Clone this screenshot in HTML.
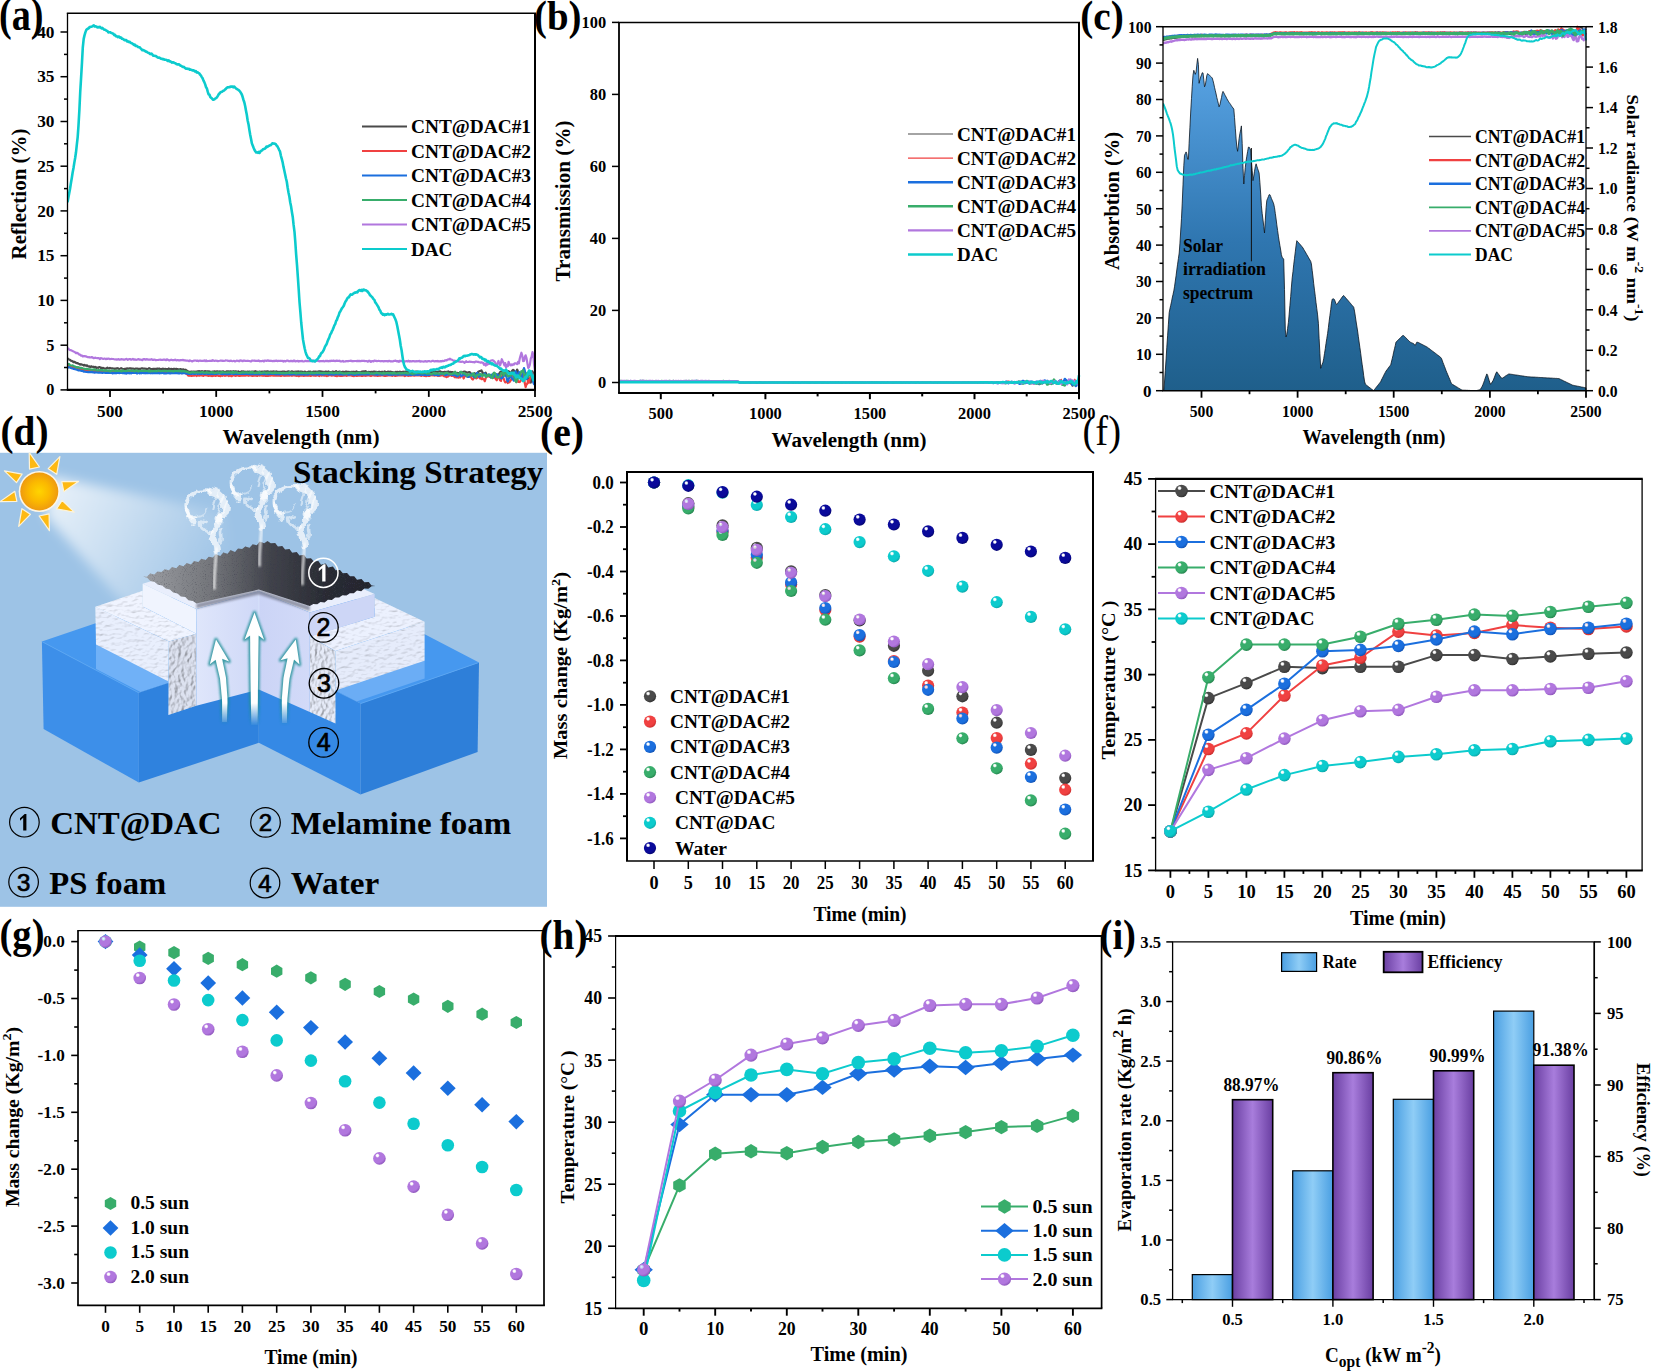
<!DOCTYPE html>
<html><head><meta charset="utf-8"><title>figure</title>
<style>html,body{margin:0;padding:0;background:#fff}svg{display:block}text{font-family:"Liberation Serif", serif}</style></head>
<body><svg width="1654" height="1371" viewBox="0 0 1654 1371">
<rect width="1654" height="1371" fill="#fff"/>
<g><clipPath id="ca"><rect x="67.5" y="13.2" width="467.5" height="376.7"/></clipPath><g clip-path="url(#ca)"><polyline points="67.5,358.1 68.3,359.2 69.2,359.5 70,359.9 70.9,360.7 71.8,360.9 72.6,361.3 73.5,362.2 74.3,361.8 75.2,362.3 76,362.9 76.8,363.1 77.7,363.2 78.5,363.7 79.4,364 80.2,364.6 81.1,364.3 82,364.6 82.8,364.8 83.7,365.5 84.5,364.9 85.3,365.5 86.2,365.8 87,365.3 87.9,366.1 88.8,366.6 89.6,366.4 90.5,367.1 91.3,366.3 92.2,366.8 93,367 93.8,366.7 94.7,367.5 95.5,367 96.4,367.9 97.2,367.6 98.1,367.8 99,367.2 99.8,367.2 100.7,367.9 101.5,367.7 102.3,368 103.2,367.9 104.1,368.3 104.9,368.6 105.8,368.7 106.6,368.2 107.4,367.7 108.3,368.3 109.2,368.5 110,367.9 110.8,368.4 111.7,368.4 112.5,368.4 113.4,368.5 114.2,368.6 115.1,368.9 116,368.4 116.8,368.6 117.7,368.2 118.5,368.7 119.3,369.1 120.2,368.6 121.1,368.1 121.9,368.7 122.8,368.9 123.6,369 124.4,368.9 125.3,368.7 126.2,369 127,368.3 127.8,368.7 128.7,368.6 129.6,368.3 130.4,368.3 131.2,368.8 132.1,368.6 132.9,368.5 133.8,368.8 134.7,369.2 135.5,368.6 136.4,368.5 137.2,368.6 138.1,369 138.9,368.8 139.8,368.9 140.6,368.8 141.4,368.4 142.3,368.4 143.1,368.6 144,368.6 144.9,368.6 145.7,368.8 146.6,368.8 147.4,369 148.2,368.8 149.1,368.2 149.9,368.6 150.8,368.9 151.6,369 152.5,369.1 153.3,368.8 154.2,368.8 155.1,369.3 155.9,368.8 156.8,369.1 157.6,368.5 158.4,368.9 159.3,368.5 160.2,369.1 161,369 161.8,368.9 162.7,368.7 163.6,368.8 164.4,369.3 165.2,368.9 166.1,369 166.9,369.1 167.8,369.2 168.7,368.5 169.5,369.1 170.3,369.2 171.2,368.9 172.1,369 172.9,369.1 173.8,368.9 174.6,368.9 175.4,369 176.3,368.8 177.2,369 178,369.3 178.9,369.3 179.7,369.3 180.6,369.1 181.4,369.5 182.2,369.7 183.1,369.3 183.9,369.7 184.8,369.9 185.7,369.7 186.5,370.5 187.3,370.8 188.2,371.5 189.1,371.9 189.9,371.9 190.8,371.7 191.6,371.6 192.4,371.8 193.3,371.6 194.2,372 195,371.6 195.8,372 196.7,371.6 197.6,371.4 198.4,371.3 199.2,371.1 200.1,372 201,371.4 201.8,371.2 202.6,371.3 203.5,371.8 204.3,371.5 205.2,371.1 206.1,372 206.9,371.4 207.8,371.3 208.6,371.8 209.5,371.4 210.3,371.9 211.1,371.8 212,371.8 212.8,371.5 213.7,371.6 214.6,371.3 215.4,371.8 216.2,371.6 217.1,371.3 218,371.4 218.8,371.9 219.7,371.4 220.5,371.7 221.3,371.5 222.2,371.5 223,371.3 223.9,371.6 224.8,372.1 225.6,372 226.5,371.4 227.3,371.7 228.2,371.3 229,371.5 229.8,371.8 230.7,371.3 231.5,371.8 232.4,372.2 233.2,371.1 234.1,372.1 234.9,371.4 235.8,371.4 236.7,371.6 237.5,372.1 238.4,371.3 239.2,372 240,372 240.9,371.7 241.8,371.4 242.6,371.5 243.4,371.4 244.3,371.8 245.2,371.7 246,371.9 246.8,371.7 247.7,371.5 248.6,371.7 249.4,371.5 250.2,371.8 251.1,371.8 251.9,371.6 252.8,371.7 253.7,371.5 254.5,371.6 255.3,371.2 256.2,371.7 257.1,371.7 257.9,371.9 258.8,371.7 259.6,371.5 260.4,371.9 261.3,371.7 262.1,371.5 263,371.7 263.9,371.8 264.7,371.4 265.6,371.7 266.4,371.6 267.2,371.4 268.1,371.4 268.9,371.8 269.8,371.8 270.6,371.6 271.5,371.7 272.4,372.2 273.2,371.4 274.1,371.7 274.9,371.5 275.8,372 276.6,371.4 277.4,371.9 278.3,371.8 279.1,372.1 280,371.8 280.9,371.8 281.7,371.8 282.6,371.6 283.4,371.7 284.2,371.5 285.1,371.9 286,372 286.8,371.8 287.6,371.6 288.5,371.4 289.4,371.5 290.2,372.2 291.1,371.7 291.9,371.4 292.8,371.7 293.6,371.9 294.5,371.7 295.3,371.9 296.1,371.6 297,371.8 297.9,371.4 298.7,371.6 299.5,372 300.4,371.6 301.2,371.5 302.1,371.9 303,371.9 303.8,372.4 304.7,371.5 305.5,371.9 306.4,372.4 307.2,372.3 308,371.9 308.9,371.6 309.8,371.8 310.6,371.7 311.5,372.1 312.3,372.2 313.2,371.6 314,371.7 314.9,371.8 315.7,371.5 316.5,372.1 317.4,371.9 318.2,371.5 319.1,371.3 320,371.8 320.8,371.4 321.6,372 322.5,371.7 323.4,371.9 324.2,372.2 325.1,371.7 325.9,371.6 326.8,371.9 327.6,371.8 328.5,371.4 329.3,372.2 330.1,372.2 331,372 331.8,372.1 332.7,371.5 333.6,371.7 334.4,372.1 335.2,372 336.1,371.1 337,372 337.8,372 338.6,371.8 339.5,371.7 340.3,371.8 341.2,372.1 342.1,372.1 342.9,371.7 343.8,371.9 344.6,372.3 345.5,371.5 346.3,371.6 347.1,371.9 348,371.9 348.9,371.8 349.7,372 350.6,372.2 351.4,371.8 352.2,372.2 353.1,371.7 353.9,372.2 354.8,371.9 355.6,371.9 356.5,371.4 357.4,372.1 358.2,372.2 359.1,372 359.9,372.2 360.8,372 361.6,371.7 362.4,371.7 363.3,371.4 364.1,372.1 365,371.2 365.9,371.3 366.7,371.9 367.6,372.5 368.4,371.9 369.2,371.9 370.1,372.5 370.9,371.9 371.8,371.9 372.6,372.1 373.5,371.7 374.4,371.6 375.2,372 376.1,371.8 376.9,372.1 377.8,372.1 378.6,371.9 379.4,371.7 380.3,372 381.1,372.5 382,371.7 382.9,372.3 383.7,371.9 384.6,371.4 385.4,371.9 386.2,372.2 387.1,372.3 387.9,371.6 388.8,371.9 389.6,371.8 390.5,371.7 391.4,371.9 392.2,372 393.1,372.2 393.9,372.7 394.8,372.3 395.6,371.9 396.4,372 397.3,371.8 398.1,372 399,371.9 399.9,371.7 400.7,372.2 401.6,372 402.4,372.4 403.2,371.7 404.1,371.9 404.9,371.8 405.8,371.5 406.6,371.6 407.5,372 408.4,371.7 409.2,372.3 410.1,371.8 410.9,371.9 411.8,372.4 412.6,371.6 413.4,372.2 414.3,371.8 415.2,372 416,371.6 416.9,371.5 417.7,372.1 418.5,372.4 419.4,372.2 420.2,372 421.1,372.2 421.9,372.1 422.8,371.9 423.7,372.9 424.5,372.2 425.4,372.3 426.2,371.9 427,372.1 427.9,372.2 428.8,371.9 429.6,372.4 430.4,372 431.3,372.2 432.2,372 433,372 433.9,371.3 434.7,371.8 435.5,371.6 436.4,371.8 437.2,372 438.1,371.7 438.9,371.6 439.8,371.3 440.7,371.6 441.5,372.1 442.3,372.5 443.2,372 444.1,372.5 444.9,371.7 445.8,372.5 446.6,371.9 447.4,372.2 448.3,371.4 449.2,372.9 450,371.9 450.8,372.2 451.7,372.1 452.6,372.2 453.4,372.8 454.2,372.5 455.1,372.3 455.9,373.5 456.8,372.8 457.7,373.1 458.5,373.4 459.3,372.8 460.2,372.7 461.1,372.2 461.9,372.3 462.8,372.3 463.6,371.7 464.4,371.5 465.3,371.7 466.2,372.3 467,372.6 467.8,372.6 468.7,372.2 469.6,372.2 470.4,372.7 471.2,374.5 472.1,375.1 472.9,375.2 473.8,374.1 474.6,373.2 475.5,373.8 476.3,373.9 477.2,374.1 478.1,372 478.9,371.5 479.8,371.1 480.6,370.9 481.5,370.4 482.3,372.1 483.1,373.4 484,374 484.8,373.2 485.7,372.7 486.6,375 487.4,375.7 488.2,375.1 489.1,375.6 490,376.3 490.8,377.2 491.6,376.3 492.5,375 493.3,376.7 494.2,374.7 495.1,375.3 495.9,374.5 496.8,374.5 497.6,374.6 498.5,375.1 499.3,373.6 500.1,372.2 501,371.6 501.8,372.3 502.7,375.4 503.6,375 504.4,375.2 505.2,375.4 506.1,375.8 506.9,374.8 507.8,372.4 508.6,371.1 509.5,372.2 510.4,372.7 511.2,373 512,371 512.9,369.9 513.8,370.2 514.6,372.4 515.5,373 516.3,372.6 517.1,369.5 518,371.5 518.9,373.9 519.7,376.1 520.5,375.5 521.4,375.4 522.2,375.3 523.1,374.8 524,377.3 524.8,378.2 525.6,378.2 526.5,376.6 527.4,379.7 528.2,377.1 529,380.4 529.9,380.8 530.8,382.5 531.6,376.8 532.5,371.4 533.3,372.9 534.1,375.6 535,377.8" fill="none" stroke="#4a4a4a" stroke-width="2.2" stroke-linejoin="round" /><polyline points="67.5,365.1 68.3,365.2 69.2,365.8 70,366.3 70.9,366.1 71.8,366.5 72.6,367.5 73.5,367.6 74.3,367.5 75.2,367.5 76,368.2 76.8,368.3 77.7,368.9 78.5,368 79.4,368.8 80.2,368.9 81.1,369.2 82,369.3 82.8,369.6 83.7,370 84.5,369.8 85.3,370.2 86.2,370 87,370.7 87.9,370.7 88.8,370.5 89.6,370.4 90.5,370.8 91.3,371.1 92.2,371 93,371.2 93.8,370.6 94.7,371 95.5,370.9 96.4,371.3 97.2,371.6 98.1,371.2 99,371.1 99.8,371.4 100.7,371.7 101.5,371.4 102.3,371.9 103.2,371.6 104.1,372 104.9,372.1 105.8,371.8 106.6,371.8 107.4,371.4 108.3,372.1 109.2,372 110,372.3 110.8,372.5 111.7,372.5 112.5,371.9 113.4,372.4 114.2,371.7 115.1,371.7 116,372.1 116.8,371.6 117.7,372 118.5,371.8 119.3,372.1 120.2,371.8 121.1,372.3 121.9,371.9 122.8,372.2 123.6,372.1 124.4,371.9 125.3,372.1 126.2,372.1 127,371.9 127.8,371.9 128.7,372.5 129.6,372 130.4,372 131.2,372.3 132.1,372 132.9,372.5 133.8,371.8 134.7,372.2 135.5,372.2 136.4,371.8 137.2,372.2 138.1,372 138.9,372.4 139.8,372.3 140.6,372.5 141.4,372.2 142.3,371.9 143.1,372.1 144,371.9 144.9,372.5 145.7,372.4 146.6,372.3 147.4,372 148.2,372.1 149.1,372.2 149.9,372 150.8,372.3 151.6,372.2 152.5,371.9 153.3,372.4 154.2,372.2 155.1,371.8 155.9,372.2 156.8,372.1 157.6,372.4 158.4,371.7 159.3,372.9 160.2,372.6 161,372.5 161.8,371.8 162.7,372.2 163.6,372.3 164.4,372.6 165.2,372.2 166.1,372.3 166.9,372.5 167.8,372.7 168.7,372.6 169.5,372.2 170.3,372.2 171.2,372.3 172.1,372.4 172.9,372.8 173.8,372.3 174.6,372.6 175.4,372.3 176.3,372.2 177.2,372.5 178,372.6 178.9,372.1 179.7,372.3 180.6,372.6 181.4,373.2 182.2,372.4 183.1,372.3 183.9,372.1 184.8,372.7 185.7,373.2 186.5,373.9 187.3,374.4 188.2,375.6 189.1,375.6 189.9,375.8 190.8,375.5 191.6,376 192.4,375.5 193.3,375.7 194.2,375.6 195,375.4 195.8,375.3 196.7,376 197.6,375.3 198.4,375.4 199.2,375.7 200.1,375.2 201,375.5 201.8,375.2 202.6,375.7 203.5,375.8 204.3,375.3 205.2,375 206.1,375.4 206.9,375.3 207.8,375.7 208.6,375.9 209.5,375.6 210.3,375.2 211.1,376.1 212,375.7 212.8,376.1 213.7,375.6 214.6,375.3 215.4,375.9 216.2,375.7 217.1,375.2 218,375.6 218.8,375.9 219.7,375.9 220.5,376.1 221.3,375.4 222.2,375.8 223,375.3 223.9,375.4 224.8,375.8 225.6,375.7 226.5,375.4 227.3,375.5 228.2,375.5 229,376 229.8,375.3 230.7,375.8 231.5,376.2 232.4,375.7 233.2,375.5 234.1,375 234.9,375.7 235.8,375.9 236.7,375 237.5,375.5 238.4,375.7 239.2,375.9 240,375.9 240.9,375.2 241.8,375.7 242.6,375.7 243.4,375.7 244.3,375.2 245.2,375.7 246,375.4 246.8,375.5 247.7,375.5 248.6,375.8 249.4,375.4 250.2,375.2 251.1,375.6 251.9,375.8 252.8,375.9 253.7,375.5 254.5,375.7 255.3,375.6 256.2,375.6 257.1,376 257.9,375.4 258.8,375.5 259.6,375.6 260.4,375.5 261.3,375.3 262.1,375.6 263,375.8 263.9,375.3 264.7,375.7 265.6,375.8 266.4,376 267.2,375.6 268.1,375.9 268.9,375.7 269.8,375.5 270.6,375.6 271.5,375.3 272.4,375.5 273.2,375.7 274.1,375.7 274.9,375.7 275.8,375.4 276.6,375.6 277.4,375.7 278.3,375.4 279.1,375.6 280,375.7 280.9,376 281.7,375.5 282.6,375.5 283.4,375.6 284.2,375.7 285.1,375.8 286,375.6 286.8,375.5 287.6,375.6 288.5,375.6 289.4,375.7 290.2,375.5 291.1,375.5 291.9,375.8 292.8,375.4 293.6,375.4 294.5,375.4 295.3,375.6 296.1,375.6 297,375.9 297.9,375.4 298.7,376.2 299.5,375.7 300.4,375.7 301.2,375.4 302.1,375.6 303,375.8 303.8,376 304.7,375.8 305.5,375.6 306.4,375.6 307.2,375.6 308,375.8 308.9,375.6 309.8,375.3 310.6,375.9 311.5,375.6 312.3,375.1 313.2,375.4 314,375.7 314.9,375.4 315.7,375.8 316.5,375.6 317.4,375.2 318.2,375.1 319.1,376 320,375.4 320.8,375.1 321.6,375.7 322.5,375.5 323.4,375.2 324.2,375.7 325.1,375.5 325.9,375.6 326.8,376.1 327.6,375.5 328.5,375.6 329.3,375.3 330.1,375 331,375.4 331.8,375.7 332.7,375.5 333.6,375.5 334.4,375.3 335.2,376 336.1,375.9 337,376.1 337.8,375.4 338.6,375.6 339.5,375.8 340.3,375.8 341.2,375.7 342.1,375.8 342.9,375.7 343.8,375.7 344.6,375.2 345.5,375.5 346.3,375.8 347.1,375.7 348,375.3 348.9,375.5 349.7,375.5 350.6,375.4 351.4,375.2 352.2,375.9 353.1,375.8 353.9,376.1 354.8,375.5 355.6,375.7 356.5,375.8 357.4,375.8 358.2,375.4 359.1,375.6 359.9,375.7 360.8,375.2 361.6,375.9 362.4,375.9 363.3,374.9 364.1,375.7 365,375.7 365.9,375.8 366.7,375.6 367.6,375.4 368.4,375.4 369.2,375.4 370.1,375.7 370.9,376 371.8,375.5 372.6,375.2 373.5,375.3 374.4,375.6 375.2,375.4 376.1,375.7 376.9,375.6 377.8,375.9 378.6,375.7 379.4,375.5 380.3,375.6 381.1,375.4 382,375.1 382.9,375.2 383.7,375.7 384.6,375.8 385.4,375.8 386.2,375.8 387.1,375.6 387.9,375.5 388.8,375.5 389.6,375.5 390.5,375.5 391.4,375.6 392.2,375.8 393.1,375.1 393.9,375.3 394.8,375.8 395.6,375.8 396.4,375.7 397.3,375.6 398.1,375.2 399,375.3 399.9,375.3 400.7,375.3 401.6,375.3 402.4,375.4 403.2,375.5 404.1,375.6 404.9,376.1 405.8,375.6 406.6,375.1 407.5,375.7 408.4,375.8 409.2,375.3 410.1,375.6 410.9,375.7 411.8,375.2 412.6,375.5 413.4,375.4 414.3,375.7 415.2,375.4 416,375.5 416.9,375.3 417.7,375.3 418.5,375.2 419.4,375.5 420.2,375.3 421.1,375.9 421.9,375.5 422.8,375.5 423.7,375.7 424.5,375.8 425.4,375.7 426.2,376.2 427,375.6 427.9,375.6 428.8,375.9 429.6,375.8 430.4,375.4 431.3,375.3 432.2,375.1 433,375.4 433.9,375.5 434.7,375.6 435.5,375.3 436.4,375 437.2,375.7 438.1,375.9 438.9,375.3 439.8,375.9 440.7,375.1 441.5,375.5 442.3,375.3 443.2,375.2 444.1,376.2 444.9,376.4 445.8,376.6 446.6,377.1 447.4,376.6 448.3,376.4 449.2,374.8 450,375.3 450.8,375 451.7,376 452.6,375.6 453.4,375.4 454.2,376.7 455.1,377.3 455.9,377 456.8,377.5 457.7,377.3 458.5,377.7 459.3,376.5 460.2,377.4 461.1,375.5 461.9,376.2 462.8,375.8 463.6,378.5 464.4,376.9 465.3,375.7 466.2,376.1 467,376.5 467.8,376.8 468.7,376.6 469.6,376.7 470.4,375.8 471.2,377.4 472.1,379.1 472.9,379.5 473.8,378.1 474.6,375.6 475.5,377.2 476.3,378.4 477.2,377.8 478.1,376.9 478.9,376.2 479.8,378.3 480.6,378 481.5,379.2 482.3,377.8 483.1,379.2 484,379.3 484.8,381.2 485.7,378.1 486.6,377 487.4,375.2 488.2,376.2 489.1,376.6 490,376.8 490.8,375 491.6,375.1 492.5,376.8 493.3,377.8 494.2,377.5 495.1,377.1 495.9,379.3 496.8,380.3 497.6,376.5 498.5,376.9 499.3,378 500.1,380.4 501,380.9 501.8,376.4 502.7,377.2 503.6,378.4 504.4,380.7 505.2,382.4 506.1,382 506.9,381.3 507.8,383.1 508.6,381.3 509.5,382.3 510.4,380.7 511.2,379.7 512,375 512.9,374.9 513.8,373.7 514.6,379.5 515.5,378.2 516.3,382.1 517.1,378.8 518,381.8 518.9,381.7 519.7,382.1 520.5,381 521.4,379 522.2,374.2 523.1,375 524,375.7 524.8,383.3 525.6,387.1 526.5,384.4 527.4,383.6 528.2,380 529,382.7 529.9,378.1 530.8,376.4 531.6,372.5 532.5,374.4 533.3,379 534.1,382.8 535,383.5" fill="none" stroke="#f04141" stroke-width="2.2" stroke-linejoin="round" /><polyline points="67.5,366.7 68.3,367.6 69.2,367.2 70,367.6 70.9,368 71.8,368.3 72.6,368.3 73.5,368.9 74.3,368.9 75.2,369.3 76,369.5 76.8,369.7 77.7,370 78.5,370.4 79.4,370.3 80.2,370.5 81.1,370.8 82,370.9 82.8,371 83.7,371.6 84.5,371.5 85.3,371.7 86.2,371.9 87,371.8 87.9,372.1 88.8,372.1 89.6,372 90.5,372.1 91.3,372.1 92.2,371.8 93,372.4 93.8,372.3 94.7,372.6 95.5,372.3 96.4,372.3 97.2,372.3 98.1,372.7 99,372.6 99.8,372.4 100.7,372.7 101.5,372.5 102.3,372.9 103.2,372.5 104.1,372.6 104.9,372.7 105.8,373 106.6,372.9 107.4,372.8 108.3,372.8 109.2,372.9 110,372.9 110.8,372.9 111.7,372.7 112.5,373.3 113.4,373.2 114.2,373.2 115.1,373.1 116,373.3 116.8,372.9 117.7,372.9 118.5,373 119.3,373.1 120.2,373 121.1,373 121.9,372.9 122.8,373.1 123.6,372.9 124.4,373.3 125.3,372.8 126.2,373.6 127,373.1 127.8,373.2 128.7,372.9 129.6,373.3 130.4,372.7 131.2,373.3 132.1,372.7 132.9,373 133.8,373 134.7,373 135.5,372.7 136.4,372.9 137.2,373.5 138.1,372.8 138.9,373 139.8,373.4 140.6,372.9 141.4,373.3 142.3,373 143.1,373 144,373.2 144.9,373 145.7,373.3 146.6,373.1 147.4,373.2 148.2,373.1 149.1,372.8 149.9,373.1 150.8,373.3 151.6,373.1 152.5,373.3 153.3,373.1 154.2,373.1 155.1,373.1 155.9,373.1 156.8,373.2 157.6,373.1 158.4,373 159.3,373.3 160.2,373.2 161,373.2 161.8,372.9 162.7,373 163.6,373.3 164.4,373.2 165.2,373.4 166.1,373.4 166.9,373.2 167.8,373.1 168.7,373 169.5,373.3 170.3,373.4 171.2,373.1 172.1,373.2 172.9,373.1 173.8,373.2 174.6,373.1 175.4,373.1 176.3,373.1 177.2,373.3 178,373.1 178.9,373.4 179.7,373.3 180.6,373 181.4,373.2 182.2,373.5 183.1,373.1 183.9,373.2 184.8,373.2 185.7,373.4 186.5,373.5 187.3,373.7 188.2,373.9 189.1,373.5 189.9,373.9 190.8,373.9 191.6,373.9 192.4,373.5 193.3,373.6 194.2,373.9 195,373.8 195.8,373.7 196.7,373.6 197.6,374.1 198.4,373.6 199.2,373.8 200.1,373.9 201,373.9 201.8,373.7 202.6,373.5 203.5,373.8 204.3,373.7 205.2,373.9 206.1,373.7 206.9,373.7 207.8,374.1 208.6,373.9 209.5,373.7 210.3,374.1 211.1,373.9 212,373.7 212.8,374.1 213.7,373.9 214.6,373.8 215.4,373.7 216.2,374.1 217.1,373.6 218,373.8 218.8,373.6 219.7,373.6 220.5,373.8 221.3,373.8 222.2,374.2 223,374.1 223.9,374 224.8,373.9 225.6,373.7 226.5,374.2 227.3,373.9 228.2,374.1 229,374.2 229.8,373.6 230.7,373.9 231.5,373.6 232.4,373.7 233.2,374.1 234.1,374.2 234.9,373.5 235.8,374 236.7,374.1 237.5,373.8 238.4,373.9 239.2,374 240,374 240.9,373.9 241.8,373.9 242.6,373.8 243.4,374 244.3,374 245.2,373.8 246,373.9 246.8,373.8 247.7,374 248.6,374 249.4,374.2 250.2,373.7 251.1,374.2 251.9,374 252.8,374.2 253.7,373.9 254.5,373.9 255.3,374.3 256.2,374 257.1,374.3 257.9,373.8 258.8,374.1 259.6,374.3 260.4,374.2 261.3,373.8 262.1,373.8 263,373.8 263.9,374.2 264.7,374.1 265.6,373.8 266.4,374.2 267.2,374.1 268.1,374.2 268.9,374.3 269.8,373.9 270.6,374 271.5,374 272.4,374 273.2,373.9 274.1,373.8 274.9,374.1 275.8,374.2 276.6,374.3 277.4,373.9 278.3,374.2 279.1,374.4 280,374.2 280.9,374.1 281.7,374 282.6,374 283.4,374.3 284.2,374.3 285.1,374.2 286,374.4 286.8,374.2 287.6,374.1 288.5,374.2 289.4,374.5 290.2,374.4 291.1,374 291.9,374.4 292.8,374.1 293.6,374.1 294.5,374.3 295.3,374.4 296.1,374.2 297,374.4 297.9,374.3 298.7,374.2 299.5,374.4 300.4,374.3 301.2,374.3 302.1,374.5 303,374.3 303.8,374.4 304.7,374.6 305.5,374.3 306.4,374.3 307.2,374.4 308,374.6 308.9,374.1 309.8,374.2 310.6,374.2 311.5,374.2 312.3,374.5 313.2,374.3 314,374.5 314.9,373.9 315.7,374.4 316.5,374.2 317.4,374.6 318.2,374.5 319.1,374.4 320,374.2 320.8,374.2 321.6,374.3 322.5,374.6 323.4,374.1 324.2,374.5 325.1,374 325.9,374 326.8,374.2 327.6,374.2 328.5,374.6 329.3,373.9 330.1,374.3 331,374.2 331.8,374.5 332.7,374.4 333.6,374.6 334.4,374.4 335.2,374.3 336.1,374.3 337,374.1 337.8,374.3 338.6,374.3 339.5,374.4 340.3,374 341.2,374.5 342.1,374.2 342.9,374.7 343.8,374.5 344.6,374.3 345.5,374.4 346.3,373.8 347.1,373.9 348,374.7 348.9,374.6 349.7,374.4 350.6,374.1 351.4,374.2 352.2,374.3 353.1,374.7 353.9,374.6 354.8,374.9 355.6,374.7 356.5,374.3 357.4,374.3 358.2,374.6 359.1,374.4 359.9,374.1 360.8,374.4 361.6,374.5 362.4,374.3 363.3,374.3 364.1,374.4 365,374.5 365.9,374.5 366.7,374.4 367.6,374.5 368.4,374.2 369.2,374.3 370.1,374.2 370.9,374.1 371.8,374.2 372.6,374.2 373.5,374.4 374.4,374.5 375.2,374 376.1,374.6 376.9,374.6 377.8,374.6 378.6,374.4 379.4,374.4 380.3,374.3 381.1,374.5 382,374.8 382.9,374.4 383.7,374.3 384.6,374.5 385.4,374.5 386.2,374.4 387.1,374.2 387.9,374.5 388.8,374.8 389.6,374.6 390.5,374.5 391.4,374.8 392.2,374.4 393.1,374.7 393.9,374.4 394.8,374.5 395.6,374.6 396.4,374.2 397.3,374.6 398.1,374.7 399,374.5 399.9,374.4 400.7,374.5 401.6,374.7 402.4,374.4 403.2,374.5 404.1,374.2 404.9,374.6 405.8,374.5 406.6,374.7 407.5,374.8 408.4,374.6 409.2,374.4 410.1,374.8 410.9,374.7 411.8,374.8 412.6,374.3 413.4,374.7 414.3,374.5 415.2,374.8 416,374.7 416.9,374.7 417.7,375 418.5,374.5 419.4,374.4 420.2,374.9 421.1,374.6 421.9,374.8 422.8,374.8 423.7,374.6 424.5,374.9 425.4,374.7 426.2,374.7 427,375.2 427.9,375 428.8,374.8 429.6,374.9 430.4,374.5 431.3,374.5 432.2,374.3 433,374.5 433.9,374.4 434.7,375 435.5,374.8 436.4,374.8 437.2,375 438.1,375.3 438.9,375.2 439.8,374.4 440.7,373.9 441.5,374.1 442.3,373.8 443.2,374 444.1,374.4 444.9,374.9 445.8,375.2 446.6,374.4 447.4,374.6 448.3,374.4 449.2,374.4 450,374.6 450.8,374.5 451.7,374.4 452.6,375.1 453.4,374.4 454.2,374.9 455.1,375.3 455.9,375.7 456.8,376.3 457.7,376.2 458.5,375.3 459.3,374.4 460.2,374.5 461.1,376.2 461.9,375.8 462.8,375.1 463.6,373.9 464.4,373.8 465.3,375.3 466.2,375.8 467,376.3 467.8,376.8 468.7,376.8 469.6,376.4 470.4,375.1 471.2,374.1 472.1,374.6 472.9,376 473.8,376.8 474.6,377.4 475.5,375.6 476.3,374.8 477.2,372.8 478.1,374.5 478.9,376.6 479.8,376.4 480.6,374.9 481.5,374.6 482.3,375.7 483.1,375.4 484,375.2 484.8,373.4 485.7,375.5 486.6,375.4 487.4,375.4 488.2,375.2 489.1,374.4 490,374.9 490.8,377.5 491.6,374.7 492.5,376.6 493.3,374 494.2,376.8 495.1,375.2 495.9,374 496.8,374.8 497.6,374.5 498.5,376 499.3,376.1 500.1,377.3 501,378.4 501.8,378.4 502.7,377.1 503.6,376.2 504.4,373.1 505.2,373.6 506.1,374.6 506.9,379.4 507.8,381.5 508.6,379.5 509.5,376.7 510.4,376.8 511.2,375.8 512,378.8 512.9,379.1 513.8,380.7 514.6,374.3 515.5,371.3 516.3,372.9 517.1,376 518,375.7 518.9,372 519.7,374.2 520.5,376.5 521.4,378.3 522.2,376.8 523.1,372.1 524,368.1 524.8,370.6 525.6,374.5 526.5,378.8 527.4,378.2 528.2,375.8 529,375 529.9,374.1 530.8,372.1 531.6,373.5 532.5,376 533.3,382.6 534.1,384.2 535,382.2" fill="none" stroke="#1b6fde" stroke-width="2.2" stroke-linejoin="round" /><polyline points="67.5,363.7 68.3,364.1 69.2,364.2 70,365.2 70.9,365.5 71.8,365.5 72.6,365.4 73.5,365.9 74.3,366.2 75.2,366.5 76,367.3 76.8,367 77.7,367.6 78.5,367.2 79.4,367.6 80.2,367.8 81.1,367.9 82,368.1 82.8,368.3 83.7,368.5 84.5,368.9 85.3,369.2 86.2,368.9 87,368.7 87.9,369 88.8,369.4 89.6,369.2 90.5,369.6 91.3,369.5 92.2,369.8 93,369.7 93.8,369.3 94.7,369.7 95.5,369.5 96.4,370.2 97.2,370.3 98.1,370.2 99,370.1 99.8,370.3 100.7,370 101.5,370.5 102.3,370 103.2,370.2 104.1,370.8 104.9,370.4 105.8,370.6 106.6,370.3 107.4,370.8 108.3,370.6 109.2,370.5 110,371.4 110.8,371.2 111.7,370.6 112.5,370.7 113.4,370.4 114.2,370.6 115.1,371.1 116,370.6 116.8,370.9 117.7,370.8 118.5,370.9 119.3,370.6 120.2,371.1 121.1,371.1 121.9,371.4 122.8,370.2 123.6,371 124.4,371 125.3,371.1 126.2,371 127,370.9 127.8,370.6 128.7,370.7 129.6,370.7 130.4,371 131.2,370.8 132.1,370.5 132.9,370.8 133.8,370.7 134.7,371.4 135.5,370.7 136.4,370.7 137.2,370.5 138.1,371.6 138.9,370.8 139.8,370.9 140.6,370.8 141.4,371 142.3,370.8 143.1,370.7 144,370.8 144.9,370.9 145.7,370.9 146.6,371 147.4,370.9 148.2,371.1 149.1,371.4 149.9,370.5 150.8,371.4 151.6,370.9 152.5,371.2 153.3,371 154.2,371.2 155.1,370.9 155.9,371.1 156.8,371.3 157.6,370.8 158.4,370.6 159.3,370.8 160.2,370.9 161,371.2 161.8,371 162.7,370.8 163.6,371.1 164.4,370.7 165.2,371 166.1,370.9 166.9,371.1 167.8,371.1 168.7,370.9 169.5,370.9 170.3,370.9 171.2,371.2 172.1,371.2 172.9,371 173.8,371.5 174.6,370.7 175.4,370.9 176.3,371 177.2,371.2 178,370.8 178.9,371.1 179.7,370.5 180.6,371 181.4,371.5 182.2,370.9 183.1,371.2 183.9,371.3 184.8,371.2 185.7,371.4 186.5,371.6 187.3,371.9 188.2,372.2 189.1,372.7 189.9,372.8 190.8,372.7 191.6,372.4 192.4,372.2 193.3,372 194.2,372.8 195,372.4 195.8,372.5 196.7,372.6 197.6,372.4 198.4,372.5 199.2,372.5 200.1,372.6 201,372.4 201.8,372.2 202.6,372 203.5,372.6 204.3,372.8 205.2,372.5 206.1,372.7 206.9,372.2 207.8,372.7 208.6,372.5 209.5,372.8 210.3,372.6 211.1,372.4 212,372.1 212.8,372.7 213.7,372.4 214.6,373.1 215.4,372.8 216.2,372.7 217.1,372.6 218,372.4 218.8,372.3 219.7,372.9 220.5,372.4 221.3,372.8 222.2,372 223,372.4 223.9,372.5 224.8,372.6 225.6,372.5 226.5,372.5 227.3,372.7 228.2,372.3 229,372.5 229.8,372.4 230.7,372.6 231.5,372.4 232.4,372.8 233.2,371.6 234.1,372.8 234.9,372.7 235.8,372.3 236.7,372.3 237.5,372.8 238.4,373 239.2,373 240,372.9 240.9,372.8 241.8,372.7 242.6,372.3 243.4,372.3 244.3,372.8 245.2,372.5 246,372.4 246.8,372.3 247.7,372.7 248.6,372.8 249.4,372.4 250.2,372.2 251.1,372.8 251.9,372.1 252.8,372.2 253.7,372.7 254.5,373.1 255.3,372.8 256.2,372.8 257.1,372.5 257.9,373.1 258.8,372 259.6,372.1 260.4,372.9 261.3,373.2 262.1,372.8 263,372.6 263.9,372.4 264.7,372.5 265.6,372.8 266.4,373.3 267.2,372.6 268.1,372.5 268.9,372.8 269.8,372.7 270.6,372.7 271.5,372.8 272.4,373.1 273.2,372.7 274.1,373.2 274.9,372.4 275.8,373 276.6,372.7 277.4,373 278.3,372.7 279.1,372.9 280,372.7 280.9,373 281.7,373.3 282.6,372.9 283.4,372.9 284.2,373.2 285.1,373 286,373.3 286.8,372.8 287.6,373 288.5,372.9 289.4,372.2 290.2,372.8 291.1,372.8 291.9,372.7 292.8,372.9 293.6,373 294.5,372.7 295.3,372.6 296.1,373.7 297,372.9 297.9,373 298.7,373.1 299.5,372.6 300.4,373.1 301.2,372.7 302.1,373.1 303,373 303.8,372.7 304.7,373.1 305.5,373 306.4,373.2 307.2,373.2 308,372.8 308.9,372.8 309.8,373.3 310.6,373.3 311.5,372.3 312.3,373.1 313.2,373.2 314,372.8 314.9,373.2 315.7,373.1 316.5,372.7 317.4,372.7 318.2,373 319.1,372.6 320,373 320.8,373 321.6,373 322.5,373.1 323.4,372.9 324.2,372.9 325.1,373.2 325.9,373 326.8,373.1 327.6,373.2 328.5,373 329.3,372.7 330.1,372.9 331,372.7 331.8,372.6 332.7,373 333.6,373.2 334.4,373.2 335.2,372.9 336.1,372.8 337,372.6 337.8,373.4 338.6,372.8 339.5,372.7 340.3,372.4 341.2,373 342.1,373 342.9,373.4 343.8,373.3 344.6,373.3 345.5,373.3 346.3,373.3 347.1,373.5 348,373.1 348.9,373 349.7,372.9 350.6,373.1 351.4,372.8 352.2,372.8 353.1,373.5 353.9,373.1 354.8,373.4 355.6,373.3 356.5,373 357.4,373.1 358.2,372.7 359.1,372.5 359.9,373 360.8,373.1 361.6,373.1 362.4,373.1 363.3,372.9 364.1,373.3 365,372.9 365.9,373.2 366.7,372.8 367.6,372.7 368.4,372.6 369.2,373.1 370.1,373.5 370.9,373.6 371.8,373.2 372.6,373.5 373.5,373.6 374.4,373.2 375.2,373.4 376.1,372.9 376.9,372.6 377.8,373.2 378.6,373 379.4,373.6 380.3,373.1 381.1,373.3 382,373.4 382.9,373.6 383.7,372.7 384.6,373.6 385.4,373.5 386.2,373.1 387.1,373.1 387.9,373.1 388.8,373.1 389.6,373.4 390.5,373 391.4,373.1 392.2,373.6 393.1,372.7 393.9,373.3 394.8,372.9 395.6,373.6 396.4,373.5 397.3,373.3 398.1,373.4 399,372.9 399.9,373.6 400.7,373.2 401.6,373.5 402.4,373.1 403.2,373.2 404.1,373.4 404.9,372.6 405.8,373.2 406.6,372.9 407.5,373.6 408.4,373.3 409.2,373.2 410.1,373.2 410.9,373.3 411.8,373.5 412.6,374.1 413.4,373.4 414.3,373.5 415.2,373.4 416,373.1 416.9,372.7 417.7,373.1 418.5,372.9 419.4,373 420.2,373.1 421.1,373.1 421.9,373.4 422.8,373.4 423.7,373.2 424.5,372.8 425.4,373 426.2,372.8 427,373.8 427.9,373.5 428.8,373.2 429.6,373.3 430.4,374 431.3,374.2 432.2,373.9 433,373.4 433.9,372.7 434.7,373.6 435.5,373.8 436.4,373.3 437.2,373.5 438.1,373.4 438.9,373.6 439.8,373.8 440.7,373.4 441.5,373.1 442.3,373.6 443.2,373.4 444.1,374.1 444.9,373 445.8,373.1 446.6,372.7 447.4,372.9 448.3,373.5 449.2,373.9 450,373.8 450.8,373.8 451.7,374 452.6,373.9 453.4,373.1 454.2,373.3 455.1,371.7 455.9,373.7 456.8,373.4 457.7,374.7 458.5,374.6 459.3,373.6 460.2,372.1 461.1,371.7 461.9,372.5 462.8,373.3 463.6,373.4 464.4,373 465.3,374.1 466.2,374.5 467,376 467.8,374.7 468.7,374.7 469.6,374.3 470.4,375.4 471.2,375.3 472.1,375.5 472.9,373.3 473.8,373.5 474.6,375.7 475.5,377.3 476.3,376.6 477.2,374.9 478.1,375 478.9,374.8 479.8,373.9 480.6,374.6 481.5,374.4 482.3,376.4 483.1,374.5 484,374.5 484.8,374.7 485.7,376.9 486.6,376.6 487.4,375.5 488.2,374.6 489.1,375.8 490,374.9 490.8,376.3 491.6,377.6 492.5,378.2 493.3,373.5 494.2,372.6 495.1,373.3 495.9,375.6 496.8,377.2 497.6,377.5 498.5,377.2 499.3,376.7 500.1,376.2 501,373 501.8,373.1 502.7,371.9 503.6,375.5 504.4,373.5 505.2,372 506.1,371.8 506.9,374.8 507.8,376.4 508.6,376 509.5,375.3 510.4,375.7 511.2,375.2 512,373.2 512.9,373.3 513.8,374.1 514.6,378 515.5,381.1 516.3,382.2 517.1,379.3 518,378.8 518.9,376.8 519.7,376.5 520.5,373.5 521.4,371.2 522.2,371.9 523.1,370.1 524,373.8 524.8,376.5 525.6,375.2 526.5,374 527.4,372.6 528.2,377 529,374.3 529.9,373.8 530.8,372 531.6,376.7 532.5,377.6 533.3,379.1 534.1,378 535,378.7" fill="none" stroke="#38ad6b" stroke-width="2.2" stroke-linejoin="round" /><polyline points="67.5,348.2 68.3,348.5 69.2,349.6 70,350.1 70.9,350.2 71.8,350.6 72.6,351.1 73.5,351.5 74.3,351.8 75.2,352.4 76,353.1 76.8,352.8 77.7,353.3 78.5,353.8 79.4,354.7 80.2,354.7 81.1,355.7 82,355.5 82.8,356.4 83.7,356.1 84.5,356 85.3,356.5 86.2,356.3 87,356.9 87.9,357.1 88.8,357.3 89.6,357.2 90.5,357.5 91.3,357.2 92.2,357.2 93,357.7 93.8,358.2 94.7,357.8 95.5,357.7 96.4,358 97.2,358.2 98.1,358.1 99,358 99.8,359.2 100.7,358.1 101.5,358.4 102.3,358.5 103.2,358.9 104.1,358.7 104.9,358.6 105.8,359.2 106.6,358.7 107.4,358.9 108.3,358.6 109.2,358.8 110,359.1 110.8,359 111.7,358.9 112.5,359 113.4,359 114.2,359.3 115.1,359.5 116,359.3 116.8,359.6 117.7,359.4 118.5,359.1 119.3,359.7 120.2,359.6 121.1,359.1 121.9,359.4 122.8,359.3 123.6,359.6 124.4,359.6 125.3,359.4 126.2,358.9 127,359.2 127.8,359.8 128.7,359.3 129.6,359.1 130.4,359.2 131.2,359.7 132.1,359.4 132.9,358.9 133.8,359.7 134.7,359.4 135.5,359.7 136.4,359.8 137.2,359.6 138.1,359.2 138.9,359.2 139.8,359.7 140.6,359.6 141.4,359.8 142.3,360.1 143.1,359.4 144,359.1 144.9,359.2 145.7,359.7 146.6,359.2 147.4,359.3 148.2,359.7 149.1,359.6 149.9,359.7 150.8,359.6 151.6,359.2 152.5,359.9 153.3,360 154.2,359.5 155.1,359.7 155.9,360.2 156.8,360 157.6,360 158.4,359.9 159.3,359.7 160.2,359.5 161,359.9 161.8,359.8 162.7,360 163.6,359.6 164.4,359.5 165.2,359.9 166.1,360.1 166.9,359.3 167.8,359.7 168.7,360.2 169.5,360.4 170.3,360 171.2,359.7 172.1,360.1 172.9,360.1 173.8,360.2 174.6,359.9 175.4,359.7 176.3,360.4 177.2,360.2 178,360.2 178.9,360.3 179.7,360.5 180.6,360 181.4,360.2 182.2,360.1 183.1,359.9 183.9,360.4 184.8,360.2 185.7,360.6 186.5,360.6 187.3,360.6 188.2,360.8 189.1,361.2 189.9,360.4 190.8,360.8 191.6,361.1 192.4,361.4 193.3,360.8 194.2,360.6 195,360.5 195.8,360.5 196.7,360.9 197.6,360.6 198.4,361.2 199.2,360.8 200.1,360.6 201,361 201.8,360.8 202.6,360.8 203.5,360.8 204.3,360.4 205.2,361.1 206.1,360.4 206.9,361.1 207.8,361 208.6,361 209.5,360.8 210.3,360.9 211.1,360.7 212,360.8 212.8,360.2 213.7,360.7 214.6,360.9 215.4,360.7 216.2,360.7 217.1,360.9 218,361.1 218.8,361 219.7,360.8 220.5,360.6 221.3,360.7 222.2,360.8 223,360.7 223.9,361 224.8,360.8 225.6,360.4 226.5,360.5 227.3,360.5 228.2,360.9 229,360.8 229.8,361.1 230.7,360.6 231.5,361 232.4,361.2 233.2,361 234.1,360.8 234.9,361.4 235.8,361.2 236.7,360.6 237.5,360.8 238.4,360.9 239.2,361.3 240,360.4 240.9,360.6 241.8,360.7 242.6,361.2 243.4,360.7 244.3,360.6 245.2,361 246,360.9 246.8,361 247.7,360.7 248.6,360.9 249.4,361 250.2,361.3 251.1,361.3 251.9,360.6 252.8,360.5 253.7,360.7 254.5,360.5 255.3,361 256.2,360.9 257.1,360.8 257.9,361 258.8,360.5 259.6,361.3 260.4,361.1 261.3,361 262.1,361.1 263,360.7 263.9,361.5 264.7,360.6 265.6,360.7 266.4,360.9 267.2,360.6 268.1,360.3 268.9,360.9 269.8,360.7 270.6,360.8 271.5,360.8 272.4,361.1 273.2,361.1 274.1,360.8 274.9,361.1 275.8,360.7 276.6,360.7 277.4,361.1 278.3,360.9 279.1,360.9 280,361 280.9,360.7 281.7,361 282.6,360.9 283.4,361.5 284.2,360.8 285.1,361.4 286,361.1 286.8,360.6 287.6,360.5 288.5,361.1 289.4,361.3 290.2,360.9 291.1,361.1 291.9,360.9 292.8,361.4 293.6,360.7 294.5,360.6 295.3,361.4 296.1,361.2 297,361.2 297.9,360.8 298.7,361.5 299.5,361 300.4,361.1 301.2,361.2 302.1,360.8 303,361.5 303.8,361.4 304.7,361.2 305.5,360.8 306.4,361.1 307.2,361.2 308,360.9 308.9,361.2 309.8,361.2 310.6,361.1 311.5,360.9 312.3,360.3 313.2,361.3 314,361 314.9,361.1 315.7,361.1 316.5,360.6 317.4,360.8 318.2,360.9 319.1,361.2 320,361.3 320.8,361 321.6,361.1 322.5,361.2 323.4,360.9 324.2,361.4 325.1,361.2 325.9,360.8 326.8,361.1 327.6,360.9 328.5,361.3 329.3,360.9 330.1,361.2 331,360.7 331.8,360.8 332.7,360.9 333.6,360.6 334.4,361 335.2,361.2 336.1,360.6 337,361 337.8,360.7 338.6,361 339.5,360.7 340.3,361.3 341.2,361.4 342.1,361.4 342.9,360.9 343.8,361.6 344.6,361.5 345.5,361.4 346.3,361 347.1,361 348,361.3 348.9,360.9 349.7,361 350.6,360.7 351.4,360.8 352.2,361.3 353.1,361 353.9,361.1 354.8,361 355.6,361 356.5,361.1 357.4,360.9 358.2,361.1 359.1,360.9 359.9,361.1 360.8,361.1 361.6,360.8 362.4,360.8 363.3,360.8 364.1,360.9 365,361.1 365.9,361 366.7,361 367.6,361.6 368.4,361.4 369.2,360.7 370.1,361.1 370.9,361.9 371.8,361.1 372.6,361.1 373.5,361.4 374.4,360.5 375.2,360.8 376.1,360.9 376.9,361.2 377.8,361 378.6,360.9 379.4,361 380.3,361.3 381.1,361.1 382,361.1 382.9,361 383.7,361.4 384.6,361 385.4,361.1 386.2,361.1 387.1,361.1 387.9,361.5 388.8,360.9 389.6,360.9 390.5,361.5 391.4,361.2 392.2,361.4 393.1,361.3 393.9,360.9 394.8,361 395.6,360.6 396.4,361.1 397.3,361.4 398.1,361.1 399,361.8 399.9,360.7 400.7,361.1 401.6,361 402.4,361.1 403.2,361.4 404.1,361.2 404.9,361.4 405.8,361.3 406.6,361.1 407.5,361.5 408.4,360.7 409.2,361.5 410.1,361 410.9,361.4 411.8,361.5 412.6,361.1 413.4,361.2 414.3,361.3 415.2,361.2 416,361.4 416.9,361.1 417.7,361.3 418.5,361.2 419.4,360.9 420.2,361.6 421.1,361.4 421.9,361.4 422.8,361.5 423.7,361.6 424.5,361.3 425.4,361.2 426.2,361.3 427,361.7 427.9,361.1 428.8,361.1 429.6,361.2 430.4,361.5 431.3,361.5 432.2,360.8 433,360.8 433.9,361.2 434.7,361.5 435.5,361 436.4,361.3 437.2,360.9 438.1,361.5 438.9,361.2 439.8,361.4 440.7,361.1 441.5,361.4 442.3,360.9 443.2,361.1 444.1,361 444.9,360.4 445.8,360.2 446.6,360.5 447.4,359.7 448.3,359.4 449.2,359.3 450,358.7 450.8,359.5 451.7,359.5 452.6,360.3 453.4,360.5 454.2,360.6 455.1,360.8 455.9,361.1 456.8,361.1 457.7,361.2 458.5,361.3 459.3,361.7 460.2,361.6 461.1,361.9 461.9,361.7 462.8,361.7 463.6,362 464.4,362.8 465.3,362.1 466.2,361.2 467,362 467.8,362 468.7,362 469.6,361.5 470.4,361.8 471.2,361.9 472.1,362 472.9,362.1 473.8,362.2 474.6,362.3 475.5,361.6 476.3,361.6 477.2,361.8 478.1,361.9 478.9,362.1 479.8,362.3 480.6,362.7 481.5,362.3 482.3,362.6 483.1,362.8 484,364.8 484.8,363.8 485.7,365.6 486.6,362.7 487.4,364.7 488.2,363.4 489.1,363.9 490,361.5 490.8,360.5 491.6,360.4 492.5,360.2 493.3,360.5 494.2,361.4 495.1,362.2 495.9,365 496.8,364.8 497.6,363.1 498.5,361 499.3,364 500.1,365.4 501,362.6 501.8,359.2 502.7,361.2 503.6,362.9 504.4,365.5 505.2,363.1 506.1,367.4 506.9,364.9 507.8,366.2 508.6,361.8 509.5,364.3 510.4,365.4 511.2,364.4 512,365.3 512.9,364.4 513.8,364.7 514.6,363.3 515.5,363.3 516.3,363.5 517.1,364.1 518,362 518.9,363.3 519.7,358.8 520.5,355.7 521.4,352.7 522.2,355.4 523.1,361.1 524,361 524.8,356.9 525.6,355.3 526.5,358.2 527.4,363.3 528.2,367.9 529,367.1 529.9,364.6 530.8,358.4 531.6,356.8 532.5,352 533.3,354.6 534.1,364.8 535,370.8" fill="none" stroke="#b177de" stroke-width="2.2" stroke-linejoin="round" /><polyline points="67.5,202.3 68.3,198 69.2,193.3 70,189 70.9,183.3 71.8,178 72.6,172.7 73.5,168 74.3,162.9 75.2,157.8 76,152.3 76.8,144.8 77.7,136.8 78.5,125.3 79.4,109.6 80.2,92.5 81.1,77.6 82,62.3 82.8,47.3 83.7,38.9 84.5,35.4 85.3,32.6 86.2,30.1 87,29.2 87.9,28.8 88.8,28.1 89.6,27.1 90.5,26.9 91.3,26.8 92.2,26.3 93,25.8 93.8,25.3 94.7,26.5 95.5,26.4 96.4,26.6 97.2,27.4 98.1,27.1 99,27.4 99.8,26.8 100.7,27.6 101.5,28.4 102.3,27.9 103.2,28.7 104.1,29.6 104.9,29.7 105.8,30.2 106.6,30.8 107.4,31 108.3,32.4 109.2,32.2 110,32.2 110.8,32.7 111.7,33 112.5,33.5 113.4,33.8 114.2,35.1 115.1,34.9 116,36.3 116.8,36.2 117.7,37.1 118.5,36.5 119.3,36.8 120.2,37.8 121.1,37.5 121.9,38.8 122.8,38.9 123.6,39.3 124.4,40.2 125.3,40.1 126.2,40 127,41.4 127.8,41.2 128.7,42 129.6,41.7 130.4,42.6 131.2,43 132.1,43.4 132.9,44 133.8,45 134.7,44.5 135.5,45.9 136.4,45.8 137.2,46.1 138.1,47.1 138.9,47.3 139.8,47.4 140.6,48.3 141.4,49.1 142.3,50.3 143.1,50.1 144,50.4 144.9,50.9 145.7,51.6 146.6,51.6 147.4,52.4 148.2,52.7 149.1,52.9 149.9,53.9 150.8,54.1 151.6,53.7 152.5,54.6 153.3,55.8 154.2,55.8 155.1,55.9 155.9,56.1 156.8,56.8 157.6,57.4 158.4,57.8 159.3,57.6 160.2,58.1 161,58.7 161.8,58.8 162.7,59.2 163.6,59.1 164.4,59.8 165.2,59.7 166.1,59.8 166.9,60.2 167.8,61 168.7,60.4 169.5,61.4 170.3,61.3 171.2,62 172.1,62.7 172.9,62.3 173.8,62.6 174.6,63 175.4,63.3 176.3,64 177.2,64.4 178,64.5 178.9,64.2 179.7,64.9 180.6,65.8 181.4,65.8 182.2,66.6 183.1,67 183.9,66.9 184.8,67.8 185.7,68.6 186.5,68.6 187.3,68.6 188.2,69 189.1,68.9 189.9,69.8 190.8,69.6 191.6,69.9 192.4,70.4 193.3,70.3 194.2,70.7 195,71.5 195.8,71.1 196.7,72.4 197.6,72.3 198.4,72.9 199.2,73.3 200.1,74.7 201,75.7 201.8,77.1 202.6,78.3 203.5,80.6 204.3,82.1 205.2,84.4 206.1,87.3 206.9,88.5 207.8,91.9 208.6,94.4 209.5,94.8 210.3,97 211.1,97.7 212,98.5 212.8,99.6 213.7,99.6 214.6,99.2 215.4,98.4 216.2,98.1 217.1,97 218,95.6 218.8,94.1 219.7,93.4 220.5,92.2 221.3,91.9 222.2,91.7 223,90.8 223.9,90.8 224.8,89.7 225.6,89.1 226.5,88.1 227.3,87.4 228.2,87.4 229,87.1 229.8,87.2 230.7,86.6 231.5,86.5 232.4,86.6 233.2,87.3 234.1,86.6 234.9,87.3 235.8,88.2 236.7,88.9 237.5,89.4 238.4,89.9 239.2,90.6 240,91.5 240.9,92.9 241.8,94.5 242.6,96.8 243.4,99.7 244.3,102.2 245.2,106.2 246,110.7 246.8,114.8 247.7,120.8 248.6,124.8 249.4,130.1 250.2,134.8 251.1,139.2 251.9,143.4 252.8,145.7 253.7,148 254.5,149.9 255.3,151.3 256.2,152.5 257.1,152.2 257.9,152.8 258.8,151.8 259.6,153 260.4,151.5 261.3,150.7 262.1,150.4 263,149.3 263.9,149 264.7,148.8 265.6,148 266.4,146.6 267.2,146.9 268.1,146.3 268.9,145.9 269.8,145.2 270.6,145.2 271.5,144.4 272.4,143.2 273.2,143.5 274.1,143.6 274.9,143.8 275.8,144.2 276.6,145.6 277.4,146.3 278.3,148 279.1,149.8 280,151.4 280.9,155.8 281.7,158.7 282.6,162.1 283.4,166.4 284.2,170 285.1,174.2 286,178.5 286.8,181.8 287.6,187.3 288.5,192.4 289.4,196.8 290.2,202.2 291.1,206.6 291.9,212 292.8,217.3 293.6,224.9 294.5,231.8 295.3,242 296.1,253.9 297,264.9 297.9,277.6 298.7,289.5 299.5,302 300.4,312.4 301.2,322.5 302.1,331.2 303,339.5 303.8,343.9 304.7,348.5 305.5,351.8 306.4,354.7 307.2,356.2 308,357.9 308.9,358 309.8,358.7 310.6,360.4 311.5,360.9 312.3,361.2 313.2,361 314,360.7 314.9,361.4 315.7,360.7 316.5,360 317.4,359.1 318.2,358.3 319.1,356.5 320,356 320.8,353.9 321.6,352.9 322.5,352.2 323.4,350.7 324.2,348.9 325.1,346.4 325.9,345.3 326.8,343.6 327.6,341.2 328.5,339.1 329.3,337.5 330.1,334.8 331,333.4 331.8,331.4 332.7,329.8 333.6,327.5 334.4,325.4 335.2,324.1 336.1,321 337,319.7 337.8,317.1 338.6,315.7 339.5,312.6 340.3,311.5 341.2,309.6 342.1,308 342.9,307.1 343.8,305.8 344.6,303.5 345.5,301.5 346.3,300.4 347.1,298.8 348,297.5 348.9,297.3 349.7,295.7 350.6,294.4 351.4,294.7 352.2,294.7 353.1,293.6 353.9,293.3 354.8,292.6 355.6,292.7 356.5,292 357.4,292.4 358.2,291 359.1,290.3 359.9,290.1 360.8,290.8 361.6,289.9 362.4,290.9 363.3,289.6 364.1,289.7 365,290.3 365.9,290.2 366.7,291 367.6,291.5 368.4,292.7 369.2,293.6 370.1,295.3 370.9,295.9 371.8,296.8 372.6,297.7 373.5,299.1 374.4,299.9 375.2,302.2 376.1,303.4 376.9,304.6 377.8,306.1 378.6,307.5 379.4,309.6 380.3,310.7 381.1,312.9 382,313.6 382.9,314.7 383.7,314.2 384.6,315.2 385.4,314.4 386.2,314.7 387.1,314.3 387.9,313.8 388.8,314.5 389.6,314.5 390.5,314.3 391.4,313.8 392.2,314.5 393.1,314.3 393.9,316.2 394.8,318 395.6,319.8 396.4,322.2 397.3,326.2 398.1,330.5 399,335.2 399.9,340.1 400.7,345.7 401.6,350.2 402.4,356 403.2,361.2 404.1,364.9 404.9,367 405.8,368.3 406.6,369.5 407.5,369.9 408.4,370.3 409.2,370.5 410.1,371.6 410.9,371.3 411.8,371.2 412.6,370.9 413.4,371.6 414.3,371.9 415.2,372.1 416,372 416.9,372.1 417.7,371.7 418.5,371.6 419.4,371.7 420.2,371.6 421.1,372.2 421.9,371.8 422.8,372.1 423.7,371.8 424.5,371.3 425.4,371.6 426.2,372.1 427,371.4 427.9,371.4 428.8,371.5 429.6,371.1 430.4,370.2 431.3,369.8 432.2,370.4 433,369.6 433.9,369.4 434.7,370 435.5,369.5 436.4,369.3 437.2,369 438.1,369.4 438.9,368.8 439.8,368 440.7,367.7 441.5,367.3 442.3,367.8 443.2,366.8 444.1,367 444.9,367.4 445.8,366.4 446.6,366.5 447.4,365.9 448.3,365.8 449.2,365 450,365 450.8,364.9 451.7,364 452.6,363.8 453.4,363.5 454.2,362.3 455.1,362.3 455.9,361.7 456.8,361.1 457.7,360.7 458.5,359.8 459.3,358.3 460.2,358.7 461.1,357.8 461.9,357.7 462.8,357.1 463.6,356 464.4,355.9 465.3,356.2 466.2,355.7 467,355.7 467.8,355.4 468.7,355.2 469.6,355 470.4,354.4 471.2,354.1 472.1,354.1 472.9,354.2 473.8,354.6 474.6,354.2 475.5,354.7 476.3,354.3 477.2,354.8 478.1,355.2 478.9,356.2 479.8,357.3 480.6,356.9 481.5,357.4 482.3,359 483.1,358.9 484,359 484.8,360.3 485.7,359.7 486.6,360.9 487.4,361.7 488.2,361.2 489.1,362.1 490,363 490.8,363 491.6,364.2 492.5,363.4 493.3,364.5 494.2,365 495.1,365.6 495.9,365.8 496.8,365.8 497.6,366.5 498.5,367.2 499.3,368 500.1,368.9 501,368.5 501.8,369.8 502.7,370 503.6,370.9 504.4,370.5 505.2,370.7 506.1,369.5 506.9,371 507.8,372.6 508.6,373.6 509.5,373.8 510.4,373.1 511.2,373.6 512,372.7 512.9,374.1 513.8,372.9 514.6,375 515.5,375.5 516.3,377.4 517.1,375.6 518,375.5 518.9,376.9 519.7,378.1 520.5,378.1 521.4,378.8 522.2,379.4 523.1,381.1 524,380.6 524.8,377.6 525.6,378.4 526.5,376.2 527.4,375.1 528.2,373.2 529,370.5 529.9,373.8 530.8,371.2 531.6,375 532.5,377.4 533.3,380.2 534.1,376.6 535,374" fill="none" stroke="#0ccbcd" stroke-width="2.6" stroke-linejoin="round" /></g><line x1="66.8" y1="13.2" x2="536" y2="13.2" stroke="#000" stroke-width="1.6" /><line x1="66.8" y1="389.9" x2="536" y2="389.9" stroke="#000" stroke-width="2.1" /><line x1="67.5" y1="13.2" x2="67.5" y2="389.9" stroke="#000" stroke-width="1.3" /><line x1="535" y1="13.2" x2="535" y2="389.9" stroke="#000" stroke-width="2" /><line x1="110" y1="389.9" x2="110" y2="396.9" stroke="#000" stroke-width="1.8" /><text x="110" y="416.8" font-size="16.3" text-anchor="middle" font-weight="bold" textLength="25.9" lengthAdjust="spacingAndGlyphs" >500</text><line x1="216.2" y1="389.9" x2="216.2" y2="396.9" stroke="#000" stroke-width="1.8" /><text x="216.2" y="416.8" font-size="16.3" text-anchor="middle" font-weight="bold" textLength="34.6" lengthAdjust="spacingAndGlyphs" >1000</text><line x1="322.5" y1="389.9" x2="322.5" y2="396.9" stroke="#000" stroke-width="1.8" /><text x="322.5" y="416.8" font-size="16.3" text-anchor="middle" font-weight="bold" textLength="34.6" lengthAdjust="spacingAndGlyphs" >1500</text><line x1="428.8" y1="389.9" x2="428.8" y2="396.9" stroke="#000" stroke-width="1.8" /><text x="428.8" y="416.8" font-size="16.3" text-anchor="middle" font-weight="bold" textLength="34.6" lengthAdjust="spacingAndGlyphs" >2000</text><line x1="535" y1="389.9" x2="535" y2="396.9" stroke="#000" stroke-width="1.8" /><text x="535" y="416.8" font-size="16.3" text-anchor="middle" font-weight="bold" textLength="34.6" lengthAdjust="spacingAndGlyphs" >2500</text><line x1="163.1" y1="389.9" x2="163.1" y2="393.4" stroke="#000" stroke-width="1.8" /><line x1="269.4" y1="389.9" x2="269.4" y2="393.4" stroke="#000" stroke-width="1.8" /><line x1="375.6" y1="389.9" x2="375.6" y2="393.4" stroke="#000" stroke-width="1.8" /><line x1="481.9" y1="389.9" x2="481.9" y2="393.4" stroke="#000" stroke-width="1.8" /><line x1="60.5" y1="389.9" x2="67.5" y2="389.9" stroke="#000" stroke-width="1.5" /><text x="54.5" y="395.4" font-size="16.3" text-anchor="end" font-weight="bold" >0</text><line x1="60.5" y1="345.2" x2="67.5" y2="345.2" stroke="#000" stroke-width="1.5" /><text x="54.5" y="350.7" font-size="16.3" text-anchor="end" font-weight="bold" >5</text><line x1="60.5" y1="300.4" x2="67.5" y2="300.4" stroke="#000" stroke-width="1.5" /><text x="54.5" y="306" font-size="16.3" text-anchor="end" font-weight="bold" textLength="17.3" lengthAdjust="spacingAndGlyphs" >10</text><line x1="60.5" y1="255.7" x2="67.5" y2="255.7" stroke="#000" stroke-width="1.5" /><text x="54.5" y="261.2" font-size="16.3" text-anchor="end" font-weight="bold" textLength="17.3" lengthAdjust="spacingAndGlyphs" >15</text><line x1="60.5" y1="210.9" x2="67.5" y2="210.9" stroke="#000" stroke-width="1.5" /><text x="54.5" y="216.5" font-size="16.3" text-anchor="end" font-weight="bold" textLength="17.3" lengthAdjust="spacingAndGlyphs" >20</text><line x1="60.5" y1="166.2" x2="67.5" y2="166.2" stroke="#000" stroke-width="1.5" /><text x="54.5" y="171.7" font-size="16.3" text-anchor="end" font-weight="bold" textLength="17.3" lengthAdjust="spacingAndGlyphs" >25</text><line x1="60.5" y1="121.5" x2="67.5" y2="121.5" stroke="#000" stroke-width="1.5" /><text x="54.5" y="127" font-size="16.3" text-anchor="end" font-weight="bold" textLength="17.3" lengthAdjust="spacingAndGlyphs" >30</text><line x1="60.5" y1="76.7" x2="67.5" y2="76.7" stroke="#000" stroke-width="1.5" /><text x="54.5" y="82.3" font-size="16.3" text-anchor="end" font-weight="bold" textLength="17.3" lengthAdjust="spacingAndGlyphs" >35</text><line x1="60.5" y1="32" x2="67.5" y2="32" stroke="#000" stroke-width="1.5" /><text x="54.5" y="37.5" font-size="16.3" text-anchor="end" font-weight="bold" textLength="17.3" lengthAdjust="spacingAndGlyphs" >40</text><line x1="64" y1="367.5" x2="67.5" y2="367.5" stroke="#000" stroke-width="1.5" /><line x1="64" y1="322.8" x2="67.5" y2="322.8" stroke="#000" stroke-width="1.5" /><line x1="64" y1="278.1" x2="67.5" y2="278.1" stroke="#000" stroke-width="1.5" /><line x1="64" y1="233.3" x2="67.5" y2="233.3" stroke="#000" stroke-width="1.5" /><line x1="64" y1="188.6" x2="67.5" y2="188.6" stroke="#000" stroke-width="1.5" /><line x1="64" y1="143.8" x2="67.5" y2="143.8" stroke="#000" stroke-width="1.5" /><line x1="64" y1="99.1" x2="67.5" y2="99.1" stroke="#000" stroke-width="1.5" /><line x1="64" y1="54.4" x2="67.5" y2="54.4" stroke="#000" stroke-width="1.5" /><text x="26.2" y="194" font-size="20.5" text-anchor="middle" font-weight="bold" transform="rotate(-90 26.2 194)" textLength="131" lengthAdjust="spacingAndGlyphs" >Reflection (%)</text><text x="301" y="444" font-size="20.5" text-anchor="middle" font-weight="bold" textLength="157" lengthAdjust="spacingAndGlyphs" >Wavelength (nm)</text><line x1="362" y1="126.5" x2="407" y2="126.5" stroke="#4a4a4a" stroke-width="2.2" /><text x="411" y="133" font-size="19.5" text-anchor="start" font-weight="bold" textLength="120" lengthAdjust="spacingAndGlyphs" >CNT@DAC#1</text><line x1="362" y1="151" x2="407" y2="151" stroke="#f04141" stroke-width="2.2" /><text x="411" y="157.5" font-size="19.5" text-anchor="start" font-weight="bold" textLength="120" lengthAdjust="spacingAndGlyphs" >CNT@DAC#2</text><line x1="362" y1="175.5" x2="407" y2="175.5" stroke="#1b6fde" stroke-width="2.2" /><text x="411" y="182" font-size="19.5" text-anchor="start" font-weight="bold" textLength="120" lengthAdjust="spacingAndGlyphs" >CNT@DAC#3</text><line x1="362" y1="200" x2="407" y2="200" stroke="#38ad6b" stroke-width="2.2" /><text x="411" y="206.5" font-size="19.5" text-anchor="start" font-weight="bold" textLength="120" lengthAdjust="spacingAndGlyphs" >CNT@DAC#4</text><line x1="362" y1="224.5" x2="407" y2="224.5" stroke="#b177de" stroke-width="2.2" /><text x="411" y="231" font-size="19.5" text-anchor="start" font-weight="bold" textLength="120" lengthAdjust="spacingAndGlyphs" >CNT@DAC#5</text><line x1="362" y1="249" x2="407" y2="249" stroke="#0ccbcd" stroke-width="2.2" /><text x="411" y="255.5" font-size="19.5" text-anchor="start" font-weight="bold" textLength="41.4" lengthAdjust="spacingAndGlyphs" >DAC</text><text x="-1" y="29.6" font-size="46" text-anchor="start" font-weight="bold" textLength="44.5" lengthAdjust="spacingAndGlyphs" >(a)</text></g>
<g><clipPath id="cb"><rect x="619" y="19.4" width="462" height="373.5"/></clipPath><g clip-path="url(#cb)"><polyline points="619,381.3 619.8,381.4 620.7,381.5 621.5,381.4 622.3,381.4 623.2,381.3 624,381.7 624.9,381.4 625.7,381.5 626.5,381.5 627.4,381.6 628.2,381.3 629,381.4 629.9,381.4 630.7,381.4 631.5,381.3 632.4,381.3 633.2,381.4 634.1,381.3 634.9,381.3 635.7,381.5 636.6,381.5 637.4,381 638.2,381.5 639.1,381.4 639.9,381.3 640.7,381.5 641.6,381.5 642.4,381.4 643.3,381.3 644.1,381.5 644.9,381.4 645.8,381.3 646.6,381.4 647.4,381.5 648.3,381.5 649.1,381.4 649.9,381.7 650.8,381.4 651.6,381.4 652.5,381.4 653.3,381.5 654.1,381.1 655,381.3 655.8,381.3 656.6,381.4 657.5,381.3 658.3,381.4 659.1,381.4 660,381.3 660.8,381.3 661.7,381.5 662.5,381.3 663.3,381.3 664.2,381.3 665,381.3 665.8,381.3 666.7,381.4 667.5,381.4 668.3,381.4 669.2,381.5 670,381.5 670.9,381.5 671.7,381.4 672.5,381.4 673.4,381.4 674.2,381.4 675,381.5 675.9,381.4 676.7,381.1 677.5,381.4 678.4,381.4 679.2,381.3 680.1,381.3 680.9,381.3 681.7,381.4 682.6,381.4 683.4,381.3 684.2,381.3 685.1,381.4 685.9,381.3 686.7,381.4 687.6,381.6 688.4,381.4 689.3,381.5 690.1,381.3 690.9,381.3 691.8,381.4 692.6,381.2 693.4,381.6 694.3,381.6 695.1,381.3 695.9,381.3 696.8,381.3 697.6,381.7 698.5,381.2 699.3,381.4 700.1,381.5 701,381.4 701.8,381.5 702.6,381.3 703.5,381.3 704.3,381.5 705.1,381.5 706,381.3 706.8,381.5 707.7,381.5 708.5,381.4 709.3,381.2 710.2,381.5 711,381.6 711.8,381.4 712.7,381.5 713.5,381.4 714.3,381.5 715.2,381.4 716,381.6 716.9,381.3 717.7,381.6 718.5,381.3 719.4,381.4 720.2,381.2 721,381.5 721.9,381.4 722.7,381.3 723.5,381.6 724.4,381.4 725.2,381.5 726.1,381.4 726.9,381.5 727.7,381.5 728.6,381.5 729.4,381.4 730.2,381.6 731.1,381.5 731.9,381.6 732.7,381.3 733.6,381.4 734.4,381.7 735.3,381.6 736.1,381.6 736.9,381.9 737.8,382 738.6,382.1 739.4,382.2 740.3,382.5 741.1,382.4 741.9,382.6 742.8,382.5 743.6,382.4 744.5,382.4 745.3,382.5 746.1,382.5 747,382.5 747.8,382.5 748.6,382.1 749.5,382.3 750.3,382.5 751.1,382.6 752,382.3 752.8,382.5 753.7,382.4 754.5,382.5 755.3,382.6 756.2,382.3 757,382.4 757.8,382.6 758.7,382.5 759.5,382.5 760.3,382.5 761.2,382.5 762,382.5 762.9,382.6 763.7,382.6 764.5,382.3 765.4,382.6 766.2,382.3 767,382.4 767.9,382.6 768.7,382.4 769.5,382.3 770.4,382.7 771.2,382.2 772.1,382.3 772.9,382.4 773.7,382.3 774.6,382.4 775.4,382.5 776.2,382.5 777.1,382.6 777.9,382.4 778.7,382.5 779.6,382.4 780.4,382.5 781.3,382.5 782.1,382.5 782.9,382.4 783.8,382.5 784.6,382.3 785.4,382.5 786.3,382.6 787.1,382.3 787.9,382.4 788.8,382.4 789.6,382.3 790.5,382.5 791.3,382.3 792.1,382.4 793,382.3 793.8,382.7 794.6,382.5 795.5,382.6 796.3,382.6 797.1,382.6 798,382.5 798.8,382.4 799.7,382.4 800.5,382.5 801.3,382.5 802.2,382.6 803,382.3 803.8,382.6 804.7,382.4 805.5,382.5 806.3,382.4 807.2,382.4 808,382.4 808.9,382.6 809.7,382.5 810.5,382.6 811.4,382.4 812.2,382.5 813,382.4 813.9,382.5 814.7,382.4 815.5,382.5 816.4,382.5 817.2,382.3 818.1,382.5 818.9,382.5 819.7,382.4 820.6,382.5 821.4,382.5 822.2,382.5 823.1,382.5 823.9,382.3 824.7,382.5 825.6,382.4 826.4,382.4 827.3,382.5 828.1,382.5 828.9,382.4 829.8,382.5 830.6,382.5 831.4,382.3 832.3,382.4 833.1,382.4 833.9,382.5 834.8,382.6 835.6,382.6 836.5,382.3 837.3,382.3 838.1,382.5 839,382.5 839.8,382.3 840.6,382.5 841.5,382.3 842.3,382.5 843.1,382.6 844,382.4 844.8,382.4 845.7,382.4 846.5,382.5 847.3,382.4 848.2,382.3 849,382.4 849.8,382.4 850.7,382.5 851.5,382.5 852.3,382.6 853.2,382.4 854,382.3 854.9,382.5 855.7,382.6 856.5,382.6 857.4,382.5 858.2,382.4 859,382.5 859.9,382.6 860.7,382.5 861.5,382.4 862.4,382.4 863.2,382.5 864.1,382.5 864.9,382.4 865.7,382.5 866.6,382.5 867.4,382.4 868.2,382.6 869.1,382.7 869.9,382.6 870.7,382.4 871.6,382.4 872.4,382.2 873.3,382.6 874.1,382.4 874.9,382.6 875.8,382.4 876.6,382.4 877.4,382.6 878.3,382.5 879.1,382.5 879.9,382.6 880.8,382.6 881.6,382.5 882.5,382.4 883.3,382.3 884.1,382.6 885,382.4 885.8,382.5 886.6,382.4 887.5,382.4 888.3,382.5 889.1,382.6 890,382.5 890.8,382.5 891.7,382.3 892.5,382.5 893.3,382.3 894.2,382.5 895,382.7 895.8,382.5 896.7,382.5 897.5,382.8 898.3,382.6 899.2,382.5 900,382.5 900.9,382.6 901.7,382.3 902.5,382.5 903.4,382.4 904.2,382.4 905,382.3 905.9,382.2 906.7,382.2 907.5,382.5 908.4,382.5 909.2,382.3 910.1,382.7 910.9,382.6 911.7,382.3 912.6,382.5 913.4,382.7 914.2,382.5 915.1,382.4 915.9,382.6 916.7,382.4 917.6,382.5 918.4,382.6 919.3,382.5 920.1,382.4 920.9,382.3 921.8,382.3 922.6,382.5 923.4,382.6 924.3,382.6 925.1,382.6 925.9,382.6 926.8,382.6 927.6,382.5 928.5,382.4 929.3,382.4 930.1,382.3 931,382.7 931.8,382.4 932.6,382.4 933.5,382.6 934.3,382.4 935.1,382.5 936,382.3 936.8,382.4 937.7,382.8 938.5,382.3 939.3,382.4 940.2,382.4 941,382.5 941.8,382.4 942.7,382.4 943.5,382.3 944.3,382.5 945.2,382.6 946,382.4 946.9,382.6 947.7,382.3 948.5,382.5 949.4,382.5 950.2,382.5 951,382.3 951.9,382.6 952.7,382.4 953.5,382.4 954.4,382.6 955.2,382.4 956.1,382.3 956.9,382.5 957.7,382.5 958.6,382.5 959.4,382.5 960.2,382.4 961.1,382.4 961.9,382.4 962.7,382.5 963.6,382.4 964.4,382.4 965.3,382.5 966.1,382.6 966.9,382.4 967.8,382.4 968.6,382.3 969.4,382.5 970.3,382.3 971.1,382.5 971.9,382.3 972.8,382.6 973.6,382.4 974.5,382.5 975.3,382.5 976.1,382.7 977,382.5 977.8,382.7 978.6,382.4 979.5,382.3 980.3,382.1 981.1,382.6 982,382.6 982.8,382.6 983.7,382.6 984.5,382.6 985.3,382.4 986.2,382.3 987,382.3 987.8,382.6 988.7,382.3 989.5,382.2 990.3,382.3 991.2,382.5 992,382.8 992.9,382.7 993.7,382.6 994.5,382.5 995.4,382.2 996.2,382.2 997,382.1 997.9,382.6 998.7,382.3 999.5,382.1 1000.4,382.5 1001.2,382.7 1002.1,382.6 1002.9,382.4 1003.7,382.8 1004.6,383.1 1005.4,383.1 1006.2,382.8 1007.1,383 1007.9,382.7 1008.7,382.6 1009.6,382.6 1010.4,382.3 1011.3,382.8 1012.1,382.5 1012.9,382.4 1013.8,381.6 1014.6,381.7 1015.4,382.1 1016.3,382.4 1017.1,382.7 1017.9,382.8 1018.8,383.4 1019.6,382.1 1020.5,381.7 1021.3,381.7 1022.1,382.5 1023,383.1 1023.8,383 1024.6,382.9 1025.5,383 1026.3,383.4 1027.1,382.6 1028,382.2 1028.8,381.3 1029.7,382.2 1030.5,381.7 1031.3,381.9 1032.2,382.1 1033,383.5 1033.8,382.8 1034.7,382.2 1035.5,381.5 1036.3,381.5 1037.2,381.7 1038,382.5 1038.9,383.7 1039.7,384.5 1040.5,383 1041.4,382.4 1042.2,381.2 1043,382 1043.9,381.7 1044.7,382.1 1045.5,382.7 1046.4,382.8 1047.2,382.7 1048.1,383.2 1048.9,382.7 1049.7,382.2 1050.6,382.2 1051.4,382.9 1052.2,382.4 1053.1,381.5 1053.9,381.6 1054.7,381.6 1055.6,381.9 1056.4,382.7 1057.3,383.1 1058.1,382.5 1058.9,382.9 1059.8,382.3 1060.6,383.5 1061.4,382.4 1062.3,383.4 1063.1,382.6 1063.9,382.9 1064.8,383 1065.6,382.1 1066.5,382.2 1067.3,380.8 1068.1,381 1069,381.5 1069.8,382.1 1070.6,384 1071.5,384.2 1072.3,386.2 1073.1,386 1074,384.8 1074.8,384.5 1075.7,383.3 1076.5,383.4 1077.3,380.1 1078.2,381.2 1079,381.6" fill="none" stroke="#4a4a4a" stroke-width="1.2" stroke-linejoin="round" /><polyline points="619,381.4 619.8,381.4 620.7,381.4 621.5,381.3 622.3,381.4 623.2,381.2 624,381.2 624.9,381.4 625.7,381.3 626.5,381.4 627.4,381.3 628.2,381.2 629,381.4 629.9,381.5 630.7,381.5 631.5,381.2 632.4,381.3 633.2,381.3 634.1,381.2 634.9,381.5 635.7,381.3 636.6,381.3 637.4,381.3 638.2,381.2 639.1,381.4 639.9,381.4 640.7,381.3 641.6,381.4 642.4,381.2 643.3,381.2 644.1,381.2 644.9,381.4 645.8,381.3 646.6,381.2 647.4,381.1 648.3,381.5 649.1,381.3 649.9,381.1 650.8,381.2 651.6,381.2 652.5,381.3 653.3,381.2 654.1,381.3 655,381.4 655.8,381.2 656.6,381.5 657.5,381.4 658.3,381.4 659.1,381.3 660,381.3 660.8,381.4 661.7,381.3 662.5,381.3 663.3,381.2 664.2,381.3 665,381.2 665.8,381.4 666.7,381.4 667.5,381.2 668.3,381.4 669.2,381.3 670,381.3 670.9,381.4 671.7,381.2 672.5,381.3 673.4,381.2 674.2,381.3 675,381.4 675.9,381.2 676.7,381.2 677.5,381.4 678.4,381.3 679.2,381.3 680.1,381.3 680.9,381.3 681.7,381.1 682.6,381.2 683.4,381.2 684.2,381.1 685.1,381.3 685.9,381.3 686.7,381.4 687.6,381.3 688.4,381.3 689.3,381.2 690.1,381.2 690.9,381.3 691.8,381.3 692.6,381.4 693.4,381.4 694.3,381.2 695.1,381.3 695.9,381.4 696.8,381.3 697.6,381.2 698.5,381.2 699.3,381.2 700.1,381.4 701,381.3 701.8,381.5 702.6,381.2 703.5,381.3 704.3,381.4 705.1,381.6 706,381.3 706.8,381.4 707.7,381.4 708.5,381.3 709.3,381.5 710.2,381.3 711,381.4 711.8,381.3 712.7,381.2 713.5,381.3 714.3,381.6 715.2,381.4 716,381.5 716.9,381.4 717.7,381.4 718.5,381.2 719.4,381.3 720.2,381.5 721,381.4 721.9,381.4 722.7,381.4 723.5,381.4 724.4,381.3 725.2,381.4 726.1,381.3 726.9,381.6 727.7,381.4 728.6,381.4 729.4,381.4 730.2,381.5 731.1,381.4 731.9,381.3 732.7,381.6 733.6,381.3 734.4,381.2 735.3,381.7 736.1,381.6 736.9,381.7 737.8,381.7 738.6,382 739.4,382.4 740.3,382.3 741.1,382.7 741.9,382.3 742.8,382.5 743.6,382.3 744.5,382.3 745.3,382.4 746.1,382.5 747,382.7 747.8,382.5 748.6,382.3 749.5,382.4 750.3,382.4 751.1,382.5 752,382.5 752.8,382.5 753.7,382.5 754.5,382.4 755.3,382.5 756.2,382.5 757,382.6 757.8,382.4 758.7,382.5 759.5,382.5 760.3,382.5 761.2,382.6 762,382.6 762.9,382.5 763.7,382.3 764.5,382.6 765.4,382.5 766.2,382.5 767,382.5 767.9,382.4 768.7,382.4 769.5,382.6 770.4,382.4 771.2,382.4 772.1,382.3 772.9,382.4 773.7,382.3 774.6,382.3 775.4,382.4 776.2,382.5 777.1,382.6 777.9,382.5 778.7,382.7 779.6,382.4 780.4,382.5 781.3,382.3 782.1,382.6 782.9,382.4 783.8,382.5 784.6,382.4 785.4,382.4 786.3,382.2 787.1,382.6 787.9,382.6 788.8,382.5 789.6,382.3 790.5,382.2 791.3,382.7 792.1,382.5 793,382.4 793.8,382.4 794.6,382.6 795.5,382.5 796.3,382.3 797.1,382.6 798,382.5 798.8,382.5 799.7,382.3 800.5,382.3 801.3,382.5 802.2,382.3 803,382.5 803.8,382.3 804.7,382.5 805.5,382.5 806.3,382.4 807.2,382.5 808,382.3 808.9,382.4 809.7,382.7 810.5,382.4 811.4,382.6 812.2,382.4 813,382.5 813.9,382.5 814.7,382.6 815.5,382.6 816.4,382.5 817.2,382.3 818.1,382.6 818.9,382.4 819.7,382.5 820.6,382.6 821.4,382.6 822.2,382.3 823.1,382.2 823.9,382.3 824.7,382.4 825.6,382.4 826.4,382.3 827.3,382.6 828.1,382.4 828.9,382.4 829.8,382.4 830.6,382.4 831.4,382.4 832.3,382.6 833.1,382.5 833.9,382.5 834.8,382.4 835.6,382.4 836.5,382.5 837.3,382.4 838.1,382.4 839,382.3 839.8,382.5 840.6,382.3 841.5,382.3 842.3,382.4 843.1,382.4 844,382.4 844.8,382.4 845.7,382.5 846.5,382.5 847.3,382.6 848.2,382.4 849,382.4 849.8,382.2 850.7,382.4 851.5,382.5 852.3,382.5 853.2,382.5 854,382.5 854.9,382.6 855.7,382.4 856.5,382.5 857.4,382.4 858.2,382.5 859,382.4 859.9,382.5 860.7,382.6 861.5,382.4 862.4,382.4 863.2,382.2 864.1,382.4 864.9,382.2 865.7,382.5 866.6,382.3 867.4,382.5 868.2,382.4 869.1,382.6 869.9,382.3 870.7,382.5 871.6,382.5 872.4,382.5 873.3,382.5 874.1,382.6 874.9,382.5 875.8,382.6 876.6,382.4 877.4,382.4 878.3,382.4 879.1,382.5 879.9,382.5 880.8,382.4 881.6,382.3 882.5,382.5 883.3,382.5 884.1,382.3 885,382.3 885.8,382.3 886.6,382.4 887.5,382.2 888.3,382.6 889.1,382.4 890,382.3 890.8,382.4 891.7,382.5 892.5,382.3 893.3,382.7 894.2,382.7 895,382.4 895.8,382.6 896.7,382.2 897.5,382.5 898.3,382.5 899.2,382.4 900,382.3 900.9,382.3 901.7,382.5 902.5,382.3 903.4,382.3 904.2,382.5 905,382.6 905.9,382.5 906.7,382.4 907.5,382.3 908.4,382.5 909.2,382.4 910.1,382.6 910.9,382.6 911.7,382.4 912.6,382.4 913.4,382.4 914.2,382.2 915.1,382.5 915.9,382.6 916.7,382.2 917.6,382.5 918.4,382.5 919.3,382.6 920.1,382.4 920.9,382.6 921.8,382.5 922.6,382.6 923.4,382.6 924.3,382.3 925.1,382.7 925.9,382.4 926.8,382.5 927.6,382.5 928.5,382.5 929.3,382.5 930.1,382.5 931,382.4 931.8,382.5 932.6,382.3 933.5,382.5 934.3,382.5 935.1,382.4 936,382.3 936.8,382.5 937.7,382.5 938.5,382.4 939.3,382.4 940.2,382.2 941,382.4 941.8,382.6 942.7,382.3 943.5,382.6 944.3,382.7 945.2,382.5 946,382.3 946.9,382.6 947.7,382.6 948.5,382.5 949.4,382.5 950.2,382.6 951,382.4 951.9,382.6 952.7,382.3 953.5,382.2 954.4,382.5 955.2,382.5 956.1,382.3 956.9,382.6 957.7,382.6 958.6,382.3 959.4,382.7 960.2,382.4 961.1,382.5 961.9,382.4 962.7,382.5 963.6,382.4 964.4,382.5 965.3,382.2 966.1,382.3 966.9,382.5 967.8,382.3 968.6,382.2 969.4,382.4 970.3,382.4 971.1,382.4 971.9,382.3 972.8,382.2 973.6,382.5 974.5,382.6 975.3,382.5 976.1,382.7 977,382.7 977.8,382.8 978.6,382.5 979.5,382.4 980.3,382.6 981.1,382.5 982,382.5 982.8,382.3 983.7,382.7 984.5,382.3 985.3,382.5 986.2,382.2 987,382.3 987.8,382.2 988.7,382.6 989.5,382.6 990.3,382.2 991.2,382.4 992,382 992.9,382.4 993.7,382.5 994.5,382.3 995.4,382.4 996.2,382.3 997,382.6 997.9,382.3 998.7,382.5 999.5,382.5 1000.4,382.9 1001.2,382.5 1002.1,382.5 1002.9,382.5 1003.7,382.8 1004.6,382.9 1005.4,382.5 1006.2,382 1007.1,381.3 1007.9,381.2 1008.7,381.2 1009.6,381.4 1010.4,382.1 1011.3,383 1012.1,382.6 1012.9,382.3 1013.8,382.4 1014.6,382.3 1015.4,382.7 1016.3,382 1017.1,382.2 1017.9,382.3 1018.8,382.7 1019.6,382.6 1020.5,382.2 1021.3,382.4 1022.1,382.3 1023,382.6 1023.8,382.8 1024.6,383.1 1025.5,382.7 1026.3,382.9 1027.1,382.1 1028,382.7 1028.8,382.3 1029.7,382.5 1030.5,382.1 1031.3,382.9 1032.2,383.7 1033,383.6 1033.8,383.4 1034.7,382.8 1035.5,382.6 1036.3,382.4 1037.2,382.6 1038,383.4 1038.9,383.2 1039.7,381.8 1040.5,381.7 1041.4,382.3 1042.2,384 1043,382.8 1043.9,382.2 1044.7,382 1045.5,382.6 1046.4,382.4 1047.2,382.9 1048.1,383.5 1048.9,383.6 1049.7,382.2 1050.6,382.4 1051.4,382.7 1052.2,383.7 1053.1,383.2 1053.9,382.8 1054.7,382.9 1055.6,382.2 1056.4,382.8 1057.3,383.3 1058.1,384.1 1058.9,383.2 1059.8,380.2 1060.6,380.2 1061.4,379.3 1062.3,382.4 1063.1,381.9 1063.9,381.8 1064.8,380.8 1065.6,380.8 1066.5,382 1067.3,382.3 1068.1,383.2 1069,382.4 1069.8,383.5 1070.6,382.1 1071.5,383 1072.3,382 1073.1,382 1074,381.8 1074.8,379.2 1075.7,380.9 1076.5,381.4 1077.3,383.9 1078.2,381.8 1079,381.6" fill="none" stroke="#f04141" stroke-width="1.2" stroke-linejoin="round" /><polyline points="619,381.2 619.8,381.3 620.7,381.5 621.5,381.2 622.3,381.1 623.2,381.4 624,381.3 624.9,381.2 625.7,381.2 626.5,381.3 627.4,381.2 628.2,381.2 629,381.4 629.9,381.3 630.7,381 631.5,381.4 632.4,381.1 633.2,381.2 634.1,381.1 634.9,381.1 635.7,381.4 636.6,381.3 637.4,381.3 638.2,381.1 639.1,381.4 639.9,381.1 640.7,381 641.6,381.3 642.4,381.3 643.3,381.2 644.1,381.1 644.9,381.2 645.8,381.3 646.6,381.3 647.4,381.1 648.3,381.4 649.1,381.3 649.9,381.1 650.8,381.1 651.6,381.2 652.5,381.3 653.3,381.4 654.1,381.3 655,381.1 655.8,381.3 656.6,381.3 657.5,381.4 658.3,381.1 659.1,381.3 660,381.4 660.8,381.3 661.7,381.2 662.5,381.2 663.3,381.2 664.2,381.3 665,381.2 665.8,381.1 666.7,381.1 667.5,381.1 668.3,381.1 669.2,381.3 670,381.4 670.9,381.2 671.7,381.4 672.5,381.2 673.4,381.3 674.2,381.2 675,381.2 675.9,381.4 676.7,381.4 677.5,381.3 678.4,381.2 679.2,381.2 680.1,381.4 680.9,381.3 681.7,381.2 682.6,381.3 683.4,381.3 684.2,381.1 685.1,381.2 685.9,381.2 686.7,381.1 687.6,381.3 688.4,381.2 689.3,381.4 690.1,381.3 690.9,381.1 691.8,381.2 692.6,381.1 693.4,381.2 694.3,381.4 695.1,380.9 695.9,381.2 696.8,381 697.6,381.3 698.5,381.3 699.3,381.1 700.1,381.2 701,381.3 701.8,381.2 702.6,381.2 703.5,381.4 704.3,381.4 705.1,381.1 706,381.4 706.8,381.2 707.7,381.2 708.5,381.2 709.3,381.4 710.2,381.4 711,381.2 711.8,381.2 712.7,381.2 713.5,381.4 714.3,381.3 715.2,381.3 716,381.3 716.9,381.2 717.7,381.4 718.5,381.1 719.4,381.5 720.2,381.1 721,381.4 721.9,381.4 722.7,381.3 723.5,381.3 724.4,381.3 725.2,381.4 726.1,381.3 726.9,381.1 727.7,381.3 728.6,381.2 729.4,381.5 730.2,381.5 731.1,381.3 731.9,381.6 732.7,381.5 733.6,381.4 734.4,381.3 735.3,381.5 736.1,381.5 736.9,381.7 737.8,381.7 738.6,382 739.4,382.3 740.3,382.5 741.1,382.3 741.9,382.5 742.8,382.4 743.6,382.3 744.5,382.4 745.3,382.4 746.1,382.4 747,382.4 747.8,382.5 748.6,382.4 749.5,382.3 750.3,382.5 751.1,382.5 752,382.4 752.8,382.3 753.7,382.5 754.5,382.4 755.3,382.4 756.2,382.7 757,382.6 757.8,382.5 758.7,382.3 759.5,382.8 760.3,382.4 761.2,382.7 762,382.5 762.9,382.4 763.7,382.3 764.5,382.5 765.4,382.5 766.2,382.4 767,382.3 767.9,382.4 768.7,382.5 769.5,382.4 770.4,382.4 771.2,382.4 772.1,382.4 772.9,382.4 773.7,382.6 774.6,382.7 775.4,382.4 776.2,382.5 777.1,382.4 777.9,382.4 778.7,382.5 779.6,382.6 780.4,382.4 781.3,382.4 782.1,382.5 782.9,382.5 783.8,382.5 784.6,382.6 785.4,382.4 786.3,382.6 787.1,382.4 787.9,382.4 788.8,382.5 789.6,382.3 790.5,382.4 791.3,382.3 792.1,382.5 793,382.6 793.8,382.4 794.6,382.4 795.5,382.5 796.3,382.5 797.1,382.4 798,382.3 798.8,382.5 799.7,382.5 800.5,382.8 801.3,382.4 802.2,382.4 803,382.4 803.8,382.6 804.7,382.4 805.5,382.4 806.3,382.5 807.2,382.4 808,382.4 808.9,382.4 809.7,382.6 810.5,382.4 811.4,382.4 812.2,382.4 813,382.5 813.9,382.6 814.7,382.5 815.5,382.4 816.4,382.6 817.2,382.4 818.1,382.4 818.9,382.5 819.7,382.6 820.6,382.5 821.4,382.5 822.2,382.4 823.1,382.6 823.9,382.5 824.7,382.6 825.6,382.3 826.4,382.5 827.3,382.6 828.1,382.3 828.9,382.5 829.8,382.6 830.6,382.4 831.4,382.6 832.3,382.8 833.1,382.5 833.9,382.3 834.8,382.5 835.6,382.8 836.5,382.3 837.3,382.5 838.1,382.2 839,382.5 839.8,382.4 840.6,382.3 841.5,382.5 842.3,382.6 843.1,382.4 844,382.3 844.8,382.6 845.7,382.6 846.5,382.5 847.3,382.5 848.2,382.4 849,382.4 849.8,382.5 850.7,382.4 851.5,382.5 852.3,382.5 853.2,382.5 854,382.4 854.9,382.5 855.7,382.6 856.5,382.4 857.4,382.6 858.2,382.4 859,382.4 859.9,382.5 860.7,382.4 861.5,382.6 862.4,382.5 863.2,382.4 864.1,382.3 864.9,382.3 865.7,382.5 866.6,382.5 867.4,382.4 868.2,382.5 869.1,382.4 869.9,382.4 870.7,382.6 871.6,382.2 872.4,382.5 873.3,382.4 874.1,382.3 874.9,382.3 875.8,382.5 876.6,382.5 877.4,382.4 878.3,382.4 879.1,382.4 879.9,382.5 880.8,382.7 881.6,382.6 882.5,382.4 883.3,382.5 884.1,382.5 885,382.5 885.8,382.6 886.6,382.6 887.5,382.6 888.3,382.5 889.1,382.4 890,382.5 890.8,382.5 891.7,382.4 892.5,382.5 893.3,382.4 894.2,382.4 895,382.5 895.8,382.5 896.7,382.4 897.5,382.5 898.3,382.4 899.2,382.5 900,382.4 900.9,382.2 901.7,382.6 902.5,382.4 903.4,382.5 904.2,382.4 905,382.4 905.9,382.4 906.7,382.5 907.5,382.6 908.4,382.5 909.2,382.3 910.1,382.6 910.9,382.5 911.7,382.5 912.6,382.5 913.4,382.5 914.2,382.6 915.1,382.5 915.9,382.6 916.7,382.4 917.6,382.2 918.4,382.5 919.3,382.5 920.1,382.3 920.9,382.5 921.8,382.5 922.6,382.3 923.4,382.5 924.3,382.6 925.1,382.4 925.9,382.6 926.8,382.6 927.6,382.5 928.5,382.2 929.3,382.4 930.1,382.6 931,382.5 931.8,382.4 932.6,382.4 933.5,382.6 934.3,382.4 935.1,382.5 936,382.5 936.8,382.4 937.7,382.2 938.5,382.4 939.3,382.6 940.2,382.6 941,382.3 941.8,382.4 942.7,382.6 943.5,382.2 944.3,382.6 945.2,382.6 946,382.4 946.9,382.4 947.7,382.4 948.5,382.5 949.4,382.3 950.2,382.5 951,382.5 951.9,382.3 952.7,382.5 953.5,382.4 954.4,382.5 955.2,382.5 956.1,382.4 956.9,382.5 957.7,382.5 958.6,382.7 959.4,382.5 960.2,382.5 961.1,382.3 961.9,382.4 962.7,382.5 963.6,382.2 964.4,382.5 965.3,382.7 966.1,382.5 966.9,382.5 967.8,382.4 968.6,382.5 969.4,382.5 970.3,382.4 971.1,382.5 971.9,382.6 972.8,382.4 973.6,382.4 974.5,382.4 975.3,382.2 976.1,382.4 977,382.4 977.8,382.5 978.6,382.3 979.5,382.5 980.3,382.6 981.1,382.3 982,382.3 982.8,382.3 983.7,382.5 984.5,382.5 985.3,382.6 986.2,382.4 987,382.3 987.8,382.1 988.7,382.1 989.5,382.2 990.3,382.2 991.2,382.8 992,382.6 992.9,383 993.7,383 994.5,382.7 995.4,382.7 996.2,382.5 997,383.1 997.9,383.1 998.7,382.9 999.5,382.6 1000.4,382.4 1001.2,382.4 1002.1,382.3 1002.9,382.6 1003.7,382.5 1004.6,382.5 1005.4,382 1006.2,381.6 1007.1,382.1 1007.9,382.6 1008.7,383.2 1009.6,382.4 1010.4,382.1 1011.3,381.8 1012.1,382 1012.9,382.2 1013.8,382.7 1014.6,382.5 1015.4,382.7 1016.3,382.2 1017.1,382.1 1017.9,382.1 1018.8,382.9 1019.6,383.9 1020.5,383.6 1021.3,383.3 1022.1,381.4 1023,380.9 1023.8,381.2 1024.6,381.8 1025.5,383.1 1026.3,382.5 1027.1,382.9 1028,382.5 1028.8,382.5 1029.7,382.1 1030.5,381.6 1031.3,381.7 1032.2,381.7 1033,382.2 1033.8,382.7 1034.7,382.7 1035.5,382.3 1036.3,381.8 1037.2,381.8 1038,382.8 1038.9,384 1039.7,383.9 1040.5,382.6 1041.4,381.6 1042.2,383.2 1043,383.1 1043.9,381.9 1044.7,380.4 1045.5,381 1046.4,381.9 1047.2,382.2 1048.1,382.7 1048.9,383 1049.7,382.9 1050.6,381.8 1051.4,382.8 1052.2,382.6 1053.1,383.4 1053.9,382.7 1054.7,382.6 1055.6,382.2 1056.4,382.8 1057.3,383.1 1058.1,382.3 1058.9,381.3 1059.8,380.6 1060.6,381.9 1061.4,382.3 1062.3,384.2 1063.1,382.1 1063.9,381.1 1064.8,378.9 1065.6,379.8 1066.5,380.3 1067.3,381.8 1068.1,382.7 1069,382.3 1069.8,381.5 1070.6,381.2 1071.5,383.1 1072.3,384.6 1073.1,384.5 1074,383.7 1074.8,384.9 1075.7,385.9 1076.5,385.4 1077.3,381.9 1078.2,382.1 1079,382.1" fill="none" stroke="#1b6fde" stroke-width="2.4" stroke-linejoin="round" /><polyline points="619,381.1 619.8,380.9 620.7,380.9 621.5,381.1 622.3,381.3 623.2,381.2 624,381.1 624.9,381.3 625.7,381.2 626.5,381 627.4,381 628.2,381.3 629,381.1 629.9,381.2 630.7,381.1 631.5,381.3 632.4,381.1 633.2,381.2 634.1,381.2 634.9,381.2 635.7,381.2 636.6,381.2 637.4,381.2 638.2,381.3 639.1,381.1 639.9,381 640.7,381.1 641.6,381.2 642.4,381 643.3,381 644.1,381.2 644.9,381.2 645.8,381.5 646.6,381 647.4,381.2 648.3,381.2 649.1,381.1 649.9,381.1 650.8,381.1 651.6,381.2 652.5,381.2 653.3,381.1 654.1,381.1 655,381.3 655.8,381 656.6,381.3 657.5,381.1 658.3,381.2 659.1,381.1 660,381.1 660.8,381.1 661.7,381 662.5,381.2 663.3,381.1 664.2,381.2 665,381.3 665.8,381.2 666.7,381.1 667.5,381.1 668.3,381.3 669.2,381 670,381.2 670.9,381.2 671.7,381.1 672.5,381.2 673.4,381 674.2,381.1 675,381.1 675.9,381.2 676.7,381.1 677.5,381.1 678.4,381.4 679.2,381.2 680.1,381.3 680.9,381.3 681.7,381.1 682.6,381.1 683.4,381.1 684.2,381.2 685.1,381.2 685.9,381 686.7,381.2 687.6,381.1 688.4,381.2 689.3,380.9 690.1,381.1 690.9,381.2 691.8,381 692.6,381.2 693.4,381.2 694.3,381.3 695.1,381.2 695.9,381.3 696.8,380.9 697.6,381.2 698.5,381.2 699.3,381.2 700.1,381.3 701,381.2 701.8,381.2 702.6,381.2 703.5,381.1 704.3,381.3 705.1,381.3 706,381.3 706.8,381.1 707.7,381.2 708.5,381.4 709.3,381 710.2,381.4 711,381.3 711.8,381.2 712.7,381.4 713.5,381.4 714.3,381.1 715.2,381.2 716,381.2 716.9,381.2 717.7,381.2 718.5,381.3 719.4,381.3 720.2,381.2 721,381.3 721.9,381.4 722.7,381.2 723.5,381 724.4,381.3 725.2,381.4 726.1,381.3 726.9,381.3 727.7,381.2 728.6,381.3 729.4,381.3 730.2,381.2 731.1,381.2 731.9,381.2 732.7,381.4 733.6,381.4 734.4,381.5 735.3,381.4 736.1,381.2 736.9,381.6 737.8,381.9 738.6,381.9 739.4,382.2 740.3,382.6 741.1,382.6 741.9,382.4 742.8,382.4 743.6,382.5 744.5,382.5 745.3,382.5 746.1,382.6 747,382.5 747.8,382.5 748.6,382.5 749.5,382.5 750.3,382.3 751.1,382.5 752,382.5 752.8,382.4 753.7,382.4 754.5,382.5 755.3,382.5 756.2,382.4 757,382.6 757.8,382.4 758.7,382.3 759.5,382.6 760.3,382.2 761.2,382.3 762,382.4 762.9,382.6 763.7,382.3 764.5,382.5 765.4,382.5 766.2,382.5 767,382.4 767.9,382.4 768.7,382.5 769.5,382.3 770.4,382.5 771.2,382.4 772.1,382.5 772.9,382.4 773.7,382.5 774.6,382.4 775.4,382.4 776.2,382.5 777.1,382.6 777.9,382.4 778.7,382.5 779.6,382.5 780.4,382.4 781.3,382.4 782.1,382.4 782.9,382.5 783.8,382.3 784.6,382.5 785.4,382.5 786.3,382.4 787.1,382.5 787.9,382.4 788.8,382.5 789.6,382.6 790.5,382.5 791.3,382.4 792.1,382.5 793,382.6 793.8,382.8 794.6,382.5 795.5,382.6 796.3,382.5 797.1,382.6 798,382.6 798.8,382.4 799.7,382.5 800.5,382.4 801.3,382.4 802.2,382.4 803,382.3 803.8,382.5 804.7,382.5 805.5,382.4 806.3,382.3 807.2,382.4 808,382.7 808.9,382.4 809.7,382.5 810.5,382.5 811.4,382.5 812.2,382.5 813,382.3 813.9,382.7 814.7,382.2 815.5,382.4 816.4,382.4 817.2,382.5 818.1,382.4 818.9,382.6 819.7,382.3 820.6,382.4 821.4,382.5 822.2,382.5 823.1,382.5 823.9,382.5 824.7,382.6 825.6,382.4 826.4,382.4 827.3,382.5 828.1,382.4 828.9,382.5 829.8,382.4 830.6,382.4 831.4,382.4 832.3,382.6 833.1,382.4 833.9,382.5 834.8,382.3 835.6,382.3 836.5,382.5 837.3,382.5 838.1,382.5 839,382.5 839.8,382.5 840.6,382.4 841.5,382.5 842.3,382.5 843.1,382.5 844,382.3 844.8,382.4 845.7,382.5 846.5,382.4 847.3,382.5 848.2,382.6 849,382.5 849.8,382.7 850.7,382.4 851.5,382.4 852.3,382.4 853.2,382.4 854,382.3 854.9,382.5 855.7,382.3 856.5,382.5 857.4,382.6 858.2,382.5 859,382.6 859.9,382.6 860.7,382.5 861.5,382.4 862.4,382.5 863.2,382.4 864.1,382.6 864.9,382.6 865.7,382.6 866.6,382.5 867.4,382.4 868.2,382.4 869.1,382.6 869.9,382.3 870.7,382.5 871.6,382.5 872.4,382.6 873.3,382.2 874.1,382.5 874.9,382.4 875.8,382.5 876.6,382.5 877.4,382.5 878.3,382.5 879.1,382.4 879.9,382.3 880.8,382.2 881.6,382.4 882.5,382.6 883.3,382.6 884.1,382.5 885,382.6 885.8,382.3 886.6,382.6 887.5,382.5 888.3,382.6 889.1,382.5 890,382.6 890.8,382.6 891.7,382.6 892.5,382.5 893.3,382.4 894.2,382.5 895,382.4 895.8,382.4 896.7,382.6 897.5,382.2 898.3,382.4 899.2,382.6 900,382.5 900.9,382.4 901.7,382.5 902.5,382.6 903.4,382.5 904.2,382.5 905,382.7 905.9,382.6 906.7,382.4 907.5,382.4 908.4,382.4 909.2,382.2 910.1,382.4 910.9,382.4 911.7,382.4 912.6,382.5 913.4,382.4 914.2,382.5 915.1,382.6 915.9,382.4 916.7,382.5 917.6,382.4 918.4,382.5 919.3,382.5 920.1,382.5 920.9,382.6 921.8,382.5 922.6,382.5 923.4,382.5 924.3,382.4 925.1,382.4 925.9,382.4 926.8,382.3 927.6,382.3 928.5,382.4 929.3,382.4 930.1,382.3 931,382.3 931.8,382.4 932.6,382.4 933.5,382.5 934.3,382.5 935.1,382.5 936,382.6 936.8,382.4 937.7,382.7 938.5,382.3 939.3,382.3 940.2,382.5 941,382.5 941.8,382.5 942.7,382.4 943.5,382.3 944.3,382.2 945.2,382.4 946,382.5 946.9,382.4 947.7,382.5 948.5,382.3 949.4,382.5 950.2,382.4 951,382.5 951.9,382.4 952.7,382.4 953.5,382.5 954.4,382.5 955.2,382.3 956.1,382.3 956.9,382.7 957.7,382.5 958.6,382.5 959.4,382.4 960.2,382.4 961.1,382.5 961.9,382.5 962.7,382.8 963.6,382.6 964.4,382.3 965.3,382.3 966.1,382.3 966.9,382.5 967.8,382.6 968.6,382.6 969.4,382.5 970.3,382.6 971.1,382.5 971.9,382.5 972.8,382.4 973.6,382.4 974.5,382.4 975.3,382.3 976.1,382.5 977,382.5 977.8,382.5 978.6,382.5 979.5,382.6 980.3,382.7 981.1,382.6 982,382.5 982.8,382.5 983.7,382.6 984.5,382.4 985.3,382.3 986.2,382.5 987,382.6 987.8,382.5 988.7,382.7 989.5,382.7 990.3,382.7 991.2,382.6 992,382.4 992.9,382.4 993.7,382.1 994.5,382.5 995.4,382.6 996.2,382.8 997,382.6 997.9,382.4 998.7,382.1 999.5,382.2 1000.4,382.3 1001.2,382.4 1002.1,382.7 1002.9,382.3 1003.7,382.8 1004.6,382.9 1005.4,383.3 1006.2,383.1 1007.1,382.6 1007.9,382.6 1008.7,382.4 1009.6,382.2 1010.4,382.6 1011.3,382 1012.1,382.6 1012.9,382.7 1013.8,382.8 1014.6,382.6 1015.4,382.3 1016.3,382.9 1017.1,382.8 1017.9,382.1 1018.8,381.4 1019.6,381.6 1020.5,382.1 1021.3,383 1022.1,383.1 1023,383.7 1023.8,383.5 1024.6,382.7 1025.5,381.8 1026.3,381.2 1027.1,381 1028,381.6 1028.8,382.2 1029.7,383.7 1030.5,383.4 1031.3,383.3 1032.2,382 1033,382.4 1033.8,382.7 1034.7,383.5 1035.5,383.2 1036.3,383.7 1037.2,383.3 1038,383.5 1038.9,382.6 1039.7,383.5 1040.5,383.4 1041.4,383.4 1042.2,383 1043,382.4 1043.9,382.2 1044.7,381.9 1045.5,382.4 1046.4,383.1 1047.2,384.6 1048.1,384.3 1048.9,383.7 1049.7,382.9 1050.6,383.6 1051.4,384 1052.2,383.1 1053.1,380.9 1053.9,379.5 1054.7,380.7 1055.6,382.8 1056.4,383.6 1057.3,383.7 1058.1,383.5 1058.9,383.4 1059.8,381.4 1060.6,382.4 1061.4,382.5 1062.3,384.7 1063.1,385 1063.9,384.9 1064.8,385.4 1065.6,383.8 1066.5,383.8 1067.3,382.2 1068.1,382.1 1069,382.2 1069.8,382.5 1070.6,382.7 1071.5,382.5 1072.3,382.3 1073.1,382.1 1074,384.2 1074.8,384.8 1075.7,383.3 1076.5,382.6 1077.3,382.1 1078.2,381.7 1079,381.4" fill="none" stroke="#38ad6b" stroke-width="2.4" stroke-linejoin="round" /><polyline points="619,381 619.8,381.2 620.7,381.1 621.5,381 622.3,381 623.2,381.2 624,381 624.9,381 625.7,381.2 626.5,381.1 627.4,381.1 628.2,381 629,381.1 629.9,381.1 630.7,380.9 631.5,381.1 632.4,381.1 633.2,381.1 634.1,381 634.9,381 635.7,381.2 636.6,381.3 637.4,381.1 638.2,381.2 639.1,381.2 639.9,381.1 640.7,380.9 641.6,381.1 642.4,380.8 643.3,381.2 644.1,380.9 644.9,381 645.8,381.2 646.6,381.1 647.4,381.2 648.3,381.2 649.1,381 649.9,381 650.8,381 651.6,381.1 652.5,381 653.3,381.2 654.1,381.1 655,381.3 655.8,381 656.6,381 657.5,381.1 658.3,381 659.1,381.2 660,381.1 660.8,381.2 661.7,381.1 662.5,381.1 663.3,381.1 664.2,381 665,381.1 665.8,380.9 666.7,381 667.5,381.1 668.3,381.2 669.2,381.2 670,381 670.9,381.1 671.7,381.1 672.5,381.1 673.4,381 674.2,381.2 675,381.1 675.9,381 676.7,381.2 677.5,381.1 678.4,380.9 679.2,381.1 680.1,381.1 680.9,381 681.7,381.1 682.6,381.1 683.4,381.1 684.2,380.9 685.1,381.2 685.9,381.1 686.7,380.9 687.6,381.1 688.4,381 689.3,381.1 690.1,381.3 690.9,381.1 691.8,381.1 692.6,380.9 693.4,381 694.3,380.9 695.1,381.2 695.9,381.2 696.8,381.2 697.6,381 698.5,381 699.3,381.1 700.1,381.2 701,381 701.8,381 702.6,381 703.5,381.2 704.3,381.1 705.1,381 706,381 706.8,381.1 707.7,381.2 708.5,381 709.3,381.1 710.2,381.3 711,381.3 711.8,381.1 712.7,381.2 713.5,381.1 714.3,381.1 715.2,381.1 716,381.1 716.9,381.1 717.7,381.1 718.5,381.2 719.4,381.2 720.2,381.2 721,381.3 721.9,381.1 722.7,381.1 723.5,381.1 724.4,381.2 725.2,381.1 726.1,381.3 726.9,381.1 727.7,381.2 728.6,381.2 729.4,381 730.2,381.3 731.1,381.2 731.9,381.3 732.7,381.3 733.6,381.3 734.4,381.3 735.3,381.3 736.1,381.2 736.9,381.2 737.8,381.6 738.6,382 739.4,382.4 740.3,382.5 741.1,382.4 741.9,382.5 742.8,382.4 743.6,382.4 744.5,382.3 745.3,382.4 746.1,382.3 747,382.5 747.8,382.4 748.6,382.6 749.5,382.4 750.3,382.4 751.1,382.6 752,382.3 752.8,382.5 753.7,382.5 754.5,382.4 755.3,382.6 756.2,382.4 757,382.4 757.8,382.3 758.7,382.5 759.5,382.6 760.3,382.6 761.2,382.5 762,382.4 762.9,382.3 763.7,382.4 764.5,382.5 765.4,382.4 766.2,382.5 767,382.2 767.9,382.4 768.7,382.7 769.5,382.5 770.4,382.5 771.2,382.4 772.1,382.5 772.9,382.6 773.7,382.5 774.6,382.6 775.4,382.3 776.2,382.6 777.1,382.4 777.9,382.4 778.7,382.5 779.6,382.5 780.4,382.5 781.3,382.3 782.1,382.6 782.9,382.3 783.8,382.6 784.6,382.5 785.4,382.3 786.3,382.5 787.1,382.3 787.9,382.4 788.8,382.4 789.6,382.4 790.5,382.3 791.3,382.6 792.1,382.4 793,382.4 793.8,382.4 794.6,382.5 795.5,382.4 796.3,382.3 797.1,382.5 798,382.4 798.8,382.4 799.7,382.3 800.5,382.2 801.3,382.4 802.2,382.6 803,382.5 803.8,382.5 804.7,382.6 805.5,382.5 806.3,382.4 807.2,382.4 808,382.4 808.9,382.4 809.7,382.4 810.5,382.4 811.4,382.5 812.2,382.4 813,382.6 813.9,382.3 814.7,382.4 815.5,382.4 816.4,382.4 817.2,382.4 818.1,382.5 818.9,382.5 819.7,382.4 820.6,382.5 821.4,382.4 822.2,382.4 823.1,382.4 823.9,382.4 824.7,382.6 825.6,382.3 826.4,382.2 827.3,382.4 828.1,382.4 828.9,382.2 829.8,382.5 830.6,382.6 831.4,382.5 832.3,382.6 833.1,382.5 833.9,382.5 834.8,382.4 835.6,382.6 836.5,382.5 837.3,382.5 838.1,382.6 839,382.5 839.8,382.3 840.6,382.4 841.5,382.4 842.3,382.4 843.1,382.3 844,382.7 844.8,382.3 845.7,382.4 846.5,382.5 847.3,382.2 848.2,382.8 849,382.4 849.8,382.4 850.7,382.5 851.5,382.5 852.3,382.6 853.2,382.6 854,382.5 854.9,382.5 855.7,382.4 856.5,382.5 857.4,382.5 858.2,382.3 859,382.4 859.9,382.6 860.7,382.4 861.5,382.4 862.4,382.5 863.2,382.4 864.1,382.3 864.9,382.4 865.7,382.5 866.6,382.2 867.4,382.7 868.2,382.3 869.1,382.5 869.9,382.5 870.7,382.4 871.6,382.6 872.4,382.6 873.3,382.4 874.1,382.5 874.9,382.6 875.8,382.5 876.6,382.6 877.4,382.5 878.3,382.5 879.1,382.5 879.9,382.3 880.8,382.4 881.6,382.4 882.5,382.5 883.3,382.4 884.1,382.4 885,382.5 885.8,382.1 886.6,382.4 887.5,382.6 888.3,382.4 889.1,382.5 890,382.2 890.8,382.6 891.7,382.3 892.5,382.4 893.3,382.4 894.2,382.4 895,382.5 895.8,382.5 896.7,382.6 897.5,382.3 898.3,382.5 899.2,382.5 900,382.4 900.9,382.4 901.7,382.4 902.5,382.3 903.4,382.4 904.2,382.6 905,382.3 905.9,382.4 906.7,382.5 907.5,382.5 908.4,382.4 909.2,382.3 910.1,382.4 910.9,382.6 911.7,382.7 912.6,382.3 913.4,382.5 914.2,382.5 915.1,382.4 915.9,382.4 916.7,382.4 917.6,382.7 918.4,382.6 919.3,382.3 920.1,382.2 920.9,382.6 921.8,382.4 922.6,382.6 923.4,382.5 924.3,382.7 925.1,382.5 925.9,382.5 926.8,382.4 927.6,382.5 928.5,382.5 929.3,382.5 930.1,382.7 931,382.6 931.8,382.4 932.6,382.3 933.5,382.3 934.3,382.5 935.1,382.4 936,382.6 936.8,382.3 937.7,382.4 938.5,382.5 939.3,382.5 940.2,382.6 941,382.5 941.8,382.5 942.7,382.4 943.5,382.5 944.3,382.5 945.2,382.3 946,382.5 946.9,382.7 947.7,382.4 948.5,382.5 949.4,382.3 950.2,382.6 951,382.3 951.9,382.5 952.7,382.2 953.5,382.4 954.4,382.5 955.2,382.5 956.1,382.5 956.9,382.5 957.7,382.5 958.6,382.5 959.4,382.5 960.2,382.5 961.1,382.2 961.9,382.5 962.7,382.5 963.6,382.5 964.4,382.5 965.3,382.4 966.1,382.5 966.9,382.3 967.8,382.6 968.6,382.6 969.4,382.5 970.3,382.5 971.1,382.4 971.9,382.5 972.8,382.3 973.6,382.4 974.5,382.4 975.3,382.4 976.1,382.7 977,382.4 977.8,382.4 978.6,382.5 979.5,382.5 980.3,382.4 981.1,382.6 982,382.5 982.8,382.3 983.7,382.4 984.5,382.7 985.3,382.8 986.2,382.4 987,382.6 987.8,382.4 988.7,382.5 989.5,382.3 990.3,382.4 991.2,382.8 992,382.6 992.9,382.1 993.7,382.2 994.5,382.4 995.4,382.2 996.2,382.7 997,382.8 997.9,383.3 998.7,382.7 999.5,382.4 1000.4,382.3 1001.2,383.1 1002.1,382.8 1002.9,383.2 1003.7,382.8 1004.6,383 1005.4,382.8 1006.2,382.7 1007.1,382.8 1007.9,383 1008.7,382.9 1009.6,382.9 1010.4,382.6 1011.3,382.3 1012.1,382 1012.9,382.6 1013.8,383.1 1014.6,383.6 1015.4,382.8 1016.3,382.2 1017.1,381.9 1017.9,382.1 1018.8,382.2 1019.6,381.7 1020.5,382.1 1021.3,382.5 1022.1,383.1 1023,382.7 1023.8,382.2 1024.6,382 1025.5,382 1026.3,382.4 1027.1,382.4 1028,382.4 1028.8,381.5 1029.7,382.9 1030.5,383.5 1031.3,382.7 1032.2,382.2 1033,382.7 1033.8,383.8 1034.7,382.7 1035.5,382.7 1036.3,382.9 1037.2,383 1038,382.4 1038.9,382 1039.7,381.1 1040.5,380.8 1041.4,381.2 1042.2,381.5 1043,380.8 1043.9,381.2 1044.7,382.1 1045.5,382.4 1046.4,381.3 1047.2,380.8 1048.1,381.2 1048.9,381.9 1049.7,382.8 1050.6,383 1051.4,382.3 1052.2,382 1053.1,381.8 1053.9,381.5 1054.7,381.7 1055.6,381 1056.4,383 1057.3,383.1 1058.1,383.4 1058.9,381.5 1059.8,381.5 1060.6,383.4 1061.4,383.7 1062.3,383 1063.1,382.4 1063.9,382.8 1064.8,382.2 1065.6,382.5 1066.5,384 1067.3,384.3 1068.1,382.8 1069,379.6 1069.8,380.2 1070.6,379.5 1071.5,381.3 1072.3,380.5 1073.1,381.1 1074,380.8 1074.8,381.4 1075.7,382 1076.5,382.8 1077.3,383.6 1078.2,382.4 1079,382.5" fill="none" stroke="#b177de" stroke-width="2.4" stroke-linejoin="round" /><polyline points="619,382.1 619.8,382.1 620.7,382.1 621.5,382.1 622.3,382.1 623.2,382.1 624,382.1 624.9,382.1 625.7,382.1 626.5,382.1 627.4,382.1 628.2,382.1 629,382.1 629.9,382.1 630.7,382.1 631.5,382.1 632.4,382.1 633.2,382.1 634.1,382.1 634.9,382.1 635.7,382.1 636.6,382.1 637.4,382.1 638.2,382.1 639.1,382.1 639.9,382.1 640.7,382.1 641.6,382.1 642.4,382.1 643.3,382.1 644.1,382.1 644.9,382.1 645.8,382.1 646.6,382.1 647.4,382.1 648.3,382.1 649.1,382.1 649.9,382.1 650.8,382.1 651.6,382.1 652.5,382.1 653.3,382.1 654.1,382.1 655,382.1 655.8,382.1 656.6,382.1 657.5,382.1 658.3,382.1 659.1,382.1 660,382.1 660.8,382.1 661.7,382.1 662.5,382.1 663.3,382.1 664.2,382.1 665,382.1 665.8,382.1 666.7,382.1 667.5,382.1 668.3,382.1 669.2,382.1 670,382.1 670.9,382.1 671.7,382.1 672.5,382.1 673.4,382.1 674.2,382.1 675,382.1 675.9,382.1 676.7,382.1 677.5,382.1 678.4,382.1 679.2,382.1 680.1,382.1 680.9,382.1 681.7,382.1 682.6,382.1 683.4,382.1 684.2,382.1 685.1,382.1 685.9,382.1 686.7,382.1 687.6,382.1 688.4,382.1 689.3,382.1 690.1,382.1 690.9,382.1 691.8,382.1 692.6,382.1 693.4,382.1 694.3,382.1 695.1,382.1 695.9,382.1 696.8,382.1 697.6,382.1 698.5,382.1 699.3,382.1 700.1,382.1 701,382.1 701.8,382.1 702.6,382.1 703.5,382.1 704.3,382.1 705.1,382.1 706,382.1 706.8,382.1 707.7,382.1 708.5,382.1 709.3,382.1 710.2,382.1 711,382.1 711.8,382.1 712.7,382.1 713.5,382.1 714.3,382.1 715.2,382.1 716,382.1 716.9,382.1 717.7,382.1 718.5,382.1 719.4,382.1 720.2,382.1 721,382.1 721.9,382.1 722.7,382.1 723.5,382.1 724.4,382.1 725.2,382.1 726.1,382.1 726.9,382.1 727.7,382.1 728.6,382.1 729.4,382.1 730.2,382.1 731.1,382.1 731.9,382.1 732.7,382.1 733.6,382.1 734.4,382.1 735.3,382.1 736.1,382.1 736.9,382.1 737.8,382.2 738.6,382.3 739.4,382.4 740.3,382.5 741.1,382.5 741.9,382.5 742.8,382.5 743.6,382.5 744.5,382.5 745.3,382.5 746.1,382.5 747,382.5 747.8,382.5 748.6,382.5 749.5,382.5 750.3,382.5 751.1,382.5 752,382.5 752.8,382.5 753.7,382.5 754.5,382.5 755.3,382.5 756.2,382.5 757,382.5 757.8,382.5 758.7,382.5 759.5,382.5 760.3,382.5 761.2,382.5 762,382.5 762.9,382.5 763.7,382.5 764.5,382.5 765.4,382.5 766.2,382.5 767,382.5 767.9,382.5 768.7,382.5 769.5,382.5 770.4,382.5 771.2,382.5 772.1,382.5 772.9,382.5 773.7,382.5 774.6,382.5 775.4,382.5 776.2,382.5 777.1,382.5 777.9,382.5 778.7,382.5 779.6,382.5 780.4,382.5 781.3,382.5 782.1,382.5 782.9,382.5 783.8,382.5 784.6,382.5 785.4,382.5 786.3,382.5 787.1,382.5 787.9,382.5 788.8,382.5 789.6,382.5 790.5,382.5 791.3,382.5 792.1,382.5 793,382.5 793.8,382.5 794.6,382.5 795.5,382.5 796.3,382.5 797.1,382.5 798,382.5 798.8,382.5 799.7,382.5 800.5,382.5 801.3,382.5 802.2,382.5 803,382.5 803.8,382.5 804.7,382.5 805.5,382.5 806.3,382.5 807.2,382.5 808,382.5 808.9,382.5 809.7,382.5 810.5,382.5 811.4,382.5 812.2,382.5 813,382.5 813.9,382.5 814.7,382.5 815.5,382.5 816.4,382.5 817.2,382.5 818.1,382.5 818.9,382.5 819.7,382.5 820.6,382.5 821.4,382.5 822.2,382.5 823.1,382.5 823.9,382.5 824.7,382.5 825.6,382.5 826.4,382.5 827.3,382.5 828.1,382.5 828.9,382.5 829.8,382.5 830.6,382.5 831.4,382.5 832.3,382.5 833.1,382.5 833.9,382.5 834.8,382.5 835.6,382.5 836.5,382.5 837.3,382.5 838.1,382.5 839,382.5 839.8,382.5 840.6,382.5 841.5,382.5 842.3,382.5 843.1,382.5 844,382.5 844.8,382.5 845.7,382.5 846.5,382.5 847.3,382.5 848.2,382.5 849,382.5 849.8,382.5 850.7,382.5 851.5,382.5 852.3,382.5 853.2,382.5 854,382.5 854.9,382.5 855.7,382.5 856.5,382.5 857.4,382.5 858.2,382.5 859,382.5 859.9,382.5 860.7,382.5 861.5,382.5 862.4,382.5 863.2,382.5 864.1,382.5 864.9,382.5 865.7,382.5 866.6,382.5 867.4,382.5 868.2,382.5 869.1,382.5 869.9,382.5 870.7,382.5 871.6,382.5 872.4,382.5 873.3,382.5 874.1,382.5 874.9,382.5 875.8,382.5 876.6,382.5 877.4,382.5 878.3,382.5 879.1,382.5 879.9,382.5 880.8,382.5 881.6,382.5 882.5,382.5 883.3,382.5 884.1,382.5 885,382.5 885.8,382.5 886.6,382.5 887.5,382.5 888.3,382.5 889.1,382.5 890,382.5 890.8,382.5 891.7,382.5 892.5,382.5 893.3,382.5 894.2,382.5 895,382.5 895.8,382.5 896.7,382.5 897.5,382.5 898.3,382.5 899.2,382.5 900,382.5 900.9,382.5 901.7,382.5 902.5,382.5 903.4,382.5 904.2,382.5 905,382.5 905.9,382.5 906.7,382.5 907.5,382.5 908.4,382.5 909.2,382.5 910.1,382.5 910.9,382.5 911.7,382.5 912.6,382.5 913.4,382.5 914.2,382.5 915.1,382.5 915.9,382.5 916.7,382.5 917.6,382.5 918.4,382.5 919.3,382.5 920.1,382.5 920.9,382.5 921.8,382.5 922.6,382.5 923.4,382.5 924.3,382.5 925.1,382.5 925.9,382.5 926.8,382.5 927.6,382.5 928.5,382.5 929.3,382.5 930.1,382.5 931,382.5 931.8,382.5 932.6,382.5 933.5,382.5 934.3,382.5 935.1,382.5 936,382.5 936.8,382.5 937.7,382.5 938.5,382.5 939.3,382.5 940.2,382.5 941,382.5 941.8,382.5 942.7,382.5 943.5,382.5 944.3,382.5 945.2,382.5 946,382.5 946.9,382.5 947.7,382.5 948.5,382.5 949.4,382.5 950.2,382.5 951,382.5 951.9,382.5 952.7,382.5 953.5,382.5 954.4,382.5 955.2,382.5 956.1,382.5 956.9,382.5 957.7,382.5 958.6,382.5 959.4,382.5 960.2,382.5 961.1,382.5 961.9,382.5 962.7,382.5 963.6,382.5 964.4,382.5 965.3,382.5 966.1,382.5 966.9,382.5 967.8,382.5 968.6,382.5 969.4,382.5 970.3,382.5 971.1,382.5 971.9,382.5 972.8,382.5 973.6,382.5 974.5,382.5 975.3,382.5 976.1,382.5 977,382.5 977.8,382.5 978.6,382.5 979.5,382.5 980.3,382.4 981.1,382.4 982,382.4 982.8,382.5 983.7,382.4 984.5,382.4 985.3,382.4 986.2,382.4 987,382.4 987.8,382.5 988.7,382.6 989.5,382.6 990.3,382.5 991.2,382.4 992,382.4 992.9,382.5 993.7,382.5 994.5,382.6 995.4,382.5 996.2,382.5 997,382.4 997.9,382.6 998.7,382.6 999.5,382.6 1000.4,382.5 1001.2,382.3 1002.1,382.2 1002.9,382 1003.7,382.2 1004.6,382.2 1005.4,382.5 1006.2,382.5 1007.1,382.7 1007.9,382.4 1008.7,382.5 1009.6,382.2 1010.4,382.5 1011.3,382.4 1012.1,382.7 1012.9,382.6 1013.8,382.6 1014.6,382.1 1015.4,382.4 1016.3,382.4 1017.1,382.5 1017.9,382.2 1018.8,382.1 1019.6,382.4 1020.5,382.1 1021.3,382.2 1022.1,382.1 1023,382.4 1023.8,382.3 1024.6,382.4 1025.5,382.2 1026.3,381.8 1027.1,381.4 1028,382 1028.8,383.1 1029.7,382.9 1030.5,382.3 1031.3,382.1 1032.2,382.4 1033,382.6 1033.8,382.1 1034.7,382.5 1035.5,382.7 1036.3,383 1037.2,382.5 1038,381.8 1038.9,381.8 1039.7,381.6 1040.5,382.2 1041.4,381.8 1042.2,382.6 1043,382.4 1043.9,382.2 1044.7,382.1 1045.5,381.7 1046.4,382.4 1047.2,381.2 1048.1,382.5 1048.9,381.9 1049.7,382.1 1050.6,381.3 1051.4,381 1052.2,381.5 1053.1,382.5 1053.9,382.7 1054.7,382.8 1055.6,381.3 1056.4,382.4 1057.3,383.3 1058.1,383.7 1058.9,383.6 1059.8,382.1 1060.6,382.3 1061.4,381.1 1062.3,382.2 1063.1,382.7 1063.9,382.4 1064.8,383.2 1065.6,382.8 1066.5,383.4 1067.3,382.1 1068.1,382.8 1069,382.3 1069.8,382.1 1070.6,380.8 1071.5,382 1072.3,381.5 1073.1,383.4 1074,384.3 1074.8,383.9 1075.7,383 1076.5,381.1 1077.3,382.6 1078.2,380.3 1079,375.3" fill="none" stroke="#0ccbcd" stroke-width="2.6" stroke-linejoin="round" /></g><line x1="618.1" y1="22.4" x2="1080" y2="22.4" stroke="#000" stroke-width="1.5" /><line x1="618.1" y1="392.9" x2="1080" y2="392.9" stroke="#000" stroke-width="2" /><line x1="619" y1="22.4" x2="619" y2="392.9" stroke="#000" stroke-width="1.8" /><line x1="1079" y1="22.4" x2="1079" y2="392.9" stroke="#000" stroke-width="2" /><line x1="660.8" y1="392.9" x2="660.8" y2="399.2" stroke="#000" stroke-width="2" /><text x="660.8" y="418.8" font-size="16.4" text-anchor="middle" font-weight="bold" >500</text><line x1="765.4" y1="392.9" x2="765.4" y2="399.2" stroke="#000" stroke-width="2" /><text x="765.4" y="418.8" font-size="16.4" text-anchor="middle" font-weight="bold" >1000</text><line x1="869.9" y1="392.9" x2="869.9" y2="399.2" stroke="#000" stroke-width="2" /><text x="869.9" y="418.8" font-size="16.4" text-anchor="middle" font-weight="bold" >1500</text><line x1="974.5" y1="392.9" x2="974.5" y2="399.2" stroke="#000" stroke-width="2" /><text x="974.5" y="418.8" font-size="16.4" text-anchor="middle" font-weight="bold" >2000</text><line x1="1079" y1="392.9" x2="1079" y2="399.2" stroke="#000" stroke-width="2" /><text x="1079" y="418.8" font-size="16.4" text-anchor="middle" font-weight="bold" >2500</text><line x1="713.1" y1="392.9" x2="713.1" y2="396.4" stroke="#000" stroke-width="2" /><line x1="817.6" y1="392.9" x2="817.6" y2="396.4" stroke="#000" stroke-width="2" /><line x1="922.2" y1="392.9" x2="922.2" y2="396.4" stroke="#000" stroke-width="2" /><line x1="1026.7" y1="392.9" x2="1026.7" y2="396.4" stroke="#000" stroke-width="2" /><line x1="612" y1="382.5" x2="619" y2="382.5" stroke="#000" stroke-width="1.5" /><text x="606.2" y="388" font-size="16.4" text-anchor="end" font-weight="bold" >0</text><line x1="612" y1="310.4" x2="619" y2="310.4" stroke="#000" stroke-width="1.5" /><text x="606.2" y="316" font-size="16.4" text-anchor="end" font-weight="bold" >20</text><line x1="612" y1="238.4" x2="619" y2="238.4" stroke="#000" stroke-width="1.5" /><text x="606.2" y="244" font-size="16.4" text-anchor="end" font-weight="bold" >40</text><line x1="612" y1="166.4" x2="619" y2="166.4" stroke="#000" stroke-width="1.5" /><text x="606.2" y="172" font-size="16.4" text-anchor="end" font-weight="bold" >60</text><line x1="612" y1="94.4" x2="619" y2="94.4" stroke="#000" stroke-width="1.5" /><text x="606.2" y="100" font-size="16.4" text-anchor="end" font-weight="bold" >80</text><line x1="612" y1="22.4" x2="619" y2="22.4" stroke="#000" stroke-width="1.5" /><text x="606.2" y="28" font-size="16.4" text-anchor="end" font-weight="bold" >100</text><text x="570" y="201" font-size="20.5" text-anchor="middle" font-weight="bold" transform="rotate(-90 570 201)" textLength="161" lengthAdjust="spacingAndGlyphs" >Transmission (%)</text><text x="849" y="447" font-size="20.5" text-anchor="middle" font-weight="bold" textLength="155" lengthAdjust="spacingAndGlyphs" >Wavelength (nm)</text><line x1="908" y1="134" x2="953" y2="134" stroke="#4a4a4a" stroke-width="1.2" /><text x="957" y="140.5" font-size="19.5" text-anchor="start" font-weight="bold" textLength="119" lengthAdjust="spacingAndGlyphs" >CNT@DAC#1</text><line x1="908" y1="158.1" x2="953" y2="158.1" stroke="#f04141" stroke-width="1.2" /><text x="957" y="164.6" font-size="19.5" text-anchor="start" font-weight="bold" textLength="119" lengthAdjust="spacingAndGlyphs" >CNT@DAC#2</text><line x1="908" y1="182.2" x2="953" y2="182.2" stroke="#1b6fde" stroke-width="2.4" /><text x="957" y="188.7" font-size="19.5" text-anchor="start" font-weight="bold" textLength="119" lengthAdjust="spacingAndGlyphs" >CNT@DAC#3</text><line x1="908" y1="206.3" x2="953" y2="206.3" stroke="#38ad6b" stroke-width="2.4" /><text x="957" y="212.8" font-size="19.5" text-anchor="start" font-weight="bold" textLength="119" lengthAdjust="spacingAndGlyphs" >CNT@DAC#4</text><line x1="908" y1="230.4" x2="953" y2="230.4" stroke="#b177de" stroke-width="2.4" /><text x="957" y="236.9" font-size="19.5" text-anchor="start" font-weight="bold" textLength="119" lengthAdjust="spacingAndGlyphs" >CNT@DAC#5</text><line x1="908" y1="254.5" x2="953" y2="254.5" stroke="#0ccbcd" stroke-width="2.6" /><text x="957" y="261" font-size="19.5" text-anchor="start" font-weight="bold" textLength="41.1" lengthAdjust="spacingAndGlyphs" >DAC</text><text x="534" y="29.5" font-size="43" text-anchor="start" font-weight="bold" textLength="47.5" lengthAdjust="spacingAndGlyphs" >(b)</text></g>
<g><defs><linearGradient id="gsol" x1="0" y1="0" x2="0" y2="1" gradientUnits="objectBoundingBox"><stop offset="0" stop-color="#5aa5e6"/><stop offset="0.55" stop-color="#2f76b0"/><stop offset="1" stop-color="#1f5f8b"/></linearGradient></defs><clipPath id="cc"><rect x="1163" y="24.7" width="425" height="366"/></clipPath><g clip-path="url(#cc)"><polygon points="1163,390.7 1163.8,390.7 1164.5,382 1165.3,370.5 1166.1,358.9 1166.8,347.3 1167.6,335.8 1168.4,324.2 1169.2,312.6 1169.9,309 1170.7,305.4 1171.5,301.8 1172.2,298.1 1173,294.5 1173.8,290.9 1174.5,286.8 1175.3,281.1 1176.1,275.5 1176.8,269.9 1177.6,264.2 1178.4,258.6 1179.2,253 1179.9,243.8 1180.7,231 1181.5,218.3 1182.2,203.9 1183,184.8 1183.8,165.7 1184.5,155.3 1185.3,153.6 1186.1,151.9 1186.8,153.8 1187.6,159.2 1188.4,159.3 1189.1,143.5 1189.9,127.8 1190.7,112 1191.5,98.4 1192.2,86.8 1193,75.2 1193.8,70.3 1194.5,72.3 1195.3,74.3 1196.1,71.9 1196.8,65.1 1197.6,58.4 1198.4,64.4 1199.1,83.3 1199.9,79.8 1200.7,77 1201.5,74.9 1202.2,72.8 1203,72.9 1203.8,79.9 1204.5,86.8 1205.3,85 1206.1,80.3 1206.8,75.6 1207.6,73.6 1208.4,74.3 1209.1,75 1209.9,75.7 1210.7,76.4 1211.5,77.2 1212.2,77.9 1213,80.6 1213.8,83.9 1214.5,87.3 1215.3,90.6 1216.1,94 1216.8,97.4 1217.6,100.7 1218.4,103.8 1219.1,106.8 1219.9,104.8 1220.7,101.1 1221.5,97.5 1222.2,93.8 1223,91.4 1223.8,92.8 1224.5,94.2 1225.3,95.7 1226.1,97.1 1226.8,98.6 1227.6,100 1228.4,101.3 1229.1,102.4 1229.9,103.5 1230.7,104.6 1231.4,105.8 1232.2,106.9 1233,108 1233.8,109.1 1234.5,117.5 1235.3,128.2 1236.1,138.9 1236.8,146.9 1237.6,151.3 1238.4,145 1239.1,138.7 1239.9,133.6 1240.7,129.8 1241.4,125.9 1242.2,143.5 1243,168.3 1243.8,184 1244.5,175.7 1245.3,167.4 1246.1,160.9 1246.8,156.3 1247.6,151.7 1248.4,147.2 1249.1,147.1 1249.9,148.6 1250.7,150.1 1251.4,160.6 1252.2,170.6 1253,180.6 1253.8,176 1254.5,171.3 1255.3,166.7 1256.1,163.8 1256.8,166.1 1257.6,168.5 1258.4,170.8 1259.1,173.1 1259.9,182.5 1260.7,194.1 1261.4,205.8 1262.2,213.6 1263,220 1263.8,226.5 1264.5,233 1265.3,220.3 1266.1,207.7 1266.8,200.5 1267.6,198.5 1268.4,196.6 1269.1,194.7 1269.9,194.7 1270.7,196.5 1271.4,198.4 1272.2,200.2 1273,202.1 1273.7,203.9 1274.5,207.7 1275.3,213.4 1276.1,219.1 1276.8,224.8 1277.6,230.5 1278.4,236.2 1279.1,240.8 1279.9,245.5 1280.7,250.1 1281.4,254.7 1282.2,257.4 1283,258.2 1283.7,259.1 1284.5,289.6 1285.3,330 1286.1,337 1286.8,334.3 1287.6,328.4 1288.4,322.5 1289.1,314.9 1289.9,305.6 1290.7,296.4 1291.4,287.1 1292.2,277.9 1293,271.4 1293.7,264.8 1294.5,258.3 1295.3,251.8 1296.1,245.3 1296.8,240.7 1297.6,241.6 1298.4,242.4 1299.1,243.3 1299.9,244.2 1300.7,245.1 1301.4,246 1302.2,246.9 1303,248 1303.7,249.3 1304.5,250.6 1305.3,252 1306.1,253.3 1306.8,254.6 1307.6,256 1308.4,257.3 1309.1,258.6 1309.9,260 1310.7,261.3 1311.4,263.9 1312.2,270.5 1313,277.1 1313.7,283.6 1314.5,290.2 1315.3,296.4 1316,302.6 1316.8,308.7 1317.6,314.9 1318.4,323.3 1319.1,338.3 1319.9,353.3 1320.7,368.3 1321.4,366.2 1322.2,364.2 1323,362.2 1323.7,358.7 1324.5,353.6 1325.3,348.6 1326,343.5 1326.8,338.5 1327.6,333.5 1328.4,327.5 1329.1,321.6 1329.9,315.6 1330.7,309.7 1331.4,303.8 1332.2,299.2 1333,299 1333.7,298.8 1334.5,299.7 1335.3,301.8 1336,303.9 1336.8,304.4 1337.6,303.4 1338.4,302.3 1339.1,301.3 1339.9,300.2 1340.7,299.2 1341.4,298.1 1342.2,297.1 1343,296 1343.7,295.5 1344.5,296.4 1345.3,297.3 1346,298.2 1346.8,299.1 1347.6,300 1348.4,300.9 1349.1,301.8 1349.9,302.7 1350.7,303.6 1351.4,304.5 1352.2,305.4 1353,306.3 1353.7,307.2 1354.5,311.1 1355.3,316.1 1356,321 1356.8,326 1357.6,331 1358.3,336.3 1359.1,342 1359.9,347.6 1360.7,353.3 1361.4,359 1362.2,364.6 1363,370.1 1363.7,375.6 1364.5,381.1 1365.3,384.1 1366,384.7 1366.8,385.4 1367.6,386 1368.3,386.6 1369.1,387.2 1369.9,387.8 1370.7,388.4 1371.4,389 1372.2,389.6 1373,390.2 1373.7,390.5 1374.5,389.5 1375.3,388.5 1376,387.6 1376.8,386.6 1377.6,385.6 1378.3,384.7 1379.1,383.7 1379.9,382.7 1380.7,381.6 1381.4,380.1 1382.2,378.5 1383,377 1383.7,375.4 1384.5,373.9 1385.3,372.4 1386,371.1 1386.8,370 1387.6,369 1388.3,368 1389.1,366.9 1389.9,365.9 1390.7,364.9 1391.4,362.1 1392.2,358.8 1393,355.4 1393.7,352.1 1394.5,348.7 1395.3,345.4 1396,342.1 1396.8,341.3 1397.6,340.6 1398.3,339.8 1399.1,339 1399.9,338.3 1400.6,337.5 1401.4,336.8 1402.2,336 1403,335.3 1403.7,335.7 1404.5,336.4 1405.3,337.2 1406,338 1406.8,338.8 1407.6,339.5 1408.3,340.3 1409.1,341.1 1409.9,341.9 1410.6,342.3 1411.4,342.7 1412.2,343 1413,343.4 1413.7,343.7 1414.5,344.8 1415.3,345.4 1416,343.8 1416.8,342.2 1417.6,342.3 1418.3,342.5 1419.1,342.9 1419.9,343.3 1420.6,343.7 1421.4,344.1 1422.2,344.5 1423,344.9 1423.7,345.3 1424.5,345.7 1425.3,346.1 1426,346.5 1426.8,346.9 1427.6,347.4 1428.3,348 1429.1,348.5 1429.9,349.1 1430.6,349.7 1431.4,350.3 1432.2,350.9 1433,351.5 1433.7,352 1434.5,352.6 1435.3,353.2 1436,353.8 1436.8,354.4 1437.6,355 1438.3,355.5 1439.1,356.1 1439.9,356.7 1440.6,357.3 1441.4,358.3 1442.2,360.3 1442.9,362.4 1443.7,364.4 1444.5,366.5 1445.3,368.5 1446,370.6 1446.8,372.5 1447.6,374.3 1448.3,376.1 1449.1,377.9 1449.9,379.7 1450.6,381.6 1451.4,383.4 1452.2,384.2 1452.9,384.6 1453.7,385.1 1454.5,385.6 1455.3,386 1456,386.5 1456.8,387 1457.6,387.4 1458.3,387.9 1459.1,388.4 1459.9,388.8 1460.6,389.3 1461.4,389.7 1462.2,390.1 1462.9,390.1 1463.7,390.2 1464.5,390.2 1465.3,390.2 1466,390.3 1466.8,390.3 1467.6,390.3 1468.3,390.4 1469.1,390.4 1469.9,390.4 1470.6,390.5 1471.4,390.5 1472.2,390.5 1472.9,390.6 1473.7,390.6 1474.5,390.6 1475.3,390.7 1476,390.7 1476.8,390.5 1477.6,390.3 1478.3,390.1 1479.1,390 1479.9,389.8 1480.6,389 1481.4,387.6 1482.2,386.3 1482.9,384.7 1483.7,382.5 1484.5,380.4 1485.2,378.2 1486,376.1 1486.8,373.9 1487.6,375.2 1488.3,377.7 1489.1,380.3 1489.9,382.8 1490.6,384.3 1491.4,383.2 1492.2,382 1492.9,380.9 1493.7,379.1 1494.5,377.1 1495.2,375.1 1496,373.1 1496.8,371.8 1497.6,372.9 1498.3,373.9 1499.1,374.9 1499.9,376 1500.6,377 1501.4,378 1502.2,378.3 1502.9,377.8 1503.7,377.3 1504.5,376.8 1505.2,376.2 1506,375.7 1506.8,375.2 1507.6,374.7 1508.3,374.2 1509.1,374 1509.9,374.1 1510.6,374.2 1511.4,374.3 1512.2,374.4 1512.9,374.5 1513.7,374.7 1514.5,374.8 1515.2,374.9 1516,375 1516.8,375.1 1517.6,375.2 1518.3,375.3 1519.1,375.5 1519.9,375.6 1520.6,375.7 1521.4,375.8 1522.2,375.9 1522.9,376 1523.7,376.1 1524.5,376.3 1525.2,376.4 1526,376.5 1526.8,376.6 1527.5,376.7 1528.3,376.8 1529.1,376.8 1529.9,376.9 1530.6,376.9 1531.4,377 1532.2,377 1532.9,377.1 1533.7,377.1 1534.5,377.1 1535.2,377.2 1536,377.2 1536.8,377.3 1537.5,377.3 1538.3,377.4 1539.1,377.4 1539.9,377.5 1540.6,377.5 1541.4,377.5 1542.2,377.6 1542.9,377.6 1543.7,377.7 1544.5,377.7 1545.2,377.8 1546,377.8 1546.8,377.9 1547.5,377.9 1548.3,377.9 1549.1,378 1549.9,378 1550.6,378.1 1551.4,378.1 1552.2,378.2 1552.9,378.2 1553.7,378.3 1554.5,378.3 1555.2,378.4 1556,378.4 1556.8,378.4 1557.5,378.5 1558.3,378.5 1559.1,378.7 1559.9,379 1560.6,379.4 1561.4,379.8 1562.2,380.1 1562.9,380.5 1563.7,380.9 1564.5,381.3 1565.2,381.6 1566,382 1566.8,382.4 1567.5,382.7 1568.3,383.1 1569.1,383.5 1569.8,383.8 1570.6,384.2 1571.4,384.6 1572.2,385 1572.9,385.3 1573.7,385.4 1574.5,385.6 1575.2,385.7 1576,385.9 1576.8,386 1577.5,386.2 1578.3,386.3 1579.1,386.5 1579.8,386.6 1580.6,386.8 1581.4,387 1582.2,387.1 1582.9,387.3 1583.7,387.4 1584.5,387.6 1585.2,387.7 1586,387.9 1586,390.7 1163,390.7" fill="url(#gsol)" stroke="#0b1520" stroke-width="0.8" stroke-linejoin="round"/><line x1="1251.4" y1="148" x2="1251.4" y2="261.3" stroke="#111" stroke-width="1" /><polyline points="1163,40.8 1163.8,40.3 1164.5,40 1165.3,39.9 1166.1,39.7 1166.8,39.7 1167.6,39.1 1168.4,39 1169.2,39.1 1169.9,38.9 1170.7,38.6 1171.5,38.8 1172.2,38.6 1173,38.4 1173.8,38.3 1174.5,38.1 1175.3,38.3 1176.1,38 1176.8,38.1 1177.6,37.8 1178.4,37.8 1179.2,37.6 1179.9,37.9 1180.7,37.6 1181.5,37.4 1182.2,37.3 1183,37.3 1183.8,36.9 1184.5,37.4 1185.3,37.2 1186.1,36.9 1186.8,37.2 1187.6,37 1188.4,37 1189.1,36.7 1189.9,36.8 1190.7,36.7 1191.5,36.7 1192.2,37 1193,36.7 1193.8,36.8 1194.5,36.6 1195.3,37 1196.1,36.6 1196.8,36.5 1197.6,36.4 1198.4,36.7 1199.1,36.8 1199.9,36.5 1200.7,36.6 1201.5,36.8 1202.2,36.5 1203,36.6 1203.8,36.6 1204.5,36.6 1205.3,36.5 1206.1,36.4 1206.8,36.5 1207.6,36.5 1208.4,36.6 1209.1,36.3 1209.9,36.1 1210.7,36.3 1211.5,36.6 1212.2,36.4 1213,36.3 1213.8,36.3 1214.5,36.2 1215.3,36.4 1216.1,36.5 1216.8,36.6 1217.6,36.4 1218.4,36.5 1219.1,36.7 1219.9,36.6 1220.7,36.4 1221.5,36.5 1222.2,36.5 1223,36.5 1223.8,36.2 1224.5,36.6 1225.3,36.5 1226.1,36.2 1226.8,36.3 1227.6,36.3 1228.4,36.4 1229.1,36.4 1229.9,36.5 1230.7,36.7 1231.4,36.3 1232.2,36.2 1233,36.6 1233.8,36.4 1234.5,36.4 1235.3,36 1236.1,36.6 1236.8,36.6 1237.6,36.3 1238.4,36.3 1239.1,36.2 1239.9,36.3 1240.7,36.5 1241.4,36.3 1242.2,36 1243,36.4 1243.8,36.2 1244.5,36.3 1245.3,36.3 1246.1,36.7 1246.8,36.1 1247.6,36 1248.4,36.3 1249.1,36.3 1249.9,36.4 1250.7,36 1251.4,36.3 1252.2,36.1 1253,36.3 1253.8,36 1254.5,36.5 1255.3,36.2 1256.1,36.4 1256.8,36.2 1257.6,36.3 1258.4,36.4 1259.1,36.1 1259.9,36.3 1260.7,36.2 1261.4,36.4 1262.2,36.1 1263,36 1263.8,36.1 1264.5,36.2 1265.3,36 1266.1,36 1266.8,35.8 1267.6,36.3 1268.4,36 1269.1,35.6 1269.9,35.8 1270.7,35.5 1271.4,35 1272.2,34.7 1273,34.4 1273.7,34.3 1274.5,34.1 1275.3,34.2 1276.1,33.9 1276.8,34.1 1277.6,34.1 1278.4,34.2 1279.1,33.9 1279.9,34.1 1280.7,34.2 1281.4,34.3 1282.2,34.7 1283,34.2 1283.7,34.2 1284.5,34.2 1285.3,34.4 1286.1,34 1286.8,34.2 1287.6,34.3 1288.4,33.9 1289.1,34.4 1289.9,34.3 1290.7,34 1291.4,34.2 1292.2,34 1293,34 1293.7,34 1294.5,34.2 1295.3,34 1296.1,34.1 1296.8,34.2 1297.6,34 1298.4,34.4 1299.1,34.3 1299.9,33.9 1300.7,34.3 1301.4,34.2 1302.2,34 1303,34.5 1303.7,34.4 1304.5,34.2 1305.3,34.1 1306.1,34.1 1306.8,34.2 1307.6,34.1 1308.4,34.1 1309.1,34.2 1309.9,34.1 1310.7,34.3 1311.4,34 1312.2,33.9 1313,34.3 1313.7,33.9 1314.5,34.1 1315.3,34.4 1316,34.1 1316.8,33.8 1317.6,34.4 1318.4,34.1 1319.1,34 1319.9,34.2 1320.7,34.2 1321.4,34.3 1322.2,34.2 1323,34.2 1323.7,33.9 1324.5,34 1325.3,34 1326,34 1326.8,34 1327.6,34.1 1328.4,34.1 1329.1,34.2 1329.9,34 1330.7,34.1 1331.4,34 1332.2,34.3 1333,34.1 1333.7,34.1 1334.5,34 1335.3,34 1336,34.2 1336.8,34.3 1337.6,33.9 1338.4,34.1 1339.1,34.1 1339.9,34.1 1340.7,34 1341.4,34.2 1342.2,34 1343,34.2 1343.7,34.2 1344.5,34.2 1345.3,34.2 1346,34 1346.8,34.1 1347.6,34.1 1348.4,33.8 1349.1,34.2 1349.9,34 1350.7,34.2 1351.4,34.1 1352.2,34.2 1353,34.1 1353.7,34.1 1354.5,33.9 1355.3,34 1356,34.1 1356.8,34 1357.6,34.1 1358.3,34.2 1359.1,34.2 1359.9,34.1 1360.7,33.9 1361.4,34 1362.2,34.1 1363,34.3 1363.7,34.3 1364.5,33.8 1365.3,34.1 1366,34.4 1366.8,34.1 1367.6,34.2 1368.3,34.1 1369.1,33.9 1369.9,34.2 1370.7,34.1 1371.4,34.3 1372.2,34.1 1373,34 1373.7,34.3 1374.5,34.3 1375.3,34.1 1376,34 1376.8,33.8 1377.6,34 1378.3,34.1 1379.1,34 1379.9,33.8 1380.7,33.9 1381.4,34 1382.2,34 1383,34.2 1383.7,33.9 1384.5,33.7 1385.3,34.1 1386,34.2 1386.8,34.1 1387.6,34.1 1388.3,34 1389.1,34.1 1389.9,34.1 1390.7,34.2 1391.4,34.1 1392.2,34.1 1393,33.8 1393.7,34 1394.5,34.1 1395.3,34 1396,34.3 1396.8,34 1397.6,34.1 1398.3,33.9 1399.1,34.2 1399.9,33.9 1400.6,33.8 1401.4,33.9 1402.2,33.9 1403,34.1 1403.7,34 1404.5,33.9 1405.3,34 1406,34.5 1406.8,33.9 1407.6,34 1408.3,34.1 1409.1,34.1 1409.9,34.1 1410.6,33.9 1411.4,33.8 1412.2,34.1 1413,34 1413.7,34 1414.5,34.1 1415.3,34.3 1416,34 1416.8,33.7 1417.6,34 1418.3,34 1419.1,33.5 1419.9,34 1420.6,33.8 1421.4,34.1 1422.2,33.7 1423,34.2 1423.7,34 1424.5,34.3 1425.3,34 1426,34 1426.8,34.2 1427.6,34.2 1428.3,33.9 1429.1,34.1 1429.9,34.2 1430.6,34 1431.4,33.9 1432.2,34.5 1433,34.2 1433.7,33.8 1434.5,33.7 1435.3,34.1 1436,33.9 1436.8,33.9 1437.6,34 1438.3,33.9 1439.1,33.9 1439.9,34.1 1440.6,34.3 1441.4,34.1 1442.2,34.1 1442.9,33.8 1443.7,33.8 1444.5,33.9 1445.3,33.9 1446,33.9 1446.8,33.7 1447.6,34.1 1448.3,34 1449.1,34.2 1449.9,34 1450.6,34.1 1451.4,33.9 1452.2,33.7 1452.9,34.3 1453.7,34 1454.5,34.2 1455.3,34.2 1456,33.7 1456.8,34.1 1457.6,34 1458.3,33.7 1459.1,33.8 1459.9,34.1 1460.6,34.1 1461.4,34.2 1462.2,33.9 1462.9,33.9 1463.7,34.2 1464.5,33.8 1465.3,34.1 1466,33.8 1466.8,34.1 1467.6,34 1468.3,34.2 1469.1,34.1 1469.9,34.2 1470.6,34.1 1471.4,33.9 1472.2,33.9 1472.9,34.2 1473.7,33.9 1474.5,33.8 1475.3,34.1 1476,33.9 1476.8,34.2 1477.6,34 1478.3,34.1 1479.1,34.2 1479.9,34 1480.6,33.9 1481.4,33.9 1482.2,33.9 1482.9,34 1483.7,34 1484.5,34.2 1485.2,33.5 1486,34 1486.8,33.8 1487.6,34.2 1488.3,33.8 1489.1,34 1489.9,33.9 1490.6,33.7 1491.4,33.7 1492.2,33.9 1492.9,33.7 1493.7,34 1494.5,34.4 1495.2,34.4 1496,34 1496.8,34 1497.6,33.8 1498.3,33.9 1499.1,34 1499.9,34.3 1500.6,34.3 1501.4,34.1 1502.2,33.7 1502.9,34.1 1503.7,34.1 1504.5,34.3 1505.2,33.7 1506,33.6 1506.8,33.6 1507.6,34.1 1508.3,33.6 1509.1,34.3 1509.9,34.1 1510.6,34.3 1511.4,33.8 1512.2,33.8 1512.9,34.1 1513.7,33.8 1514.5,33.1 1515.2,33.5 1516,33.6 1516.8,33 1517.6,32.9 1518.3,33 1519.1,33.6 1519.9,33.3 1520.6,33.6 1521.4,33.9 1522.2,34.1 1522.9,34.3 1523.7,33.5 1524.5,33.6 1525.2,33.8 1526,34.7 1526.8,34.7 1527.5,34 1528.3,33 1529.1,32.5 1529.9,32.3 1530.6,32.2 1531.4,33.9 1532.2,34 1532.9,33.9 1533.7,33.1 1534.5,33.3 1535.2,33.6 1536,33.9 1536.8,33.9 1537.5,33.7 1538.3,33.8 1539.1,33.7 1539.9,34.3 1540.6,33.7 1541.4,34.4 1542.2,33.3 1542.9,32.9 1543.7,31.7 1544.5,32.2 1545.2,32.5 1546,32.8 1546.8,33.2 1547.5,33.5 1548.3,32 1549.1,31.6 1549.9,30.6 1550.6,32.4 1551.4,33.1 1552.2,34.2 1552.9,33.2 1553.7,34 1554.5,34.2 1555.2,33.9 1556,33.5 1556.8,32.3 1557.5,32 1558.3,32.4 1559.1,32.9 1559.9,32.7 1560.6,32.4 1561.4,33.9 1562.2,35.3 1562.9,34.8 1563.7,34.6 1564.5,34.1 1565.2,34.1 1566,34.1 1566.8,34.7 1567.5,33.4 1568.3,33.8 1569.1,32.7 1569.8,35.1 1570.6,33.3 1571.4,33.1 1572.2,31.8 1572.9,32 1573.7,33 1574.5,32.9 1575.2,34.6 1576,33.3 1576.8,32.4 1577.5,31.8 1578.3,30.6 1579.1,29.1 1579.8,28.1 1580.6,27 1581.4,28 1582.2,27.6 1582.9,31.2 1583.7,33.2 1584.5,36 1585.2,33.7 1586,32.5" fill="none" stroke="#4a4a4a" stroke-width="1.3" stroke-linejoin="round" /><polyline points="1163,37.9 1163.8,37.8 1164.5,37.6 1165.3,37.5 1166.1,37.5 1166.8,37.5 1167.6,37.1 1168.4,36.8 1169.2,37 1169.9,36.9 1170.7,36.6 1171.5,36.8 1172.2,36.3 1173,36.6 1173.8,36.3 1174.5,36.5 1175.3,36.3 1176.1,36.2 1176.8,36.3 1177.6,35.8 1178.4,36 1179.2,35.9 1179.9,35.9 1180.7,35.8 1181.5,35.6 1182.2,35.7 1183,35.8 1183.8,35.5 1184.5,35.6 1185.3,35.6 1186.1,35.6 1186.8,35.6 1187.6,35.6 1188.4,35.6 1189.1,35.6 1189.9,35.1 1190.7,35.4 1191.5,35.7 1192.2,35.5 1193,35.4 1193.8,35.4 1194.5,35.3 1195.3,35.3 1196.1,35 1196.8,35.2 1197.6,35.1 1198.4,35.2 1199.1,35.3 1199.9,35.2 1200.7,35.1 1201.5,34.9 1202.2,34.9 1203,35 1203.8,35.3 1204.5,35 1205.3,35.3 1206.1,35.2 1206.8,35 1207.6,35.4 1208.4,35.1 1209.1,35.2 1209.9,35.1 1210.7,35.1 1211.5,35.1 1212.2,35.1 1213,35.2 1213.8,35.1 1214.5,35.1 1215.3,35.2 1216.1,35.2 1216.8,35.1 1217.6,35.2 1218.4,35 1219.1,35.2 1219.9,35.2 1220.7,35.2 1221.5,35.2 1222.2,35 1223,35.5 1223.8,35.1 1224.5,35.1 1225.3,35.2 1226.1,35 1226.8,35.1 1227.6,35 1228.4,35.1 1229.1,35 1229.9,35 1230.7,35.1 1231.4,35 1232.2,35.3 1233,34.9 1233.8,34.9 1234.5,35 1235.3,35.2 1236.1,35.2 1236.8,35.2 1237.6,35.1 1238.4,35 1239.1,34.9 1239.9,35.3 1240.7,35 1241.4,35 1242.2,35 1243,35.1 1243.8,35 1244.5,34.9 1245.3,35.2 1246.1,34.6 1246.8,34.9 1247.6,34.9 1248.4,35.2 1249.1,35.2 1249.9,35 1250.7,34.6 1251.4,34.9 1252.2,34.8 1253,34.8 1253.8,34.8 1254.5,35 1255.3,35 1256.1,34.9 1256.8,34.9 1257.6,34.9 1258.4,34.7 1259.1,34.9 1259.9,35 1260.7,34.9 1261.4,35.1 1262.2,34.7 1263,34.8 1263.8,35 1264.5,34.9 1265.3,34.7 1266.1,34.5 1266.8,34.9 1267.6,34.8 1268.4,35.1 1269.1,35 1269.9,34.2 1270.7,34.1 1271.4,33.8 1272.2,33.2 1273,33 1273.7,32.5 1274.5,32.7 1275.3,32.2 1276.1,32.8 1276.8,32.4 1277.6,32.6 1278.4,32.8 1279.1,32.7 1279.9,32.3 1280.7,32.4 1281.4,32.6 1282.2,32.6 1283,32.8 1283.7,32.6 1284.5,32.6 1285.3,32.4 1286.1,32.4 1286.8,32.6 1287.6,32.8 1288.4,32.5 1289.1,32.5 1289.9,32.4 1290.7,32.4 1291.4,32.4 1292.2,32.7 1293,32.3 1293.7,32.3 1294.5,32.2 1295.3,32.5 1296.1,32.7 1296.8,32.3 1297.6,32.4 1298.4,32.7 1299.1,32.5 1299.9,32.4 1300.7,32.4 1301.4,32.2 1302.2,32.7 1303,32.5 1303.7,32.8 1304.5,32.7 1305.3,32.7 1306.1,32.6 1306.8,32.7 1307.6,32.5 1308.4,32.5 1309.1,32.3 1309.9,32.4 1310.7,32.5 1311.4,32.2 1312.2,32.6 1313,32.4 1313.7,32.8 1314.5,32.4 1315.3,32.4 1316,32.8 1316.8,32.8 1317.6,32.4 1318.4,32.2 1319.1,32.4 1319.9,32.9 1320.7,32.8 1321.4,32.3 1322.2,32.4 1323,32.7 1323.7,32.5 1324.5,32.5 1325.3,32.5 1326,32.7 1326.8,32.3 1327.6,32.6 1328.4,32.6 1329.1,32.7 1329.9,32.6 1330.7,32.4 1331.4,32.7 1332.2,32.4 1333,32.7 1333.7,32.5 1334.5,32.3 1335.3,32.6 1336,32.5 1336.8,32.7 1337.6,32.6 1338.4,32.4 1339.1,32.6 1339.9,32.3 1340.7,32.7 1341.4,32.4 1342.2,32.4 1343,32.2 1343.7,32.4 1344.5,32.3 1345.3,32.6 1346,32.5 1346.8,32.6 1347.6,32.6 1348.4,32.4 1349.1,32.4 1349.9,32.6 1350.7,32.7 1351.4,32.7 1352.2,32.6 1353,32.5 1353.7,32.8 1354.5,32.4 1355.3,32.5 1356,32.4 1356.8,32.7 1357.6,32.7 1358.3,32.6 1359.1,32.3 1359.9,32.4 1360.7,32.5 1361.4,32.6 1362.2,32.6 1363,32.5 1363.7,32.5 1364.5,32.6 1365.3,32.7 1366,32.4 1366.8,32.7 1367.6,32.8 1368.3,32.7 1369.1,32.6 1369.9,32.5 1370.7,32.4 1371.4,32.6 1372.2,32.2 1373,32.4 1373.7,32.5 1374.5,32.6 1375.3,32.8 1376,32.5 1376.8,32.3 1377.6,32.4 1378.3,32.5 1379.1,32.5 1379.9,32.4 1380.7,32.5 1381.4,32.5 1382.2,32.7 1383,32.3 1383.7,32.6 1384.5,32.6 1385.3,32.5 1386,32.5 1386.8,32.7 1387.6,32.7 1388.3,32.5 1389.1,32.9 1389.9,32.7 1390.7,32.5 1391.4,32.5 1392.2,32.8 1393,32.3 1393.7,32.7 1394.5,32.7 1395.3,32.4 1396,32.6 1396.8,32.5 1397.6,32.2 1398.3,32.5 1399.1,32.3 1399.9,32.7 1400.6,32.8 1401.4,32.7 1402.2,32.5 1403,32.6 1403.7,32.6 1404.5,32.8 1405.3,32.4 1406,32.4 1406.8,32.5 1407.6,32.7 1408.3,32.6 1409.1,32.5 1409.9,32.8 1410.6,32.4 1411.4,32.5 1412.2,32.7 1413,32.5 1413.7,32.6 1414.5,32.7 1415.3,32.2 1416,32.3 1416.8,32.7 1417.6,32.4 1418.3,32.8 1419.1,32.6 1419.9,32.7 1420.6,32.5 1421.4,32.6 1422.2,32.5 1423,32.5 1423.7,32.6 1424.5,32.6 1425.3,32.4 1426,32.5 1426.8,32.4 1427.6,32.5 1428.3,32.8 1429.1,32.3 1429.9,32.5 1430.6,32.7 1431.4,32.4 1432.2,32.5 1433,32.5 1433.7,32.5 1434.5,32.9 1435.3,32.5 1436,32.5 1436.8,32.7 1437.6,32.3 1438.3,32.6 1439.1,32.6 1439.9,32.7 1440.6,32.3 1441.4,32.6 1442.2,32.4 1442.9,32.4 1443.7,32.6 1444.5,32.2 1445.3,32.6 1446,32.5 1446.8,32.6 1447.6,32.7 1448.3,32.7 1449.1,32.5 1449.9,32.5 1450.6,32.4 1451.4,32.6 1452.2,32.5 1452.9,32.5 1453.7,32.6 1454.5,32.7 1455.3,32.5 1456,32.5 1456.8,32.5 1457.6,32.7 1458.3,32.9 1459.1,32.5 1459.9,32.3 1460.6,32.6 1461.4,32.4 1462.2,32.4 1462.9,32.6 1463.7,32.8 1464.5,32.5 1465.3,32.5 1466,32.5 1466.8,32.5 1467.6,32.4 1468.3,32.4 1469.1,32.4 1469.9,32.8 1470.6,32.7 1471.4,32.4 1472.2,32.6 1472.9,32.7 1473.7,32.4 1474.5,32.5 1475.3,32.8 1476,32.4 1476.8,32.5 1477.6,32.6 1478.3,32.6 1479.1,32.6 1479.9,32.7 1480.6,32.6 1481.4,32.8 1482.2,32.8 1482.9,32.4 1483.7,32.7 1484.5,32.8 1485.2,32.5 1486,32.5 1486.8,32.6 1487.6,32.4 1488.3,32.8 1489.1,32.5 1489.9,32.2 1490.6,32.5 1491.4,32.3 1492.2,32.4 1492.9,32.4 1493.7,32.6 1494.5,32.6 1495.2,32.4 1496,32.6 1496.8,32.7 1497.6,32.6 1498.3,32.2 1499.1,32.8 1499.9,32.3 1500.6,33 1501.4,32.7 1502.2,32.9 1502.9,32.5 1503.7,32.1 1504.5,32.4 1505.2,32.2 1506,32.4 1506.8,32.2 1507.6,32.1 1508.3,33 1509.1,32.7 1509.9,32.9 1510.6,32.2 1511.4,32.6 1512.2,32.6 1512.9,32 1513.7,31.4 1514.5,31.9 1515.2,31.7 1516,31.7 1516.8,31.3 1517.6,31.7 1518.3,31.7 1519.1,33 1519.9,33.5 1520.6,33.8 1521.4,32.6 1522.2,33 1522.9,32.9 1523.7,31.8 1524.5,32.1 1525.2,32.2 1526,32.1 1526.8,32.2 1527.5,32.2 1528.3,32.3 1529.1,31.3 1529.9,31 1530.6,31.3 1531.4,32.4 1532.2,32.2 1532.9,31.4 1533.7,31.8 1534.5,31.9 1535.2,32 1536,30.8 1536.8,31.3 1537.5,30.6 1538.3,32 1539.1,30.9 1539.9,31.2 1540.6,30.1 1541.4,31.9 1542.2,31.5 1542.9,31.4 1543.7,31.1 1544.5,31.2 1545.2,31.7 1546,32.6 1546.8,32.7 1547.5,31.9 1548.3,30.7 1549.1,31 1549.9,32.6 1550.6,31.8 1551.4,30.8 1552.2,30.6 1552.9,31.7 1553.7,31.8 1554.5,31 1555.2,30.2 1556,32.2 1556.8,31.4 1557.5,30.3 1558.3,29.3 1559.1,30 1559.9,30 1560.6,30 1561.4,28.2 1562.2,29.4 1562.9,29.5 1563.7,29.9 1564.5,31.2 1565.2,32.4 1566,32 1566.8,31.6 1567.5,30.2 1568.3,33.7 1569.1,32.2 1569.8,34.4 1570.6,30.1 1571.4,30.6 1572.2,30.5 1572.9,32 1573.7,32.8 1574.5,33.5 1575.2,32.9 1576,31.7 1576.8,29.4 1577.5,26.7 1578.3,29.3 1579.1,28.7 1579.8,31.2 1580.6,30.1 1581.4,32.2 1582.2,35.5 1582.9,35.3 1583.7,34.1 1584.5,29.7 1585.2,30.3 1586,30.1" fill="none" stroke="#f04141" stroke-width="2.2" stroke-linejoin="round" /><polyline points="1163,37.4 1163.8,36.9 1164.5,36.9 1165.3,37.1 1166.1,37 1166.8,36.5 1167.6,36.6 1168.4,36.5 1169.2,36.5 1169.9,36.2 1170.7,36.3 1171.5,36.1 1172.2,35.9 1173,35.8 1173.8,36.1 1174.5,35.7 1175.3,35.8 1176.1,35.7 1176.8,35.8 1177.6,35.6 1178.4,35.3 1179.2,35.3 1179.9,35.2 1180.7,35.5 1181.5,35 1182.2,35.3 1183,35.4 1183.8,35.1 1184.5,35.1 1185.3,35.4 1186.1,35.2 1186.8,35.1 1187.6,34.9 1188.4,35 1189.1,35.3 1189.9,35 1190.7,34.9 1191.5,35.1 1192.2,35.2 1193,35 1193.8,34.9 1194.5,34.7 1195.3,34.9 1196.1,35.1 1196.8,34.8 1197.6,34.7 1198.4,34.7 1199.1,35 1199.9,34.8 1200.7,34.7 1201.5,34.8 1202.2,34.9 1203,35 1203.8,34.7 1204.5,34.6 1205.3,34.7 1206.1,34.9 1206.8,34.9 1207.6,35 1208.4,34.9 1209.1,34.7 1209.9,34.6 1210.7,34.9 1211.5,34.6 1212.2,34.8 1213,34.7 1213.8,34.9 1214.5,34.7 1215.3,34.7 1216.1,34.4 1216.8,34.7 1217.6,34.7 1218.4,34.9 1219.1,34.5 1219.9,34.9 1220.7,34.7 1221.5,34.9 1222.2,34.8 1223,34.9 1223.8,34.9 1224.5,35 1225.3,35 1226.1,34.5 1226.8,34.9 1227.6,34.6 1228.4,34.6 1229.1,35 1229.9,34.7 1230.7,35 1231.4,34.8 1232.2,34.6 1233,35.1 1233.8,34.7 1234.5,35 1235.3,34.6 1236.1,34.7 1236.8,35.1 1237.6,34.8 1238.4,34.6 1239.1,34.8 1239.9,34.8 1240.7,34.6 1241.4,34.6 1242.2,34.9 1243,34.6 1243.8,34.8 1244.5,34.9 1245.3,34.9 1246.1,34.5 1246.8,34.6 1247.6,34.8 1248.4,34.8 1249.1,34.8 1249.9,34.5 1250.7,34.7 1251.4,34.5 1252.2,34.6 1253,34.7 1253.8,34.6 1254.5,35 1255.3,34.5 1256.1,34.8 1256.8,34.6 1257.6,34.5 1258.4,34.7 1259.1,34.6 1259.9,34.7 1260.7,34.6 1261.4,34.7 1262.2,34.8 1263,34.8 1263.8,34.7 1264.5,34.4 1265.3,34.6 1266.1,34.7 1266.8,34.3 1267.6,34.5 1268.4,34.5 1269.1,34.7 1269.9,34.4 1270.7,34.4 1271.4,34.1 1272.2,34 1273,33.8 1273.7,33.4 1274.5,33.2 1275.3,33.4 1276.1,33.3 1276.8,33.4 1277.6,33.3 1278.4,33.3 1279.1,33.3 1279.9,33.4 1280.7,33.2 1281.4,33.2 1282.2,33.3 1283,33.4 1283.7,33.2 1284.5,33.2 1285.3,33.5 1286.1,33.4 1286.8,33.3 1287.6,33.3 1288.4,33.3 1289.1,33 1289.9,33 1290.7,33.1 1291.4,33.4 1292.2,32.8 1293,33.3 1293.7,33.1 1294.5,33 1295.3,33.3 1296.1,33.4 1296.8,33.2 1297.6,33.1 1298.4,33.4 1299.1,33.4 1299.9,33.3 1300.7,33.3 1301.4,33.3 1302.2,33.3 1303,33.2 1303.7,33.2 1304.5,33.2 1305.3,33.1 1306.1,33.1 1306.8,33.2 1307.6,33.2 1308.4,33.2 1309.1,33.1 1309.9,33.3 1310.7,33.1 1311.4,33.4 1312.2,33.3 1313,33.1 1313.7,33 1314.5,33.3 1315.3,33.1 1316,33.2 1316.8,33.1 1317.6,33.2 1318.4,33.2 1319.1,33.2 1319.9,33.4 1320.7,33.3 1321.4,33.4 1322.2,33.1 1323,33.1 1323.7,33.3 1324.5,33.2 1325.3,33.2 1326,33.1 1326.8,33.2 1327.6,33.2 1328.4,33.3 1329.1,33 1329.9,32.9 1330.7,33.2 1331.4,33.2 1332.2,33.3 1333,32.9 1333.7,33.2 1334.5,33.1 1335.3,33.2 1336,33.2 1336.8,33.1 1337.6,33.2 1338.4,33.1 1339.1,33.3 1339.9,33.3 1340.7,33.1 1341.4,33.1 1342.2,33.2 1343,33.1 1343.7,33.2 1344.5,32.9 1345.3,33.1 1346,33.3 1346.8,33.2 1347.6,33.1 1348.4,33.2 1349.1,33.2 1349.9,33.3 1350.7,33 1351.4,33 1352.2,32.9 1353,33.4 1353.7,33 1354.5,32.9 1355.3,33.3 1356,33.1 1356.8,33 1357.6,33.2 1358.3,32.9 1359.1,32.7 1359.9,33.1 1360.7,33.2 1361.4,33 1362.2,32.8 1363,33.2 1363.7,32.9 1364.5,33.3 1365.3,33.2 1366,33.1 1366.8,33.3 1367.6,33.1 1368.3,33 1369.1,33.1 1369.9,33.3 1370.7,32.9 1371.4,32.9 1372.2,33.1 1373,33 1373.7,33.1 1374.5,33.1 1375.3,33 1376,33.1 1376.8,32.9 1377.6,32.9 1378.3,33 1379.1,33.1 1379.9,33 1380.7,32.8 1381.4,33.1 1382.2,33 1383,33.1 1383.7,33.2 1384.5,32.9 1385.3,33.2 1386,32.8 1386.8,33.2 1387.6,33 1388.3,33.3 1389.1,33.1 1389.9,32.9 1390.7,32.9 1391.4,33.2 1392.2,33 1393,33.2 1393.7,33 1394.5,33 1395.3,33.2 1396,33.1 1396.8,33.2 1397.6,33.2 1398.3,33.2 1399.1,32.9 1399.9,33.2 1400.6,33.1 1401.4,33.1 1402.2,33 1403,32.9 1403.7,32.7 1404.5,32.8 1405.3,33.1 1406,33 1406.8,33.1 1407.6,33 1408.3,32.9 1409.1,32.9 1409.9,33.1 1410.6,33 1411.4,33.1 1412.2,32.8 1413,32.9 1413.7,33.2 1414.5,32.9 1415.3,33.3 1416,33.3 1416.8,32.8 1417.6,32.9 1418.3,33 1419.1,33.1 1419.9,33.1 1420.6,33 1421.4,33 1422.2,33.2 1423,32.6 1423.7,32.9 1424.5,32.9 1425.3,33.2 1426,33 1426.8,33 1427.6,33.1 1428.3,32.9 1429.1,32.9 1429.9,33.2 1430.6,32.9 1431.4,33 1432.2,32.9 1433,32.9 1433.7,33 1434.5,32.8 1435.3,33.1 1436,33 1436.8,33.1 1437.6,33.4 1438.3,33 1439.1,33 1439.9,33.1 1440.6,32.9 1441.4,33.1 1442.2,33.1 1442.9,32.8 1443.7,32.8 1444.5,33 1445.3,32.9 1446,32.9 1446.8,32.9 1447.6,33.1 1448.3,33 1449.1,32.9 1449.9,32.9 1450.6,33 1451.4,33.1 1452.2,33 1452.9,33 1453.7,32.9 1454.5,32.9 1455.3,33 1456,33.1 1456.8,33 1457.6,32.8 1458.3,32.8 1459.1,33.2 1459.9,32.9 1460.6,33 1461.4,33.1 1462.2,32.8 1462.9,32.8 1463.7,33.1 1464.5,33 1465.3,33 1466,32.9 1466.8,33.1 1467.6,33 1468.3,32.8 1469.1,33.1 1469.9,32.8 1470.6,32.9 1471.4,32.9 1472.2,33 1472.9,32.9 1473.7,32.9 1474.5,32.8 1475.3,32.8 1476,32.8 1476.8,32.9 1477.6,33 1478.3,32.9 1479.1,32.9 1479.9,33 1480.6,33 1481.4,32.8 1482.2,32.7 1482.9,32.9 1483.7,32.9 1484.5,32.8 1485.2,32.9 1486,32.8 1486.8,32.8 1487.6,32.8 1488.3,32.7 1489.1,32.9 1489.9,32.9 1490.6,33.1 1491.4,33 1492.2,33 1492.9,33 1493.7,33.1 1494.5,33 1495.2,32.6 1496,33 1496.8,33 1497.6,32.9 1498.3,32.6 1499.1,32.6 1499.9,32.9 1500.6,33.2 1501.4,33.3 1502.2,33.6 1502.9,33.6 1503.7,33.3 1504.5,33 1505.2,32.3 1506,32.8 1506.8,32.4 1507.6,32.4 1508.3,32.7 1509.1,32.7 1509.9,33 1510.6,32.4 1511.4,32.1 1512.2,32.6 1512.9,32.7 1513.7,32.7 1514.5,32.6 1515.2,32.4 1516,32.2 1516.8,32.6 1517.6,33 1518.3,33.5 1519.1,33.1 1519.9,32.8 1520.6,32.6 1521.4,32.5 1522.2,33.3 1522.9,33 1523.7,33.2 1524.5,32.7 1525.2,32.3 1526,31.8 1526.8,32.2 1527.5,32.5 1528.3,33.4 1529.1,33.3 1529.9,32.7 1530.6,31.6 1531.4,30.4 1532.2,31.4 1532.9,32 1533.7,34.8 1534.5,34.6 1535.2,33.4 1536,32.9 1536.8,32.2 1537.5,32.8 1538.3,32 1539.1,32.6 1539.9,32.6 1540.6,33.8 1541.4,33.5 1542.2,33.4 1542.9,33.3 1543.7,32.9 1544.5,32.8 1545.2,32.5 1546,31.9 1546.8,33.5 1547.5,32.7 1548.3,32.9 1549.1,30.5 1549.9,31.3 1550.6,33 1551.4,33.7 1552.2,32.2 1552.9,31.7 1553.7,32.9 1554.5,33.9 1555.2,32.8 1556,32 1556.8,32.2 1557.5,32 1558.3,33 1559.1,32.8 1559.9,33.6 1560.6,30.7 1561.4,30 1562.2,29.9 1562.9,31.8 1563.7,31.8 1564.5,32.7 1565.2,30.9 1566,30.4 1566.8,30.6 1567.5,34.3 1568.3,36.2 1569.1,34.2 1569.8,32.5 1570.6,30.8 1571.4,34.3 1572.2,34.4 1572.9,35.8 1573.7,34.1 1574.5,34.2 1575.2,34.6 1576,35.4 1576.8,34.7 1577.5,33.9 1578.3,32.5 1579.1,30.8 1579.8,30.3 1580.6,30.7 1581.4,31.9 1582.2,31.5 1582.9,29.9 1583.7,29.3 1584.5,30.2 1585.2,29.4 1586,30.2" fill="none" stroke="#1b6fde" stroke-width="2.2" stroke-linejoin="round" /><polyline points="1163,43.5 1163.8,43.2 1164.5,42.8 1165.3,42.7 1166.1,42.7 1166.8,42.4 1167.6,42.3 1168.4,42.2 1169.2,41.9 1169.9,41.7 1170.7,41.4 1171.5,41.7 1172.2,41.3 1173,41.1 1173.8,40.9 1174.5,40.7 1175.3,40.4 1176.1,40.4 1176.8,40.1 1177.6,40.2 1178.4,40.1 1179.2,39.8 1179.9,40.1 1180.7,39.7 1181.5,39.7 1182.2,39.7 1183,39.9 1183.8,39.7 1184.5,40.1 1185.3,39.6 1186.1,39.8 1186.8,39.4 1187.6,39.4 1188.4,39.5 1189.1,39.4 1189.9,39.3 1190.7,39.5 1191.5,39.5 1192.2,39 1193,39.4 1193.8,39.4 1194.5,39.1 1195.3,39 1196.1,38.9 1196.8,39.3 1197.6,39 1198.4,39.1 1199.1,39.1 1199.9,39.1 1200.7,39.1 1201.5,38.9 1202.2,39 1203,39 1203.8,38.9 1204.5,39.1 1205.3,38.9 1206.1,39 1206.8,39 1207.6,38.7 1208.4,38.8 1209.1,38.8 1209.9,38.9 1210.7,38.8 1211.5,39 1212.2,38.9 1213,39 1213.8,38.7 1214.5,38.8 1215.3,38.9 1216.1,38.9 1216.8,38.9 1217.6,38.8 1218.4,38.9 1219.1,38.9 1219.9,39 1220.7,38.7 1221.5,38.8 1222.2,39.1 1223,38.9 1223.8,38.8 1224.5,38.8 1225.3,38.9 1226.1,38.8 1226.8,39.1 1227.6,38.9 1228.4,38.5 1229.1,38.7 1229.9,38.7 1230.7,38.8 1231.4,38.9 1232.2,39.1 1233,38.8 1233.8,38.7 1234.5,38.8 1235.3,39 1236.1,38.8 1236.8,38.7 1237.6,38.6 1238.4,38.9 1239.1,39 1239.9,38.7 1240.7,38.5 1241.4,38.8 1242.2,38.8 1243,38.6 1243.8,38.6 1244.5,38.5 1245.3,38.7 1246.1,38.7 1246.8,38.6 1247.6,38.5 1248.4,38.7 1249.1,38.5 1249.9,38.8 1250.7,38.8 1251.4,38.6 1252.2,38.5 1253,38.8 1253.8,38.7 1254.5,38.4 1255.3,38.3 1256.1,38.5 1256.8,38.5 1257.6,38.5 1258.4,38.6 1259.1,38.5 1259.9,38.5 1260.7,38.7 1261.4,38.2 1262.2,38.6 1263,38.4 1263.8,38.3 1264.5,38.4 1265.3,38.4 1266.1,38.4 1266.8,38.4 1267.6,38.5 1268.4,38.2 1269.1,38.3 1269.9,38.1 1270.7,38.3 1271.4,38.2 1272.2,37.7 1273,37.2 1273.7,37.1 1274.5,36.9 1275.3,36.8 1276.1,36.6 1276.8,36.9 1277.6,37.1 1278.4,37.2 1279.1,37.1 1279.9,37 1280.7,37 1281.4,36.7 1282.2,36.8 1283,37.1 1283.7,36.9 1284.5,36.8 1285.3,37 1286.1,36.9 1286.8,37 1287.6,36.8 1288.4,36.9 1289.1,36.8 1289.9,36.8 1290.7,37 1291.4,36.9 1292.2,36.7 1293,36.8 1293.7,36.9 1294.5,37.1 1295.3,37.1 1296.1,37 1296.8,36.9 1297.6,37 1298.4,36.9 1299.1,37 1299.9,36.9 1300.7,36.7 1301.4,37 1302.2,36.9 1303,36.9 1303.7,36.9 1304.5,36.7 1305.3,36.9 1306.1,36.9 1306.8,37.2 1307.6,36.9 1308.4,36.9 1309.1,37 1309.9,36.7 1310.7,36.9 1311.4,36.8 1312.2,36.9 1313,36.7 1313.7,37.1 1314.5,36.5 1315.3,36.7 1316,37.1 1316.8,36.9 1317.6,37 1318.4,36.8 1319.1,37.1 1319.9,37 1320.7,37.1 1321.4,36.6 1322.2,37 1323,37 1323.7,36.9 1324.5,36.8 1325.3,36.8 1326,37.1 1326.8,36.8 1327.6,36.9 1328.4,36.8 1329.1,36.9 1329.9,37.2 1330.7,37.1 1331.4,36.8 1332.2,37 1333,36.7 1333.7,36.7 1334.5,36.9 1335.3,36.9 1336,37.1 1336.8,36.7 1337.6,36.8 1338.4,36.9 1339.1,36.8 1339.9,36.9 1340.7,36.7 1341.4,36.8 1342.2,37.1 1343,36.9 1343.7,37 1344.5,37.2 1345.3,37 1346,36.8 1346.8,36.8 1347.6,36.9 1348.4,36.7 1349.1,36.8 1349.9,37 1350.7,36.9 1351.4,37 1352.2,36.8 1353,36.9 1353.7,37.1 1354.5,36.9 1355.3,36.9 1356,37.3 1356.8,36.8 1357.6,36.7 1358.3,36.5 1359.1,36.8 1359.9,36.7 1360.7,36.7 1361.4,37 1362.2,36.9 1363,36.7 1363.7,36.6 1364.5,36.7 1365.3,36.8 1366,37 1366.8,36.7 1367.6,37 1368.3,37 1369.1,36.8 1369.9,36.5 1370.7,36.9 1371.4,37 1372.2,36.6 1373,37.1 1373.7,36.4 1374.5,36.8 1375.3,36.9 1376,36.6 1376.8,36.6 1377.6,36.6 1378.3,36.8 1379.1,36.8 1379.9,36.6 1380.7,36.9 1381.4,36.7 1382.2,36.7 1383,37 1383.7,36.9 1384.5,36.9 1385.3,36.7 1386,36.9 1386.8,36.8 1387.6,36.8 1388.3,37.1 1389.1,36.9 1389.9,36.8 1390.7,37 1391.4,36.5 1392.2,37 1393,36.7 1393.7,36.6 1394.5,36.9 1395.3,36.5 1396,36.6 1396.8,36.9 1397.6,36.7 1398.3,36.8 1399.1,36.6 1399.9,36.7 1400.6,36.7 1401.4,36.9 1402.2,36.8 1403,37 1403.7,37 1404.5,36.8 1405.3,36.7 1406,37 1406.8,36.9 1407.6,36.9 1408.3,37.1 1409.1,36.9 1409.9,36.6 1410.6,36.7 1411.4,36.6 1412.2,37.1 1413,36.4 1413.7,36.7 1414.5,36.7 1415.3,36.9 1416,36.9 1416.8,36.6 1417.6,36.9 1418.3,36.7 1419.1,37.1 1419.9,36.8 1420.6,36.7 1421.4,36.9 1422.2,36.8 1423,36.9 1423.7,36.9 1424.5,36.9 1425.3,36.7 1426,37 1426.8,36.9 1427.6,36.8 1428.3,36.7 1429.1,37 1429.9,37 1430.6,36.9 1431.4,36.8 1432.2,36.5 1433,36.9 1433.7,36.8 1434.5,36.5 1435.3,36.8 1436,37 1436.8,36.9 1437.6,36.3 1438.3,36.6 1439.1,37 1439.9,36.9 1440.6,36.9 1441.4,36.9 1442.2,36.7 1442.9,36.7 1443.7,36.6 1444.5,36.8 1445.3,36.8 1446,36.7 1446.8,36.7 1447.6,36.7 1448.3,36.8 1449.1,36.5 1449.9,36.7 1450.6,36.8 1451.4,37 1452.2,36.9 1452.9,36.6 1453.7,36.9 1454.5,36.7 1455.3,36.7 1456,36.8 1456.8,36.7 1457.6,36.6 1458.3,36.7 1459.1,36.8 1459.9,36.9 1460.6,36.8 1461.4,36.6 1462.2,36.8 1462.9,36.7 1463.7,36.9 1464.5,36.6 1465.3,36.9 1466,36.8 1466.8,36.9 1467.6,36.6 1468.3,36.8 1469.1,36.7 1469.9,37.1 1470.6,36.6 1471.4,36.9 1472.2,36.6 1472.9,36.8 1473.7,36.7 1474.5,36.6 1475.3,36.8 1476,36.7 1476.8,36.7 1477.6,37 1478.3,36.6 1479.1,36.7 1479.9,36.6 1480.6,36.7 1481.4,36.9 1482.2,36.6 1482.9,36.8 1483.7,36.5 1484.5,36.5 1485.2,36.6 1486,36.7 1486.8,36.8 1487.6,36.7 1488.3,36.7 1489.1,36.8 1489.9,36.8 1490.6,36.7 1491.4,36.4 1492.2,36.6 1492.9,36.9 1493.7,36.8 1494.5,36.7 1495.2,36.7 1496,36.7 1496.8,36.7 1497.6,37.1 1498.3,36.7 1499.1,36.5 1499.9,36.3 1500.6,36.8 1501.4,36.5 1502.2,37 1502.9,36.8 1503.7,36.9 1504.5,37.1 1505.2,36.8 1506,36.9 1506.8,37.8 1507.6,37.7 1508.3,37.6 1509.1,38 1509.9,37.2 1510.6,37 1511.4,36.3 1512.2,36.8 1512.9,37.1 1513.7,37.1 1514.5,36.1 1515.2,36.4 1516,36 1516.8,36.3 1517.6,36 1518.3,36.2 1519.1,36.2 1519.9,36.2 1520.6,36 1521.4,36 1522.2,35.7 1522.9,36.2 1523.7,37 1524.5,36.9 1525.2,36.3 1526,35.8 1526.8,35.5 1527.5,36.1 1528.3,36.7 1529.1,37 1529.9,36.7 1530.6,36.6 1531.4,37 1532.2,37 1532.9,36.5 1533.7,35.9 1534.5,36.2 1535.2,36.6 1536,36.7 1536.8,36.6 1537.5,36.4 1538.3,36.2 1539.1,36.1 1539.9,36.3 1540.6,35.2 1541.4,33.9 1542.2,35.9 1542.9,35.6 1543.7,35.6 1544.5,34.3 1545.2,36.3 1546,36.8 1546.8,36.6 1547.5,36.6 1548.3,37.1 1549.1,37.1 1549.9,37.7 1550.6,36.8 1551.4,36.5 1552.2,37 1552.9,38.5 1553.7,36.9 1554.5,35.4 1555.2,36.3 1556,38.7 1556.8,38.4 1557.5,37.3 1558.3,35.5 1559.1,35.6 1559.9,33.7 1560.6,35.4 1561.4,35.2 1562.2,37.2 1562.9,36.4 1563.7,35.7 1564.5,36.9 1565.2,34.5 1566,34.8 1566.8,34.3 1567.5,36.8 1568.3,36.8 1569.1,34.9 1569.8,34.3 1570.6,35.9 1571.4,36 1572.2,37.3 1572.9,39.2 1573.7,40.1 1574.5,37.6 1575.2,34.9 1576,36.5 1576.8,41.3 1577.5,41.4 1578.3,41 1579.1,37.1 1579.8,36 1580.6,35.7 1581.4,37 1582.2,39 1582.9,39 1583.7,40.2 1584.5,38.3 1585.2,35.3 1586,32.8" fill="none" stroke="#b177de" stroke-width="2.4" stroke-linejoin="round" /><polyline points="1163,38.7 1163.8,38.7 1164.5,38.7 1165.3,38.1 1166.1,37.8 1166.8,37.9 1167.6,38 1168.4,37.6 1169.2,37.6 1169.9,37.6 1170.7,37.4 1171.5,37.1 1172.2,37.1 1173,37.2 1173.8,37.1 1174.5,36.9 1175.3,37 1176.1,36.8 1176.8,36.8 1177.6,36.7 1178.4,36.6 1179.2,36.4 1179.9,36.5 1180.7,36.5 1181.5,36.6 1182.2,36.5 1183,36.4 1183.8,36.2 1184.5,36.5 1185.3,36.4 1186.1,36.2 1186.8,36.4 1187.6,35.9 1188.4,36.4 1189.1,36 1189.9,35.9 1190.7,36.1 1191.5,36.2 1192.2,36.1 1193,36 1193.8,35.8 1194.5,36.1 1195.3,36.1 1196.1,35.6 1196.8,36.2 1197.6,35.7 1198.4,36 1199.1,35.7 1199.9,36 1200.7,35.9 1201.5,35.6 1202.2,35.7 1203,35.8 1203.8,35.9 1204.5,35.9 1205.3,35.7 1206.1,35.7 1206.8,35.9 1207.6,35.8 1208.4,35.7 1209.1,35.9 1209.9,35.8 1210.7,35.6 1211.5,35.7 1212.2,35.5 1213,36.2 1213.8,35.7 1214.5,35.8 1215.3,35.7 1216.1,35.7 1216.8,35.8 1217.6,35.6 1218.4,35.7 1219.1,35.7 1219.9,35.6 1220.7,35.9 1221.5,36 1222.2,35.8 1223,35.8 1223.8,35.5 1224.5,36 1225.3,35.7 1226.1,36 1226.8,35.5 1227.6,36.1 1228.4,35.8 1229.1,35.8 1229.9,35.9 1230.7,35.8 1231.4,35.8 1232.2,35.7 1233,35.7 1233.8,35.6 1234.5,35.9 1235.3,35.7 1236.1,35.6 1236.8,35.5 1237.6,35.8 1238.4,35.5 1239.1,35.7 1239.9,35.5 1240.7,35.8 1241.4,35.5 1242.2,35.6 1243,35.5 1243.8,35.7 1244.5,35.7 1245.3,35.6 1246.1,35.9 1246.8,35.5 1247.6,35.5 1248.4,35.6 1249.1,35.5 1249.9,35.4 1250.7,35.8 1251.4,35.7 1252.2,35.7 1253,35.6 1253.8,35.6 1254.5,35.6 1255.3,35.6 1256.1,35.7 1256.8,35.4 1257.6,35.4 1258.4,35.7 1259.1,35.7 1259.9,35.6 1260.7,35.5 1261.4,35.6 1262.2,35.5 1263,35.7 1263.8,35.5 1264.5,35.7 1265.3,35.6 1266.1,35.4 1266.8,35.7 1267.6,35.4 1268.4,35.3 1269.1,35.3 1269.9,35.3 1270.7,35.4 1271.4,34.9 1272.2,34.5 1273,34.3 1273.7,33.9 1274.5,33.6 1275.3,33.7 1276.1,33.9 1276.8,34 1277.6,33.6 1278.4,33.8 1279.1,33.7 1279.9,33.6 1280.7,33.8 1281.4,33.7 1282.2,33.7 1283,33.6 1283.7,34 1284.5,33.9 1285.3,34 1286.1,33.7 1286.8,33.8 1287.6,33.8 1288.4,33.6 1289.1,33.9 1289.9,33.6 1290.7,33.9 1291.4,33.8 1292.2,33.6 1293,34 1293.7,34.1 1294.5,33.7 1295.3,33.7 1296.1,33.7 1296.8,33.6 1297.6,33.7 1298.4,33.7 1299.1,33.9 1299.9,33.9 1300.7,33.6 1301.4,33.9 1302.2,33.6 1303,34.1 1303.7,33.8 1304.5,33.8 1305.3,33.7 1306.1,33.9 1306.8,33.8 1307.6,33.7 1308.4,33.7 1309.1,33.9 1309.9,33.8 1310.7,33.7 1311.4,33.8 1312.2,33.7 1313,34.2 1313.7,33.6 1314.5,33.8 1315.3,33.8 1316,33.9 1316.8,33.8 1317.6,33.6 1318.4,33.6 1319.1,33.6 1319.9,33.5 1320.7,33.7 1321.4,33.9 1322.2,33.8 1323,33.5 1323.7,33.5 1324.5,33.8 1325.3,33.7 1326,33.6 1326.8,33.5 1327.6,33.7 1328.4,33.9 1329.1,33.7 1329.9,34 1330.7,34 1331.4,33.7 1332.2,33.7 1333,33.6 1333.7,33.7 1334.5,33.8 1335.3,33.7 1336,34 1336.8,33.7 1337.6,33.7 1338.4,33.4 1339.1,33.6 1339.9,33.7 1340.7,33.8 1341.4,33.9 1342.2,33.4 1343,33.7 1343.7,33.8 1344.5,33.8 1345.3,33.6 1346,33.7 1346.8,33.6 1347.6,33.8 1348.4,33.6 1349.1,33.7 1349.9,33.5 1350.7,33.8 1351.4,33.5 1352.2,33.6 1353,33.6 1353.7,33.7 1354.5,33.6 1355.3,33.8 1356,33.5 1356.8,33.5 1357.6,33.7 1358.3,33.7 1359.1,33.4 1359.9,33.7 1360.7,33.4 1361.4,33.8 1362.2,33.7 1363,33.6 1363.7,33.8 1364.5,33.6 1365.3,33.6 1366,33.6 1366.8,33.6 1367.6,33.5 1368.3,33.7 1369.1,33.7 1369.9,33.5 1370.7,33.6 1371.4,33.6 1372.2,33.6 1373,33.7 1373.7,33.4 1374.5,33.7 1375.3,33.3 1376,33.6 1376.8,33.8 1377.6,33.6 1378.3,33.7 1379.1,33.7 1379.9,33.5 1380.7,33.8 1381.4,33.7 1382.2,33.3 1383,33.4 1383.7,33.8 1384.5,33.4 1385.3,33.5 1386,33.7 1386.8,33.5 1387.6,33.6 1388.3,33.5 1389.1,33.6 1389.9,33.4 1390.7,33.7 1391.4,33.7 1392.2,33.6 1393,33.4 1393.7,33.7 1394.5,33.6 1395.3,33.6 1396,33.3 1396.8,33.9 1397.6,33.5 1398.3,33.6 1399.1,33.5 1399.9,33.6 1400.6,33.5 1401.4,33.7 1402.2,33.8 1403,33.7 1403.7,33.8 1404.5,33.5 1405.3,33.5 1406,33.5 1406.8,33.6 1407.6,33.3 1408.3,33.8 1409.1,33.6 1409.9,33.8 1410.6,33.5 1411.4,33.5 1412.2,33.3 1413,33.3 1413.7,33.3 1414.5,33.4 1415.3,33.5 1416,33.3 1416.8,33.6 1417.6,33.6 1418.3,33.5 1419.1,33.8 1419.9,33.8 1420.6,33.5 1421.4,33.3 1422.2,33.6 1423,33.4 1423.7,33.3 1424.5,33.5 1425.3,33.5 1426,33.5 1426.8,33.6 1427.6,33.6 1428.3,33.6 1429.1,33.6 1429.9,33.8 1430.6,33.7 1431.4,33.5 1432.2,33.6 1433,33.5 1433.7,33.7 1434.5,33.7 1435.3,33.6 1436,33.6 1436.8,33.4 1437.6,33.4 1438.3,33.4 1439.1,33.3 1439.9,33.3 1440.6,33.4 1441.4,33.4 1442.2,33.5 1442.9,33.7 1443.7,33.6 1444.5,33.6 1445.3,33.4 1446,33.7 1446.8,33.6 1447.6,33.5 1448.3,33.3 1449.1,33.8 1449.9,33.5 1450.6,33.4 1451.4,33.5 1452.2,33.5 1452.9,33.5 1453.7,33.5 1454.5,33.3 1455.3,33.7 1456,33.3 1456.8,33.5 1457.6,33.9 1458.3,33.4 1459.1,33.5 1459.9,33.3 1460.6,33.4 1461.4,33.6 1462.2,33.6 1462.9,33.7 1463.7,33.3 1464.5,33.6 1465.3,33.3 1466,33.7 1466.8,33.5 1467.6,33.4 1468.3,33.7 1469.1,33.5 1469.9,33.7 1470.6,33.3 1471.4,33.4 1472.2,33.6 1472.9,33.7 1473.7,33.2 1474.5,33.4 1475.3,33.1 1476,33.5 1476.8,33.5 1477.6,33.4 1478.3,33.5 1479.1,33.4 1479.9,33.4 1480.6,33.7 1481.4,33.7 1482.2,33.7 1482.9,33.5 1483.7,33.3 1484.5,33.3 1485.2,33.4 1486,33.5 1486.8,33.5 1487.6,33.6 1488.3,33.3 1489.1,33.5 1489.9,33.6 1490.6,33.6 1491.4,33.1 1492.2,33.1 1492.9,33.2 1493.7,33.3 1494.5,33.5 1495.2,33.1 1496,33.1 1496.8,33.4 1497.6,33.3 1498.3,33.2 1499.1,33.4 1499.9,33.4 1500.6,33.4 1501.4,33.4 1502.2,33.3 1502.9,33.2 1503.7,32.8 1504.5,33.3 1505.2,33.4 1506,33.7 1506.8,33.7 1507.6,33.7 1508.3,33.2 1509.1,33.1 1509.9,32.9 1510.6,33 1511.4,33.3 1512.2,33.9 1512.9,33.7 1513.7,34.3 1514.5,33.4 1515.2,33.1 1516,33.1 1516.8,32.6 1517.6,32.9 1518.3,33.1 1519.1,33.5 1519.9,33.7 1520.6,33.4 1521.4,33.4 1522.2,33.9 1522.9,32.9 1523.7,33.5 1524.5,32.2 1525.2,32.6 1526,32.6 1526.8,32.9 1527.5,32.8 1528.3,32.2 1529.1,32.2 1529.9,33.8 1530.6,34.5 1531.4,33.3 1532.2,32.1 1532.9,31.5 1533.7,32.1 1534.5,31.5 1535.2,31.8 1536,32.9 1536.8,33.5 1537.5,34.3 1538.3,33.7 1539.1,33.8 1539.9,33.3 1540.6,31.7 1541.4,31 1542.2,31.2 1542.9,33 1543.7,33 1544.5,32.2 1545.2,31.7 1546,31.5 1546.8,30.5 1547.5,30.6 1548.3,32.3 1549.1,33.6 1549.9,32.4 1550.6,31.5 1551.4,30.9 1552.2,31.2 1552.9,31.9 1553.7,32.3 1554.5,32.8 1555.2,33.6 1556,32.9 1556.8,31.8 1557.5,30.7 1558.3,32.1 1559.1,33.5 1559.9,32.9 1560.6,31.3 1561.4,31.6 1562.2,33.9 1562.9,35.6 1563.7,34.3 1564.5,32.4 1565.2,32.3 1566,32.2 1566.8,32.1 1567.5,30.6 1568.3,31.4 1569.1,29.9 1569.8,30.9 1570.6,29 1571.4,29.5 1572.2,29.7 1572.9,30.4 1573.7,32.9 1574.5,32.6 1575.2,35 1576,33.6 1576.8,32.5 1577.5,32.7 1578.3,32.9 1579.1,33.7 1579.8,32.1 1580.6,33.4 1581.4,31.5 1582.2,31.6 1582.9,31.2 1583.7,31.6 1584.5,31.4 1585.2,32.3 1586,32.4" fill="none" stroke="#38ad6b" stroke-width="3" stroke-linejoin="round" /><polyline points="1163,103.4 1163.8,105.1 1164.5,107 1165.3,108.8 1166.1,111.1 1166.8,113.3 1167.6,115.4 1168.4,117.3 1169.2,119.4 1169.9,121.5 1170.7,123.7 1171.5,126.8 1172.2,130 1173,134.7 1173.8,141.1 1174.5,148 1175.3,154.1 1176.1,160.3 1176.8,166.4 1177.6,169.9 1178.4,171.3 1179.2,172.4 1179.9,173.4 1180.7,173.8 1181.5,174 1182.2,174.3 1183,174.7 1183.8,174.7 1184.5,174.8 1185.3,175 1186.1,175.2 1186.8,175.4 1187.6,174.9 1188.4,175 1189.1,174.9 1189.9,174.5 1190.7,174.7 1191.5,174.6 1192.2,174.8 1193,174.5 1193.8,174.1 1194.5,174.3 1195.3,174 1196.1,173.6 1196.8,173.6 1197.6,173.4 1198.4,173.1 1199.1,173.1 1199.9,172.5 1200.7,172.6 1201.5,172.6 1202.2,172.4 1203,172.2 1203.8,172.1 1204.5,171.9 1205.3,171.4 1206.1,171.5 1206.8,170.9 1207.6,170.9 1208.4,170.6 1209.1,170.8 1209.9,170.7 1210.7,170.3 1211.5,170.4 1212.2,169.9 1213,169.8 1213.8,169.7 1214.5,169.3 1215.3,169.4 1216.1,169.4 1216.8,168.8 1217.6,168.9 1218.4,168.6 1219.1,168.7 1219.9,168.3 1220.7,168.2 1221.5,168 1222.2,167.8 1223,167.4 1223.8,167.6 1224.5,167 1225.3,167 1226.1,166.9 1226.8,166.5 1227.6,166.5 1228.4,166.4 1229.1,166 1229.9,165.7 1230.7,165.2 1231.4,165.3 1232.2,165.2 1233,165 1233.8,164.7 1234.5,164.7 1235.3,164.4 1236.1,164.2 1236.8,164.2 1237.6,163.8 1238.4,163.7 1239.1,163.8 1239.9,163.5 1240.7,163 1241.4,163 1242.2,162.9 1243,162.9 1243.8,162.6 1244.5,162.3 1245.3,162.2 1246.1,162.2 1246.8,162.1 1247.6,161.8 1248.4,161.7 1249.1,161.6 1249.9,161.7 1250.7,161.3 1251.4,161.4 1252.2,161.3 1253,161.2 1253.8,160.9 1254.5,161.1 1255.3,160.7 1256.1,160.7 1256.8,160.4 1257.6,160.2 1258.4,160.3 1259.1,160.2 1259.9,160 1260.7,159.9 1261.4,159.7 1262.2,159.5 1263,159.4 1263.8,159.6 1264.5,159.3 1265.3,158.9 1266.1,158.9 1266.8,158.6 1267.6,158.4 1268.4,158.5 1269.1,158.1 1269.9,157.8 1270.7,157.8 1271.4,157.7 1272.2,157.5 1273,157.4 1273.7,156.9 1274.5,157 1275.3,156.9 1276.1,156.7 1276.8,156.7 1277.6,156.6 1278.4,156.2 1279.1,156.4 1279.9,155.9 1280.7,155.9 1281.4,155.7 1282.2,155.5 1283,154.9 1283.7,154.5 1284.5,153.9 1285.3,153.4 1286.1,152.5 1286.8,151.9 1287.6,151 1288.4,149.8 1289.1,149.3 1289.9,147.9 1290.7,146.9 1291.4,146.8 1292.2,145.8 1293,145.6 1293.7,145.2 1294.5,144.8 1295.3,144.8 1296.1,144.9 1296.8,145.3 1297.6,145.4 1298.4,145.9 1299.1,146.4 1299.9,147 1300.7,147.3 1301.4,147.8 1302.2,147.9 1303,148 1303.7,148.4 1304.5,148.4 1305.3,148.8 1306.1,149.1 1306.8,149.5 1307.6,149.8 1308.4,149.8 1309.1,149.9 1309.9,149.8 1310.7,150.1 1311.4,150.1 1312.2,150.1 1313,149.8 1313.7,150.1 1314.5,149.8 1315.3,149.4 1316,149.2 1316.8,148.9 1317.6,148.8 1318.4,148.5 1319.1,148.1 1319.9,147.5 1320.7,146.9 1321.4,145.9 1322.2,144.8 1323,143.7 1323.7,142.1 1324.5,140.3 1325.3,138.6 1326,136.2 1326.8,134.6 1327.6,132.4 1328.4,130.5 1329.1,128.7 1329.9,127 1330.7,126.1 1331.4,125.1 1332.2,124.3 1333,123.8 1333.7,123.3 1334.5,123.4 1335.3,123.2 1336,123.5 1336.8,123.1 1337.6,123.7 1338.4,124 1339.1,124.1 1339.9,124.6 1340.7,124.7 1341.4,124.8 1342.2,125.1 1343,125.7 1343.7,125.6 1344.5,125.8 1345.3,125.9 1346,126.3 1346.8,126.2 1347.6,126.6 1348.4,127.1 1349.1,126.9 1349.9,126.9 1350.7,126.8 1351.4,126.7 1352.2,126.1 1353,125.8 1353.7,125.1 1354.5,124.4 1355.3,123.7 1356,121.9 1356.8,120.8 1357.6,119.4 1358.3,117.6 1359.1,116.2 1359.9,114.5 1360.7,112.7 1361.4,111.3 1362.2,109.1 1363,107 1363.7,105.3 1364.5,103.1 1365.3,101.3 1366,99.1 1366.8,96.9 1367.6,93.8 1368.3,91 1369.1,86.9 1369.9,82 1370.7,77.5 1371.4,72.4 1372.2,67.6 1373,62.4 1373.7,58.2 1374.5,54.1 1375.3,50.6 1376,47.2 1376.8,45.4 1377.6,43.6 1378.3,42.2 1379.1,41 1379.9,40.4 1380.7,39.7 1381.4,39.7 1382.2,39.4 1383,38.7 1383.7,38.5 1384.5,38.4 1385.3,38.5 1386,38.6 1386.8,38.3 1387.6,38.6 1388.3,38.8 1389.1,39.2 1389.9,39.6 1390.7,40.3 1391.4,40.5 1392.2,41.3 1393,41.7 1393.7,42 1394.5,42.6 1395.3,43.4 1396,44.4 1396.8,44.8 1397.6,45.5 1398.3,46.5 1399.1,47.4 1399.9,48 1400.6,49.1 1401.4,49.7 1402.2,50.5 1403,51.1 1403.7,52.1 1404.5,52.9 1405.3,53.5 1406,54.7 1406.8,55.2 1407.6,56.3 1408.3,56.9 1409.1,58.2 1409.9,58.6 1410.6,59.4 1411.4,60 1412.2,60.4 1413,60.9 1413.7,61.8 1414.5,62.6 1415.3,63.1 1416,63.8 1416.8,64.3 1417.6,64.4 1418.3,65 1419.1,65.6 1419.9,65.4 1420.6,65.4 1421.4,65.9 1422.2,66 1423,66.3 1423.7,66.2 1424.5,66.5 1425.3,66.4 1426,67 1426.8,67.2 1427.6,67.3 1428.3,67 1429.1,67.4 1429.9,67 1430.6,67.5 1431.4,67.5 1432.2,67.2 1433,67.2 1433.7,66.9 1434.5,66.7 1435.3,66.3 1436,65.9 1436.8,65.2 1437.6,64.9 1438.3,64.6 1439.1,64.2 1439.9,63.6 1440.6,63.3 1441.4,62.4 1442.2,61.9 1442.9,61.4 1443.7,60.8 1444.5,60.2 1445.3,59.3 1446,58.9 1446.8,58 1447.6,57.8 1448.3,57.3 1449.1,57.5 1449.9,57.1 1450.6,57.4 1451.4,57.3 1452.2,57.5 1452.9,57.6 1453.7,57.4 1454.5,57.4 1455.3,57.5 1456,57.7 1456.8,57.4 1457.6,57.4 1458.3,56.7 1459.1,56 1459.9,55.2 1460.6,54.2 1461.4,52.6 1462.2,50.8 1462.9,49 1463.7,47 1464.5,44.7 1465.3,42.9 1466,40.5 1466.8,38.4 1467.6,36.9 1468.3,36 1469.1,35.5 1469.9,35 1470.6,34.8 1471.4,34.7 1472.2,34.6 1472.9,34.2 1473.7,34.3 1474.5,34.3 1475.3,34.4 1476,34.2 1476.8,34 1477.6,34 1478.3,34 1479.1,33.9 1479.9,34.1 1480.6,34.1 1481.4,34.1 1482.2,34.2 1482.9,33.9 1483.7,34 1484.5,34 1485.2,34.1 1486,34.3 1486.8,34.1 1487.6,33.9 1488.3,34.2 1489.1,34.2 1489.9,34.2 1490.6,34.4 1491.4,34.7 1492.2,34.9 1492.9,34.6 1493.7,34.9 1494.5,35 1495.2,34.8 1496,35 1496.8,35.1 1497.6,35.2 1498.3,35 1499.1,35.3 1499.9,35.6 1500.6,35.8 1501.4,35.9 1502.2,35.6 1502.9,36 1503.7,35.9 1504.5,35.8 1505.2,36.3 1506,36.3 1506.8,36.4 1507.6,36.4 1508.3,36.7 1509.1,36.8 1509.9,36.8 1510.6,37.3 1511.4,37.2 1512.2,37.3 1512.9,37.8 1513.7,37.9 1514.5,38.3 1515.2,38.7 1516,39 1516.8,39.3 1517.6,39.8 1518.3,39.4 1519.1,39.7 1519.9,39.5 1520.6,40.1 1521.4,40.5 1522.2,40.8 1522.9,40.3 1523.7,40.6 1524.5,40.4 1525.2,40.6 1526,40.7 1526.8,41.3 1527.5,41.2 1528.3,41.4 1529.1,41.2 1529.9,41.5 1530.6,41.5 1531.4,41.3 1532.2,41.4 1532.9,41.4 1533.7,41.3 1534.5,40.8 1535.2,40.5 1536,40 1536.8,40.4 1537.5,40.6 1538.3,40.4 1539.1,39.8 1539.9,38.6 1540.6,38.3 1541.4,39.1 1542.2,38.8 1542.9,38.2 1543.7,38.2 1544.5,38.3 1545.2,37.6 1546,37.4 1546.8,36.6 1547.5,37.4 1548.3,37.7 1549.1,37.5 1549.9,37.4 1550.6,36.8 1551.4,37.1 1552.2,36.1 1552.9,36 1553.7,35.9 1554.5,35.6 1555.2,36.2 1556,34.9 1556.8,36.1 1557.5,34.4 1558.3,35.2 1559.1,34.9 1559.9,36.2 1560.6,35.9 1561.4,34.7 1562.2,33.3 1562.9,33 1563.7,33.2 1564.5,34.5 1565.2,33.8 1566,32.2 1566.8,32.4 1567.5,31.6 1568.3,32.9 1569.1,32 1569.8,33.9 1570.6,32.8 1571.4,31.7 1572.2,31.6 1572.9,30.8 1573.7,30.9 1574.5,30.1 1575.2,30.7 1576,30.1 1576.8,31.9 1577.5,31.8 1578.3,33.9 1579.1,33.2 1579.8,34.4 1580.6,33.7 1581.4,31.4 1582.2,32.8 1582.9,32.2 1583.7,33.1 1584.5,30.5 1585.2,34.3 1586,40.4" fill="none" stroke="#0ccbcd" stroke-width="2" stroke-linejoin="round" /></g><line x1="1162.3" y1="26.7" x2="1586.7" y2="26.7" stroke="#000" stroke-width="1.6" /><line x1="1162.3" y1="390.7" x2="1586.7" y2="390.7" stroke="#000" stroke-width="1.6" /><line x1="1163" y1="26.7" x2="1163" y2="390.7" stroke="#000" stroke-width="1.3" /><line x1="1586" y1="26.7" x2="1586" y2="390.7" stroke="#000" stroke-width="1.3" /><line x1="1201.5" y1="390.7" x2="1201.5" y2="397.7" stroke="#000" stroke-width="1.8" /><text x="1201.5" y="417" font-size="17" text-anchor="middle" font-weight="bold" textLength="23.5" lengthAdjust="spacingAndGlyphs" >500</text><line x1="1297.6" y1="390.7" x2="1297.6" y2="397.7" stroke="#000" stroke-width="1.8" /><text x="1297.6" y="417" font-size="17" text-anchor="middle" font-weight="bold" textLength="31.3" lengthAdjust="spacingAndGlyphs" >1000</text><line x1="1393.7" y1="390.7" x2="1393.7" y2="397.7" stroke="#000" stroke-width="1.8" /><text x="1393.7" y="417" font-size="17" text-anchor="middle" font-weight="bold" textLength="31.3" lengthAdjust="spacingAndGlyphs" >1500</text><line x1="1489.9" y1="390.7" x2="1489.9" y2="397.7" stroke="#000" stroke-width="1.8" /><text x="1489.9" y="417" font-size="17" text-anchor="middle" font-weight="bold" textLength="31.3" lengthAdjust="spacingAndGlyphs" >2000</text><line x1="1586" y1="390.7" x2="1586" y2="397.7" stroke="#000" stroke-width="1.8" /><text x="1586" y="417" font-size="17" text-anchor="middle" font-weight="bold" textLength="31.3" lengthAdjust="spacingAndGlyphs" >2500</text><line x1="1249.5" y1="390.7" x2="1249.5" y2="394.2" stroke="#000" stroke-width="1.8" /><line x1="1345.7" y1="390.7" x2="1345.7" y2="394.2" stroke="#000" stroke-width="1.8" /><line x1="1441.8" y1="390.7" x2="1441.8" y2="394.2" stroke="#000" stroke-width="1.8" /><line x1="1537.9" y1="390.7" x2="1537.9" y2="394.2" stroke="#000" stroke-width="1.8" /><line x1="1156" y1="390.7" x2="1163" y2="390.7" stroke="#000" stroke-width="1.5" /><text x="1151.5" y="396.5" font-size="17" text-anchor="end" font-weight="bold" >0</text><line x1="1156" y1="354.3" x2="1163" y2="354.3" stroke="#000" stroke-width="1.5" /><text x="1151.5" y="360.1" font-size="17" text-anchor="end" font-weight="bold" textLength="15.6" lengthAdjust="spacingAndGlyphs" >10</text><line x1="1156" y1="317.9" x2="1163" y2="317.9" stroke="#000" stroke-width="1.5" /><text x="1151.5" y="323.7" font-size="17" text-anchor="end" font-weight="bold" textLength="15.6" lengthAdjust="spacingAndGlyphs" >20</text><line x1="1156" y1="281.5" x2="1163" y2="281.5" stroke="#000" stroke-width="1.5" /><text x="1151.5" y="287.3" font-size="17" text-anchor="end" font-weight="bold" textLength="15.6" lengthAdjust="spacingAndGlyphs" >30</text><line x1="1156" y1="245.1" x2="1163" y2="245.1" stroke="#000" stroke-width="1.5" /><text x="1151.5" y="250.9" font-size="17" text-anchor="end" font-weight="bold" textLength="15.6" lengthAdjust="spacingAndGlyphs" >40</text><line x1="1156" y1="208.7" x2="1163" y2="208.7" stroke="#000" stroke-width="1.5" /><text x="1151.5" y="214.5" font-size="17" text-anchor="end" font-weight="bold" textLength="15.6" lengthAdjust="spacingAndGlyphs" >50</text><line x1="1156" y1="172.3" x2="1163" y2="172.3" stroke="#000" stroke-width="1.5" /><text x="1151.5" y="178.1" font-size="17" text-anchor="end" font-weight="bold" textLength="15.6" lengthAdjust="spacingAndGlyphs" >60</text><line x1="1156" y1="135.9" x2="1163" y2="135.9" stroke="#000" stroke-width="1.5" /><text x="1151.5" y="141.7" font-size="17" text-anchor="end" font-weight="bold" textLength="15.6" lengthAdjust="spacingAndGlyphs" >70</text><line x1="1156" y1="99.5" x2="1163" y2="99.5" stroke="#000" stroke-width="1.5" /><text x="1151.5" y="105.3" font-size="17" text-anchor="end" font-weight="bold" textLength="15.6" lengthAdjust="spacingAndGlyphs" >80</text><line x1="1156" y1="63.1" x2="1163" y2="63.1" stroke="#000" stroke-width="1.5" /><text x="1151.5" y="68.9" font-size="17" text-anchor="end" font-weight="bold" textLength="15.6" lengthAdjust="spacingAndGlyphs" >90</text><line x1="1156" y1="26.7" x2="1163" y2="26.7" stroke="#000" stroke-width="1.5" /><text x="1151.5" y="32.5" font-size="17" text-anchor="end" font-weight="bold" textLength="23.5" lengthAdjust="spacingAndGlyphs" >100</text><line x1="1159.5" y1="372.5" x2="1163" y2="372.5" stroke="#000" stroke-width="1.5" /><line x1="1159.5" y1="336.1" x2="1163" y2="336.1" stroke="#000" stroke-width="1.5" /><line x1="1159.5" y1="299.7" x2="1163" y2="299.7" stroke="#000" stroke-width="1.5" /><line x1="1159.5" y1="263.3" x2="1163" y2="263.3" stroke="#000" stroke-width="1.5" /><line x1="1159.5" y1="226.9" x2="1163" y2="226.9" stroke="#000" stroke-width="1.5" /><line x1="1159.5" y1="190.5" x2="1163" y2="190.5" stroke="#000" stroke-width="1.5" /><line x1="1159.5" y1="154.1" x2="1163" y2="154.1" stroke="#000" stroke-width="1.5" /><line x1="1159.5" y1="117.7" x2="1163" y2="117.7" stroke="#000" stroke-width="1.5" /><line x1="1159.5" y1="81.3" x2="1163" y2="81.3" stroke="#000" stroke-width="1.5" /><line x1="1159.5" y1="44.9" x2="1163" y2="44.9" stroke="#000" stroke-width="1.5" /><line x1="1586" y1="390.7" x2="1593" y2="390.7" stroke="#000" stroke-width="1.5" /><text x="1598" y="396.5" font-size="17" text-anchor="start" font-weight="bold" textLength="19.6" lengthAdjust="spacingAndGlyphs" >0.0</text><line x1="1586" y1="350.3" x2="1593" y2="350.3" stroke="#000" stroke-width="1.5" /><text x="1598" y="356" font-size="17" text-anchor="start" font-weight="bold" textLength="19.6" lengthAdjust="spacingAndGlyphs" >0.2</text><line x1="1586" y1="309.8" x2="1593" y2="309.8" stroke="#000" stroke-width="1.5" /><text x="1598" y="315.6" font-size="17" text-anchor="start" font-weight="bold" textLength="19.6" lengthAdjust="spacingAndGlyphs" >0.4</text><line x1="1586" y1="269.4" x2="1593" y2="269.4" stroke="#000" stroke-width="1.5" /><text x="1598" y="275.1" font-size="17" text-anchor="start" font-weight="bold" textLength="19.6" lengthAdjust="spacingAndGlyphs" >0.6</text><line x1="1586" y1="228.9" x2="1593" y2="228.9" stroke="#000" stroke-width="1.5" /><text x="1598" y="234.7" font-size="17" text-anchor="start" font-weight="bold" textLength="19.6" lengthAdjust="spacingAndGlyphs" >0.8</text><line x1="1586" y1="188.5" x2="1593" y2="188.5" stroke="#000" stroke-width="1.5" /><text x="1598" y="194.3" font-size="17" text-anchor="start" font-weight="bold" textLength="19.6" lengthAdjust="spacingAndGlyphs" >1.0</text><line x1="1586" y1="148" x2="1593" y2="148" stroke="#000" stroke-width="1.5" /><text x="1598" y="153.8" font-size="17" text-anchor="start" font-weight="bold" textLength="19.6" lengthAdjust="spacingAndGlyphs" >1.2</text><line x1="1586" y1="107.6" x2="1593" y2="107.6" stroke="#000" stroke-width="1.5" /><text x="1598" y="113.4" font-size="17" text-anchor="start" font-weight="bold" textLength="19.6" lengthAdjust="spacingAndGlyphs" >1.4</text><line x1="1586" y1="67.1" x2="1593" y2="67.1" stroke="#000" stroke-width="1.5" /><text x="1598" y="72.9" font-size="17" text-anchor="start" font-weight="bold" textLength="19.6" lengthAdjust="spacingAndGlyphs" >1.6</text><line x1="1586" y1="26.7" x2="1593" y2="26.7" stroke="#000" stroke-width="1.5" /><text x="1598" y="32.5" font-size="17" text-anchor="start" font-weight="bold" textLength="19.6" lengthAdjust="spacingAndGlyphs" >1.8</text><line x1="1586" y1="370.5" x2="1589.5" y2="370.5" stroke="#000" stroke-width="1.5" /><line x1="1586" y1="330" x2="1589.5" y2="330" stroke="#000" stroke-width="1.5" /><line x1="1586" y1="289.6" x2="1589.5" y2="289.6" stroke="#000" stroke-width="1.5" /><line x1="1586" y1="249.1" x2="1589.5" y2="249.1" stroke="#000" stroke-width="1.5" /><line x1="1586" y1="208.7" x2="1589.5" y2="208.7" stroke="#000" stroke-width="1.5" /><line x1="1586" y1="168.3" x2="1589.5" y2="168.3" stroke="#000" stroke-width="1.5" /><line x1="1586" y1="127.8" x2="1589.5" y2="127.8" stroke="#000" stroke-width="1.5" /><line x1="1586" y1="87.4" x2="1589.5" y2="87.4" stroke="#000" stroke-width="1.5" /><line x1="1586" y1="46.9" x2="1589.5" y2="46.9" stroke="#000" stroke-width="1.5" /><text x="1119" y="201" font-size="20.5" text-anchor="middle" font-weight="bold" transform="rotate(-90 1119 201)" textLength="138" lengthAdjust="spacingAndGlyphs" >Absorbtion (%)</text><text x="1627" y="208" font-size="17.5" text-anchor="middle" font-weight="bold" transform="rotate(90 1627 208)" textLength="227" lengthAdjust="spacingAndGlyphs" >Solar radiance (W m<tspan dy="-8" font-size="12.5">-2</tspan><tspan dy="8"> nm</tspan><tspan dy="-8" font-size="12.5">-1</tspan><tspan dy="8">)</tspan></text><text x="1374" y="444" font-size="20.5" text-anchor="middle" font-weight="bold" textLength="143" lengthAdjust="spacingAndGlyphs" >Wavelength (nm)</text><line x1="1429" y1="136.5" x2="1471" y2="136.5" stroke="#4a4a4a" stroke-width="1.3" /><text x="1475" y="143" font-size="18.5" text-anchor="start" font-weight="bold" textLength="110" lengthAdjust="spacingAndGlyphs" >CNT@DAC#1</text><line x1="1429" y1="160.1" x2="1471" y2="160.1" stroke="#f04141" stroke-width="2.4" /><text x="1475" y="166.6" font-size="18.5" text-anchor="start" font-weight="bold" textLength="110" lengthAdjust="spacingAndGlyphs" >CNT@DAC#2</text><line x1="1429" y1="183.7" x2="1471" y2="183.7" stroke="#1b6fde" stroke-width="2.4" /><text x="1475" y="190.2" font-size="18.5" text-anchor="start" font-weight="bold" textLength="110" lengthAdjust="spacingAndGlyphs" >CNT@DAC#3</text><line x1="1429" y1="207.3" x2="1471" y2="207.3" stroke="#38ad6b" stroke-width="1.8" /><text x="1475" y="213.8" font-size="18.5" text-anchor="start" font-weight="bold" textLength="110" lengthAdjust="spacingAndGlyphs" >CNT@DAC#4</text><line x1="1429" y1="230.9" x2="1471" y2="230.9" stroke="#b177de" stroke-width="1.8" /><text x="1475" y="237.4" font-size="18.5" text-anchor="start" font-weight="bold" textLength="110" lengthAdjust="spacingAndGlyphs" >CNT@DAC#5</text><line x1="1429" y1="254.5" x2="1471" y2="254.5" stroke="#0ccbcd" stroke-width="2" /><text x="1475" y="261" font-size="18.5" text-anchor="start" font-weight="bold" textLength="37.9" lengthAdjust="spacingAndGlyphs" >DAC</text><text x="1183" y="251.5" font-size="18" text-anchor="start" font-weight="bold" textLength="40" lengthAdjust="spacingAndGlyphs" >Solar</text><text x="1183" y="275" font-size="18" text-anchor="start" font-weight="bold" textLength="83" lengthAdjust="spacingAndGlyphs" >irradiation</text><text x="1183" y="298.5" font-size="18" text-anchor="start" font-weight="bold" textLength="70" lengthAdjust="spacingAndGlyphs" >spectrum</text><text x="1080.3" y="29.5" font-size="43" text-anchor="start" font-weight="bold" textLength="43.5" lengthAdjust="spacingAndGlyphs" >(c)</text></g>
<g><defs>
<radialGradient id="gsun" cx="0.5" cy="0.5" r="0.5"><stop offset="0" stop-color="#ffd400"/><stop offset="0.55" stop-color="#fbb800"/><stop offset="1" stop-color="#ee9a10"/></radialGradient>
<linearGradient id="gbeam" x1="52" y1="495" x2="215" y2="585" gradientUnits="userSpaceOnUse"><stop offset="0" stop-color="#fff" stop-opacity="0.75"/><stop offset="0.35" stop-color="#fff" stop-opacity="0.5"/><stop offset="1" stop-color="#fff" stop-opacity="0"/></linearGradient>
<linearGradient id="gcnt" x1="145" y1="580" x2="372" y2="590" gradientUnits="userSpaceOnUse"><stop offset="0" stop-color="#9b9da2"/><stop offset="0.3" stop-color="#727479"/><stop offset="0.55" stop-color="#41434b"/><stop offset="0.8" stop-color="#292b33"/><stop offset="1" stop-color="#23252d"/></linearGradient>
<linearGradient id="garr" x1="0" y1="612" x2="0" y2="726" gradientUnits="userSpaceOnUse"><stop offset="0" stop-color="#fff"/><stop offset="0.8" stop-color="#fff"/><stop offset="1" stop-color="#fff" stop-opacity="0"/></linearGradient>
<linearGradient id="garrs" x1="0" y1="612" x2="0" y2="726" gradientUnits="userSpaceOnUse"><stop offset="0" stop-color="#1f8f96"/><stop offset="0.8" stop-color="#1f8f96"/><stop offset="1" stop-color="#1f8f96" stop-opacity="0"/></linearGradient>
<linearGradient id="gmelL" x1="196" y1="0" x2="259" y2="0" gradientUnits="userSpaceOnUse"><stop offset="0" stop-color="#dfe6fb"/><stop offset="1" stop-color="#cfd8f7"/></linearGradient>
<linearGradient id="gmelR" x1="259" y1="0" x2="310" y2="0" gradientUnits="userSpaceOnUse"><stop offset="0" stop-color="#cbd4f6"/><stop offset="1" stop-color="#d2daf8"/></linearGradient>
<filter id="fblur6" x="-20%" y="-20%" width="140%" height="140%"><feGaussianBlur stdDeviation="6"/></filter>
<filter id="fblur2" x="-30%" y="-30%" width="160%" height="160%"><feGaussianBlur stdDeviation="1.6"/></filter>
<filter id="fblur1" x="-30%" y="-30%" width="160%" height="160%"><feGaussianBlur stdDeviation="0.8"/></filter>
<filter id="ftexL" x="0" y="0" width="100%" height="100%" color-interpolation-filters="sRGB"><feTurbulence type="fractalNoise" baseFrequency="0.16 0.34" numOctaves="2" seed="3" result="n"/><feDiffuseLighting in="n" surfaceScale="0.55" diffuseConstant="1.13" lighting-color="#ffffff" result="l"><feDistantLight azimuth="235" elevation="62"/></feDiffuseLighting><feBlend in="l" in2="SourceGraphic" mode="multiply" result="m"/><feComposite in="m" in2="SourceGraphic" operator="in"/></filter>
<filter id="ftexD" x="0" y="0" width="100%" height="100%" color-interpolation-filters="sRGB"><feTurbulence type="fractalNoise" baseFrequency="0.3 0.22" numOctaves="2" seed="8" result="n"/><feDiffuseLighting in="n" surfaceScale="1.0" diffuseConstant="1.12" lighting-color="#ffffff" result="l"><feDistantLight azimuth="200" elevation="58"/></feDiffuseLighting><feBlend in="l" in2="SourceGraphic" mode="multiply" result="m"/><feComposite in="m" in2="SourceGraphic" operator="in"/></filter>
<filter id="ftexK" x="0" y="0" width="100%" height="100%"><feTurbulence type="fractalNoise" baseFrequency="0.9" numOctaves="1" seed="5" result="n"/><feColorMatrix in="n" type="matrix" values="0 0 0 0 0.05  0 0 0 0 0.05  0 0 0 0 0.08  0 0 0 -2.2 0.95" result="c"/><feComposite in="c" in2="SourceGraphic" operator="in" result="t"/><feMerge><feMergeNode in="SourceGraphic"/><feMergeNode in="t"/></feMerge></filter>
<clipPath id="cd"><rect x="0" y="452.8" width="547" height="454"/></clipPath>
</defs><rect x="0" y="452.8" width="547" height="454" fill="#9dc3e6"/><g clip-path="url(#cd)"><polygon points="50,476 222,512 236,560 205,640 120,600 46,516" fill="url(#gbeam)" filter="url(#fblur6)"/><polygon points="41.9,641.6 138.8,692.8 258.8,653 360.5,703.6 479,662.4 282,560" fill="#4698ef" /><polygon points="96,644.5 168.4,681.4 168.4,683 140.5,692 96,669" fill="#70b1f7" /><polygon points="335.5,690.5 424.6,660.7 424.6,678.4 356.5,701.6" fill="#6badf5" /><g filter="url(#ftexL)"><polygon points="95.4,606.8 142.7,590.7 142.7,606.6 196.4,633.7 168.8,641.5" fill="#f0f4ff" /><polygon points="309.8,636.2 374.6,616.8 374.6,598 424.5,621.8 335.4,651" fill="#ecf1fe" /><polygon points="95.4,606.8 168.8,641.5 168.4,681.4 96,644.5" fill="#e9effd" /><polygon points="335.4,651 424.5,621.8 424.6,660.7 335.5,690.5" fill="#e6ecfb" /></g><polygon points="41.9,641.6 138.8,692.8 138.8,782.6 43.6,729.1" fill="#3d8fe9" /><polygon points="138.8,692.8 258.8,653 258.8,742.8 138.8,782.6" fill="#2f82de" /><polygon points="258.8,653 360.5,703.6 360.5,794.5 258.8,742.8" fill="#3589e5" /><polygon points="360.5,703.6 479,662.4 477.6,751.9 360.5,794.5" fill="#2e7fd9" /><polyline points="41.9,641.6 138.8,692.8" fill="none" stroke="#5aa6f3" stroke-width="1"/><polyline points="360.5,703.6 479,662.4" fill="none" stroke="#5aa6f3" stroke-width="1"/><g filter="url(#ftexD)"><polygon points="168.8,641.5 196.3,633.7 196.3,705.8 168.4,714.9" fill="#dde2f0" /></g><g filter="url(#ftexD)"><polygon points="309.8,636.8 335.4,651 335.5,723.5 309.8,712.1" fill="#e6ebf8" /></g><polygon points="142.7,583.7 267.5,546 374.6,593.9 309.8,612.5 258.8,591.3 196.4,609.1" fill="#e9eefc" /><polygon points="142.7,583.7 196.4,609.1 196.3,633.7 142.7,606.6" fill="#f0f4fe" /><polygon points="309.8,612.5 374.6,593.9 374.6,616.8 309.8,636.8" fill="#cdd6f6" /><polygon points="196.4,609.1 258.8,591.3 258.8,689.4 196.3,705.8" fill="url(#gmelL)" /><polygon points="258.8,591.3 309.8,612.5 309.8,712.1 258.8,689.4" fill="url(#gmelR)" /><line x1="258.8" y1="591.3" x2="258.8" y2="689.4" stroke="#dfe5fb" stroke-width="1" /><polygon points="196.4,603.5 258.8,589.5 309.8,606 309.8,611 258.8,594.5 196.4,608.5" fill="#6f7387" filter="url(#fblur1)" opacity="0.7"/><polygon points="143,576.5 147,576.8 150.1,573.6 154.3,574.4 157.4,571.4 161.5,572.1 164.7,569.3 168.9,570.2 172,567.1 176.3,568.3 179.3,565 183.6,566.3 186.7,563 191,564.4 194,561.1 198.3,562.1 201.3,558.7 205.6,559.9 208.7,556.8 212.8,557.6 215.8,554.2 220.3,556.1 223.3,552.5 227.6,553.8 230.5,550 235,551.9 238,548.5 242.1,549.1 245.3,546.4 249.6,547.7 252.6,544.3 256.8,545.2 259.7,541.6 264.2,543.2 267.5,541 270.8,543.3 275.2,542.9 277.9,546.6 282.3,546 285.1,549.5 289.5,549.1 292.2,552.7 296.7,552 299.5,555.4 304,554.8 306.6,558.6 311,558.2 313.8,561.6 318.3,561.1 321,564.8 325.7,563.6 328.2,567.6 332.9,566.6 335.6,570.3 340,569.9 342.8,573.3 347.1,572.9 350,576.3 354.2,576.2 357,579.7 361.5,579.1 364.4,582.3 368.7,582.1 371.5,585.5 375.5,586 371.6,586.3 368.4,588.8 364.3,588.6 361.2,591.3 357,590.6 353.8,593.2 349.8,593.2 346.5,595.4 342.4,595.3 339.1,597.6 335.1,597.5 331.9,600.1 327.9,599.8 324.6,602.4 320.5,601.9 317.2,604.3 313.2,604.1 309.8,606 258.8,589.5 196.4,603.5 196.4,603.5 192.9,601 188.4,600.3 185.3,597.1 180.8,596.4 177.5,593.4 173.2,592.6 169.9,589.6 165.7,588.5 162.3,585.6 157.9,584.8 154.7,581.9 150.3,581 147.2,577.7" fill="url(#gcnt)" filter="url(#ftexK)"/><defs><filter id="fsteam" x="-60%" y="-30%" width="220%" height="160%"><feTurbulence type="fractalNoise" baseFrequency="0.11" numOctaves="3" seed="4" result="n"/><feDisplacementMap in="SourceGraphic" in2="n" scale="7" xChannelSelector="R" yChannelSelector="G" result="d"/><feGaussianBlur in="d" stdDeviation="0.55"/></filter>
<g id="steam" fill="none" stroke="#fff" stroke-linecap="round" stroke-linejoin="round">
<path d="M0 0 C -0.6 -12, 1.5 -26, 2.2 -40" stroke-width="2.6" opacity="0.8" filter="url(#fblur1)"/>
<g filter="url(#fsteam)">
<path d="M2.4 -38 C 3 -46, -4 -50, -1.5 -56 C 1 -62, 7 -64, 5 -71" stroke-width="6.5" opacity="0.72"/>
<path d="M6 -46 C 10 -50, 4 -54, 8 -60" stroke-width="2.5" opacity="0.55"/>
<path d="M4.5 -70 C 10 -74, 14 -80, 9 -88 C 6 -93, 2 -96, -3 -97" stroke-width="8.5" opacity="0.72"/>
<path d="M2 -74 L 9 -92 M 6 -72 L 13 -88 M -1 -80 L 4 -96" stroke-width="2" opacity="0.5"/>
<path d="M-3 -97 C -14 -99, -27 -95, -29 -84 C -30 -76, -25 -71, -19 -71" stroke-width="3.6" opacity="0.7"/>
<path d="M-28 -80 C -27 -73, -22 -69, -20 -66" stroke-width="4.5" opacity="0.68"/>
<path d="M-19 -71 C -12 -72, -8 -76, -7 -80" stroke-width="1.6" opacity="0.4"/>
<path d="M-2 -57 C -8 -56, -14 -60, -14 -65 C -13 -68, -10 -68, -8 -66" stroke-width="3.2" opacity="0.55"/>
</g></g></defs><use href="#steam" x="214.3" y="588.5"/><use href="#steam" x="259.5" y="565.5"/><use href="#steam" x="302.4" y="584.1"/><polygon points="257.7,725 257.7,718.1 257.8,711.2 257.8,704.3 257.9,697.4 257.9,690.6 258,683.7 258.1,676.8 258.1,669.9 258.2,663 258.3,656.2 258.4,649.3 258.5,642.4 258.6,635.5 264.1,639.7 254.5,612.5 244.6,639.6 250.1,635.5 250.2,642.4 250.2,649.2 250.3,656.2 250.4,663 250.5,669.9 250.5,676.8 250.6,683.7 250.7,690.6 250.8,697.5 250.9,704.4 251.1,711.2 251.2,718.1 251.3,725" fill="none" stroke="url(#garrs)" stroke-width="3.4" stroke-linejoin="round" opacity="0.85" filter="url(#fblur1)"/><polygon points="257.7,725 257.7,718.1 257.8,711.2 257.8,704.3 257.9,697.4 257.9,690.6 258,683.7 258.1,676.8 258.1,669.9 258.2,663 258.3,656.2 258.4,649.3 258.5,642.4 258.6,635.5 264.1,639.7 254.5,612.5 244.6,639.6 250.1,635.5 250.2,642.4 250.2,649.2 250.3,656.2 250.4,663 250.5,669.9 250.5,676.8 250.6,683.7 250.7,690.6 250.8,697.5 250.9,704.4 251.1,711.2 251.2,718.1 251.3,725" fill="url(#garr)"/><polygon points="226.9,722 227.1,717.2 227.2,712.3 227.3,707.4 227.5,702.6 227.4,697.5 227,692.6 226.7,687.8 226.3,682.9 226,678.1 225,672.9 224,668.1 223,663.4 222.1,658.8 229.1,661.4 216,639.5 209.8,664.3 215.7,659.8 216.8,664.7 217.9,669.5 219,674.2 220,678.5 220.5,683.4 221,688.2 221.4,693.1 221.9,697.9 222.1,702.5 222.1,707.4 222.1,712.2 222.1,717.1 222.1,722" fill="none" stroke="url(#garrs)" stroke-width="3.4" stroke-linejoin="round" opacity="0.85" filter="url(#fblur1)"/><polygon points="226.9,722 227.1,717.2 227.2,712.3 227.3,707.4 227.5,702.6 227.4,697.5 227,692.6 226.7,687.8 226.3,682.9 226,678.1 225,672.9 224,668.1 223,663.4 222.1,658.8 229.1,661.4 216,639.5 209.8,664.3 215.7,659.8 216.8,664.7 217.9,669.5 219,674.2 220,678.5 220.5,683.4 221,688.2 221.4,693.1 221.9,697.9 222.1,702.5 222.1,707.4 222.1,712.2 222.1,717.1 222.1,722" fill="url(#garr)"/><polygon points="286.9,723 287,718 287.1,713 287.1,708.1 287.2,703.1 287.4,698.4 287.9,693.4 288.4,688.5 288.9,683.5 289.5,678.6 290.5,674.1 291.7,669.3 292.8,664.4 294,659.6 299.5,664.5 295.8,639.5 280.5,660.2 287.6,658.2 286.6,663 285.6,667.9 284.5,672.8 283.5,678 283.1,683 282.7,687.9 282.3,692.9 281.9,697.9 281.8,703.1 281.9,708.1 281.9,713 282,718 282.1,723" fill="none" stroke="url(#garrs)" stroke-width="3.4" stroke-linejoin="round" opacity="0.85" filter="url(#fblur1)"/><polygon points="286.9,723 287,718 287.1,713 287.1,708.1 287.2,703.1 287.4,698.4 287.9,693.4 288.4,688.5 288.9,683.5 289.5,678.6 290.5,674.1 291.7,669.3 292.8,664.4 294,659.6 299.5,664.5 295.8,639.5 280.5,660.2 287.6,658.2 286.6,663 285.6,667.9 284.5,672.8 283.5,678 283.1,683 282.7,687.9 282.3,692.9 281.9,697.9 281.8,703.1 281.9,708.1 281.9,713 282,718 282.1,723" fill="url(#garr)"/><polygon points="29.2,452.3 29.5,469.1 39.5,467" fill="#fdb913" stroke="#fdf3d8" stroke-width="1.2" stroke-linejoin="round"/><polygon points="59.9,456.6 48.2,468.7 56.7,474.3" fill="#fdb913" stroke="#fdf3d8" stroke-width="1.2" stroke-linejoin="round"/><polygon points="78.5,481.4 61.7,481.7 63.8,491.7" fill="#fdb913" stroke="#fdf3d8" stroke-width="1.2" stroke-linejoin="round"/><polygon points="74.2,512.1 62.1,500.4 56.5,508.9" fill="#fdb913" stroke="#fdf3d8" stroke-width="1.2" stroke-linejoin="round"/><polygon points="49.4,530.7 49.1,513.9 39.1,516" fill="#fdb913" stroke="#fdf3d8" stroke-width="1.2" stroke-linejoin="round"/><polygon points="18.7,526.4 30.4,514.3 21.9,508.7" fill="#fdb913" stroke="#fdf3d8" stroke-width="1.2" stroke-linejoin="round"/><polygon points="0.1,501.6 16.9,501.3 14.8,491.3" fill="#fdb913" stroke="#fdf3d8" stroke-width="1.2" stroke-linejoin="round"/><polygon points="4.4,470.9 16.5,482.6 22.1,474.1" fill="#fdb913" stroke="#fdf3d8" stroke-width="1.2" stroke-linejoin="round"/><circle cx="39.3" cy="491.5" r="20.6" fill="#fdf6e6"/><circle cx="39.3" cy="491.5" r="19" fill="url(#gsun)"/></g><circle cx="323.4" cy="572.8" r="14.6" fill="none" stroke="#fff" stroke-width="1.5"/><polygon points="318.8,568.6 323.7,564.2 325.5,564.2 325.5,581.4 322.2,581.4 322.2,568.2 318.8,571.2" fill="#fff"/><circle cx="323.4" cy="627.4" r="14.8" fill="none" stroke="#000" stroke-width="1.3"/><text x='323.4' y='636.4' font-size='25' text-anchor='middle' fill='#000' stroke='#000' stroke-width='0.7' style='font-family:"Liberation Sans", sans-serif'>2</text><circle cx="324" cy="683.3" r="14.8" fill="none" stroke="#000" stroke-width="1.3"/><text x='324' y='692.3' font-size='25' text-anchor='middle' fill='#000' stroke='#000' stroke-width='0.7' style='font-family:"Liberation Sans", sans-serif'>3</text><circle cx="323.6" cy="742.4" r="14.8" fill="none" stroke="#000" stroke-width="1.3"/><text x='323.6' y='751.4' font-size='25' text-anchor='middle' fill='#000' stroke='#000' stroke-width='0.7' style='font-family:"Liberation Sans", sans-serif'>4</text><circle cx="24.4" cy="822.2" r="14.8" fill="none" stroke="#000" stroke-width="1.2"/><polygon points="20,818.2 24.7,813.9 26.4,813.9 26.4,830.5 23.2,830.5 23.2,817.8 20,820.7" fill="#000"/><circle cx="265.5" cy="822.4" r="14.8" fill="none" stroke="#000" stroke-width="1.2"/><text x='265.5' y='831' font-size='24' text-anchor='middle' fill='#000' stroke='#000' stroke-width='0.7' style='font-family:"Liberation Sans", sans-serif'>2</text><circle cx="23.6" cy="882.1" r="14.8" fill="none" stroke="#000" stroke-width="1.2"/><text x='23.6' y='890.7' font-size='24' text-anchor='middle' fill='#000' stroke='#000' stroke-width='0.7' style='font-family:"Liberation Sans", sans-serif'>3</text><circle cx="265" cy="883" r="14.8" fill="none" stroke="#000" stroke-width="1.2"/><text x='265' y='891.6' font-size='24' text-anchor='middle' fill='#000' stroke='#000' stroke-width='0.7' style='font-family:"Liberation Sans", sans-serif'>4</text><text x="50.2" y="834" font-size="32" text-anchor="start" font-weight="bold" textLength="171.3" lengthAdjust="spacingAndGlyphs" >CNT@DAC</text><text x="290.7" y="834" font-size="32" text-anchor="start" font-weight="bold" textLength="220.5" lengthAdjust="spacingAndGlyphs" >Melamine foam</text><text x="49.2" y="894" font-size="32" text-anchor="start" font-weight="bold" textLength="117" lengthAdjust="spacingAndGlyphs" >PS foam</text><text x="290.7" y="894" font-size="32" text-anchor="start" font-weight="bold" textLength="88.6" lengthAdjust="spacingAndGlyphs" >Water</text><text x="292.9" y="483" font-size="32" text-anchor="start" font-weight="bold" textLength="250.5" lengthAdjust="spacingAndGlyphs" >Stacking Strategy</text><text x="0.5" y="445.3" font-size="43" text-anchor="start" font-weight="bold" textLength="48" lengthAdjust="spacingAndGlyphs" >(d)</text></g>
<defs><radialGradient id="sp-gray" cx="0.36" cy="0.30" r="0.75" fx="0.34" fy="0.27"><stop offset="0" stop-color="#fff" stop-opacity="0.9"/><stop offset="0.1" stop-color="#fff" stop-opacity="0.75"/><stop offset="0.24" stop-color="#4a4a4a"/><stop offset="0.72" stop-color="#4a4a4a"/><stop offset="1" stop-color="#2e2e2e"/></radialGradient><radialGradient id="sp-red" cx="0.36" cy="0.30" r="0.75" fx="0.34" fy="0.27"><stop offset="0" stop-color="#fff" stop-opacity="0.9"/><stop offset="0.1" stop-color="#fff" stop-opacity="0.75"/><stop offset="0.24" stop-color="#f04141"/><stop offset="0.72" stop-color="#f04141"/><stop offset="1" stop-color="#c52a2a"/></radialGradient><radialGradient id="sp-blue" cx="0.36" cy="0.30" r="0.75" fx="0.34" fy="0.27"><stop offset="0" stop-color="#fff" stop-opacity="0.9"/><stop offset="0.1" stop-color="#fff" stop-opacity="0.75"/><stop offset="0.24" stop-color="#1b6fde"/><stop offset="0.72" stop-color="#1b6fde"/><stop offset="1" stop-color="#0f4fb0"/></radialGradient><radialGradient id="sp-green" cx="0.36" cy="0.30" r="0.75" fx="0.34" fy="0.27"><stop offset="0" stop-color="#fff" stop-opacity="0.9"/><stop offset="0.1" stop-color="#fff" stop-opacity="0.75"/><stop offset="0.24" stop-color="#38ad6b"/><stop offset="0.72" stop-color="#38ad6b"/><stop offset="1" stop-color="#23804b"/></radialGradient><radialGradient id="sp-purple" cx="0.36" cy="0.30" r="0.75" fx="0.34" fy="0.27"><stop offset="0" stop-color="#fff" stop-opacity="0.9"/><stop offset="0.1" stop-color="#fff" stop-opacity="0.75"/><stop offset="0.24" stop-color="#b177de"/><stop offset="0.72" stop-color="#b177de"/><stop offset="1" stop-color="#8a52b8"/></radialGradient><radialGradient id="sp-cyan" cx="0.36" cy="0.30" r="0.75" fx="0.34" fy="0.27"><stop offset="0" stop-color="#fff" stop-opacity="0.9"/><stop offset="0.1" stop-color="#fff" stop-opacity="0.75"/><stop offset="0.24" stop-color="#0ccbcd"/><stop offset="0.72" stop-color="#0ccbcd"/><stop offset="1" stop-color="#0aa3a4"/></radialGradient><radialGradient id="sp-navy" cx="0.36" cy="0.30" r="0.75" fx="0.34" fy="0.27"><stop offset="0" stop-color="#fff" stop-opacity="0.9"/><stop offset="0.1" stop-color="#fff" stop-opacity="0.75"/><stop offset="0.24" stop-color="#0a0a9a"/><stop offset="0.72" stop-color="#0a0a9a"/><stop offset="1" stop-color="#04046a"/></radialGradient></defs><g><circle cx="654" cy="482.5" r="6.1" fill="url(#sp-gray)"/><circle cx="688.3" cy="503.2" r="6.1" fill="url(#sp-gray)"/><circle cx="722.5" cy="525.4" r="6.1" fill="url(#sp-gray)"/><circle cx="756.8" cy="547.9" r="6.1" fill="url(#sp-gray)"/><circle cx="791.1" cy="571.3" r="6.1" fill="url(#sp-gray)"/><circle cx="825.3" cy="595.1" r="6.1" fill="url(#sp-gray)"/><circle cx="859.6" cy="620.4" r="6.1" fill="url(#sp-gray)"/><circle cx="893.9" cy="645.8" r="6.1" fill="url(#sp-gray)"/><circle cx="928.1" cy="670.7" r="6.1" fill="url(#sp-gray)"/><circle cx="962.4" cy="696.3" r="6.1" fill="url(#sp-gray)"/><circle cx="996.7" cy="722.7" r="6.1" fill="url(#sp-gray)"/><circle cx="1030.9" cy="749.9" r="6.1" fill="url(#sp-gray)"/><circle cx="1065.2" cy="778.1" r="6.1" fill="url(#sp-gray)"/><circle cx="654" cy="482.5" r="6.1" fill="url(#sp-red)"/><circle cx="688.3" cy="507" r="6.1" fill="url(#sp-red)"/><circle cx="722.5" cy="531.9" r="6.1" fill="url(#sp-red)"/><circle cx="756.8" cy="557.7" r="6.1" fill="url(#sp-red)"/><circle cx="791.1" cy="584.2" r="6.1" fill="url(#sp-red)"/><circle cx="825.3" cy="610" r="6.1" fill="url(#sp-red)"/><circle cx="859.6" cy="636.6" r="6.1" fill="url(#sp-red)"/><circle cx="893.9" cy="661.1" r="6.1" fill="url(#sp-red)"/><circle cx="928.1" cy="685.6" r="6.1" fill="url(#sp-red)"/><circle cx="962.4" cy="712.5" r="6.1" fill="url(#sp-red)"/><circle cx="996.7" cy="738.1" r="6.1" fill="url(#sp-red)"/><circle cx="1030.9" cy="763.7" r="6.1" fill="url(#sp-red)"/><circle cx="1065.2" cy="789.7" r="6.1" fill="url(#sp-red)"/><circle cx="654" cy="482.5" r="6.1" fill="url(#sp-blue)"/><circle cx="688.3" cy="505.9" r="6.1" fill="url(#sp-blue)"/><circle cx="722.5" cy="530.8" r="6.1" fill="url(#sp-blue)"/><circle cx="756.8" cy="554.8" r="6.1" fill="url(#sp-blue)"/><circle cx="791.1" cy="582.4" r="6.1" fill="url(#sp-blue)"/><circle cx="825.3" cy="608" r="6.1" fill="url(#sp-blue)"/><circle cx="859.6" cy="635.1" r="6.1" fill="url(#sp-blue)"/><circle cx="893.9" cy="662" r="6.1" fill="url(#sp-blue)"/><circle cx="928.1" cy="689.8" r="6.1" fill="url(#sp-blue)"/><circle cx="962.4" cy="718.5" r="6.1" fill="url(#sp-blue)"/><circle cx="996.7" cy="747.6" r="6.1" fill="url(#sp-blue)"/><circle cx="1030.9" cy="777" r="6.1" fill="url(#sp-blue)"/><circle cx="1065.2" cy="809.5" r="6.1" fill="url(#sp-blue)"/><circle cx="654" cy="482.5" r="6.1" fill="url(#sp-green)"/><circle cx="688.3" cy="508.5" r="6.1" fill="url(#sp-green)"/><circle cx="722.5" cy="535" r="6.1" fill="url(#sp-green)"/><circle cx="756.8" cy="562.8" r="6.1" fill="url(#sp-green)"/><circle cx="791.1" cy="591" r="6.1" fill="url(#sp-green)"/><circle cx="825.3" cy="619.7" r="6.1" fill="url(#sp-green)"/><circle cx="859.6" cy="650.4" r="6.1" fill="url(#sp-green)"/><circle cx="893.9" cy="678.2" r="6.1" fill="url(#sp-green)"/><circle cx="928.1" cy="708.9" r="6.1" fill="url(#sp-green)"/><circle cx="962.4" cy="738.3" r="6.1" fill="url(#sp-green)"/><circle cx="996.7" cy="768.3" r="6.1" fill="url(#sp-green)"/><circle cx="1030.9" cy="800.4" r="6.1" fill="url(#sp-green)"/><circle cx="1065.2" cy="833.7" r="6.1" fill="url(#sp-green)"/><circle cx="654" cy="482.5" r="6.1" fill="url(#sp-purple)"/><circle cx="688.3" cy="503.9" r="6.1" fill="url(#sp-purple)"/><circle cx="722.5" cy="527.2" r="6.1" fill="url(#sp-purple)"/><circle cx="756.8" cy="549.9" r="6.1" fill="url(#sp-purple)"/><circle cx="791.1" cy="572.8" r="6.1" fill="url(#sp-purple)"/><circle cx="825.3" cy="596.2" r="6.1" fill="url(#sp-purple)"/><circle cx="859.6" cy="619.5" r="6.1" fill="url(#sp-purple)"/><circle cx="893.9" cy="641.5" r="6.1" fill="url(#sp-purple)"/><circle cx="928.1" cy="664.2" r="6.1" fill="url(#sp-purple)"/><circle cx="962.4" cy="687.1" r="6.1" fill="url(#sp-purple)"/><circle cx="996.7" cy="710.1" r="6.1" fill="url(#sp-purple)"/><circle cx="1030.9" cy="733" r="6.1" fill="url(#sp-purple)"/><circle cx="1065.2" cy="755.7" r="6.1" fill="url(#sp-purple)"/><circle cx="654" cy="482.5" r="6.1" fill="url(#sp-cyan)"/><circle cx="688.3" cy="485.2" r="6.1" fill="url(#sp-cyan)"/><circle cx="722.5" cy="492.7" r="6.1" fill="url(#sp-cyan)"/><circle cx="756.8" cy="505" r="6.1" fill="url(#sp-cyan)"/><circle cx="791.1" cy="517" r="6.1" fill="url(#sp-cyan)"/><circle cx="825.3" cy="529.2" r="6.1" fill="url(#sp-cyan)"/><circle cx="859.6" cy="542.1" r="6.1" fill="url(#sp-cyan)"/><circle cx="893.9" cy="556.3" r="6.1" fill="url(#sp-cyan)"/><circle cx="928.1" cy="570.8" r="6.1" fill="url(#sp-cyan)"/><circle cx="962.4" cy="586.6" r="6.1" fill="url(#sp-cyan)"/><circle cx="996.7" cy="602.2" r="6.1" fill="url(#sp-cyan)"/><circle cx="1030.9" cy="616.9" r="6.1" fill="url(#sp-cyan)"/><circle cx="1065.2" cy="629.3" r="6.1" fill="url(#sp-cyan)"/><circle cx="654" cy="482.5" r="6.1" fill="url(#sp-navy)"/><circle cx="688.3" cy="485.8" r="6.1" fill="url(#sp-navy)"/><circle cx="722.5" cy="492.1" r="6.1" fill="url(#sp-navy)"/><circle cx="756.8" cy="496.7" r="6.1" fill="url(#sp-navy)"/><circle cx="791.1" cy="504.7" r="6.1" fill="url(#sp-navy)"/><circle cx="825.3" cy="510.7" r="6.1" fill="url(#sp-navy)"/><circle cx="859.6" cy="519.6" r="6.1" fill="url(#sp-navy)"/><circle cx="893.9" cy="524.5" r="6.1" fill="url(#sp-navy)"/><circle cx="928.1" cy="531.4" r="6.1" fill="url(#sp-navy)"/><circle cx="962.4" cy="537.9" r="6.1" fill="url(#sp-navy)"/><circle cx="996.7" cy="544.8" r="6.1" fill="url(#sp-navy)"/><circle cx="1030.9" cy="551.5" r="6.1" fill="url(#sp-navy)"/><circle cx="1065.2" cy="557.9" r="6.1" fill="url(#sp-navy)"/><line x1="626" y1="471.9" x2="1094" y2="471.9" stroke="#000" stroke-width="2" /><line x1="626" y1="861" x2="1094" y2="861" stroke="#000" stroke-width="1.7" /><line x1="627" y1="471.9" x2="627" y2="861" stroke="#000" stroke-width="2" /><line x1="1093" y1="471.9" x2="1093" y2="861" stroke="#000" stroke-width="2" /><line x1="654" y1="861" x2="654" y2="869" stroke="#000" stroke-width="1.5" /><text x="654" y="889" font-size="18.2" text-anchor="middle" font-weight="bold" >0</text><line x1="688.3" y1="861" x2="688.3" y2="869" stroke="#000" stroke-width="1.5" /><text x="688.3" y="889" font-size="18.2" text-anchor="middle" font-weight="bold" >5</text><line x1="722.5" y1="861" x2="722.5" y2="869" stroke="#000" stroke-width="1.5" /><text x="722.5" y="889" font-size="18.2" text-anchor="middle" font-weight="bold" textLength="16.9" lengthAdjust="spacingAndGlyphs" >10</text><line x1="756.8" y1="861" x2="756.8" y2="869" stroke="#000" stroke-width="1.5" /><text x="756.8" y="889" font-size="18.2" text-anchor="middle" font-weight="bold" textLength="16.9" lengthAdjust="spacingAndGlyphs" >15</text><line x1="791.1" y1="861" x2="791.1" y2="869" stroke="#000" stroke-width="1.5" /><text x="791.1" y="889" font-size="18.2" text-anchor="middle" font-weight="bold" textLength="16.9" lengthAdjust="spacingAndGlyphs" >20</text><line x1="825.3" y1="861" x2="825.3" y2="869" stroke="#000" stroke-width="1.5" /><text x="825.3" y="889" font-size="18.2" text-anchor="middle" font-weight="bold" textLength="16.9" lengthAdjust="spacingAndGlyphs" >25</text><line x1="859.6" y1="861" x2="859.6" y2="869" stroke="#000" stroke-width="1.5" /><text x="859.6" y="889" font-size="18.2" text-anchor="middle" font-weight="bold" textLength="16.9" lengthAdjust="spacingAndGlyphs" >30</text><line x1="893.9" y1="861" x2="893.9" y2="869" stroke="#000" stroke-width="1.5" /><text x="893.9" y="889" font-size="18.2" text-anchor="middle" font-weight="bold" textLength="16.9" lengthAdjust="spacingAndGlyphs" >35</text><line x1="928.1" y1="861" x2="928.1" y2="869" stroke="#000" stroke-width="1.5" /><text x="928.1" y="889" font-size="18.2" text-anchor="middle" font-weight="bold" textLength="16.9" lengthAdjust="spacingAndGlyphs" >40</text><line x1="962.4" y1="861" x2="962.4" y2="869" stroke="#000" stroke-width="1.5" /><text x="962.4" y="889" font-size="18.2" text-anchor="middle" font-weight="bold" textLength="16.9" lengthAdjust="spacingAndGlyphs" >45</text><line x1="996.7" y1="861" x2="996.7" y2="869" stroke="#000" stroke-width="1.5" /><text x="996.7" y="889" font-size="18.2" text-anchor="middle" font-weight="bold" textLength="16.9" lengthAdjust="spacingAndGlyphs" >50</text><line x1="1030.9" y1="861" x2="1030.9" y2="869" stroke="#000" stroke-width="1.5" /><text x="1030.9" y="889" font-size="18.2" text-anchor="middle" font-weight="bold" textLength="16.9" lengthAdjust="spacingAndGlyphs" >55</text><line x1="1065.2" y1="861" x2="1065.2" y2="869" stroke="#000" stroke-width="1.5" /><text x="1065.2" y="889" font-size="18.2" text-anchor="middle" font-weight="bold" textLength="16.9" lengthAdjust="spacingAndGlyphs" >60</text><line x1="620" y1="482.5" x2="627" y2="482.5" stroke="#000" stroke-width="1.8" /><text x="613.8" y="488.7" font-size="18.2" text-anchor="end" font-weight="bold" textLength="21.2" lengthAdjust="spacingAndGlyphs" >0.0</text><line x1="620" y1="527" x2="627" y2="527" stroke="#000" stroke-width="1.8" /><text x="613.8" y="533.2" font-size="18.2" text-anchor="end" font-weight="bold" textLength="26.8" lengthAdjust="spacingAndGlyphs" >-0.2</text><line x1="620" y1="571.5" x2="627" y2="571.5" stroke="#000" stroke-width="1.8" /><text x="613.8" y="577.7" font-size="18.2" text-anchor="end" font-weight="bold" textLength="26.8" lengthAdjust="spacingAndGlyphs" >-0.4</text><line x1="620" y1="616" x2="627" y2="616" stroke="#000" stroke-width="1.8" /><text x="613.8" y="622.2" font-size="18.2" text-anchor="end" font-weight="bold" textLength="26.8" lengthAdjust="spacingAndGlyphs" >-0.6</text><line x1="620" y1="660.4" x2="627" y2="660.4" stroke="#000" stroke-width="1.8" /><text x="613.8" y="666.6" font-size="18.2" text-anchor="end" font-weight="bold" textLength="26.8" lengthAdjust="spacingAndGlyphs" >-0.8</text><line x1="620" y1="704.9" x2="627" y2="704.9" stroke="#000" stroke-width="1.8" /><text x="613.8" y="711.1" font-size="18.2" text-anchor="end" font-weight="bold" textLength="26.8" lengthAdjust="spacingAndGlyphs" >-1.0</text><line x1="620" y1="749.4" x2="627" y2="749.4" stroke="#000" stroke-width="1.8" /><text x="613.8" y="755.6" font-size="18.2" text-anchor="end" font-weight="bold" textLength="26.8" lengthAdjust="spacingAndGlyphs" >-1.2</text><line x1="620" y1="793.9" x2="627" y2="793.9" stroke="#000" stroke-width="1.8" /><text x="613.8" y="800.1" font-size="18.2" text-anchor="end" font-weight="bold" textLength="26.8" lengthAdjust="spacingAndGlyphs" >-1.4</text><line x1="620" y1="838.4" x2="627" y2="838.4" stroke="#000" stroke-width="1.8" /><text x="613.8" y="844.6" font-size="18.2" text-anchor="end" font-weight="bold" textLength="26.8" lengthAdjust="spacingAndGlyphs" >-1.6</text><line x1="623" y1="504.7" x2="627" y2="504.7" stroke="#000" stroke-width="1.8" /><line x1="623" y1="549.2" x2="627" y2="549.2" stroke="#000" stroke-width="1.8" /><line x1="623" y1="593.7" x2="627" y2="593.7" stroke="#000" stroke-width="1.8" /><line x1="623" y1="638.2" x2="627" y2="638.2" stroke="#000" stroke-width="1.8" /><line x1="623" y1="682.7" x2="627" y2="682.7" stroke="#000" stroke-width="1.8" /><line x1="623" y1="727.2" x2="627" y2="727.2" stroke="#000" stroke-width="1.8" /><line x1="623" y1="771.7" x2="627" y2="771.7" stroke="#000" stroke-width="1.8" /><line x1="623" y1="816.2" x2="627" y2="816.2" stroke="#000" stroke-width="1.8" /><text x="567" y="665.5" font-size="18" text-anchor="middle" font-weight="bold" transform="rotate(-90 567 665.5)" textLength="187" lengthAdjust="spacingAndGlyphs" >Mass change (Kg/m<tspan dy="-7" font-size="12.5">2</tspan><tspan dy="7">)</tspan></text><text x="860" y="921" font-size="20" text-anchor="middle" font-weight="bold" textLength="93" lengthAdjust="spacingAndGlyphs" >Time (min)</text><circle cx="650" cy="696.3" r="6.1" fill="url(#sp-gray)"/><text x="670" y="702.8" font-size="19.8" text-anchor="start" font-weight="bold" textLength="120" lengthAdjust="spacingAndGlyphs" >CNT@DAC#1</text><circle cx="650" cy="721.6" r="6.1" fill="url(#sp-red)"/><text x="670" y="728.1" font-size="19.8" text-anchor="start" font-weight="bold" textLength="120" lengthAdjust="spacingAndGlyphs" >CNT@DAC#2</text><circle cx="650" cy="746.9" r="6.1" fill="url(#sp-blue)"/><text x="670" y="753.4" font-size="19.8" text-anchor="start" font-weight="bold" textLength="120" lengthAdjust="spacingAndGlyphs" >CNT@DAC#3</text><circle cx="650" cy="772.2" r="6.1" fill="url(#sp-green)"/><text x="670" y="778.7" font-size="19.8" text-anchor="start" font-weight="bold" textLength="120" lengthAdjust="spacingAndGlyphs" >CNT@DAC#4</text><circle cx="650" cy="797.5" r="6.1" fill="url(#sp-purple)"/><text x="675" y="804" font-size="19.8" text-anchor="start" font-weight="bold" textLength="120" lengthAdjust="spacingAndGlyphs" >CNT@DAC#5</text><circle cx="650" cy="822.8" r="6.1" fill="url(#sp-cyan)"/><text x="675" y="829.3" font-size="19.8" text-anchor="start" font-weight="bold" textLength="100.5" lengthAdjust="spacingAndGlyphs" >CNT@DAC</text><circle cx="650" cy="848.1" r="6.1" fill="url(#sp-navy)"/><text x="675" y="854.6" font-size="19.8" text-anchor="start" font-weight="bold" textLength="52" lengthAdjust="spacingAndGlyphs" >Water</text><text x="540" y="446.3" font-size="43" text-anchor="start" font-weight="bold" textLength="44" lengthAdjust="spacingAndGlyphs" >(e)</text></g><g><polyline points="1170.4,831.2 1208.4,698.1 1246.4,683.1 1284.4,666.8 1322.4,668.1 1360.4,666.8 1398.4,666.8 1436.4,655.1 1474.4,655.1 1512.4,659 1550.4,656.4 1588.4,653.8 1626.4,652.5" fill="none" stroke="#4a4a4a" stroke-width="2" stroke-linejoin="round" /><circle cx="1170.4" cy="831.2" r="6.3" fill="url(#sp-gray)"/><circle cx="1208.4" cy="698.1" r="6.3" fill="url(#sp-gray)"/><circle cx="1246.4" cy="683.1" r="6.3" fill="url(#sp-gray)"/><circle cx="1284.4" cy="666.8" r="6.3" fill="url(#sp-gray)"/><circle cx="1322.4" cy="668.1" r="6.3" fill="url(#sp-gray)"/><circle cx="1360.4" cy="666.8" r="6.3" fill="url(#sp-gray)"/><circle cx="1398.4" cy="666.8" r="6.3" fill="url(#sp-gray)"/><circle cx="1436.4" cy="655.1" r="6.3" fill="url(#sp-gray)"/><circle cx="1474.4" cy="655.1" r="6.3" fill="url(#sp-gray)"/><circle cx="1512.4" cy="659" r="6.3" fill="url(#sp-gray)"/><circle cx="1550.4" cy="656.4" r="6.3" fill="url(#sp-gray)"/><circle cx="1588.4" cy="653.8" r="6.3" fill="url(#sp-gray)"/><circle cx="1626.4" cy="652.5" r="6.3" fill="url(#sp-gray)"/><polyline points="1170.4,831.2 1208.4,749 1246.4,733.4 1284.4,695.5 1322.4,665.5 1360.4,657.7 1398.4,631.6 1436.4,635.5 1474.4,632.9 1512.4,625.1 1550.4,627.7 1588.4,629 1626.4,626.4" fill="none" stroke="#f04141" stroke-width="2" stroke-linejoin="round" /><circle cx="1170.4" cy="831.2" r="6.3" fill="url(#sp-red)"/><circle cx="1208.4" cy="749" r="6.3" fill="url(#sp-red)"/><circle cx="1246.4" cy="733.4" r="6.3" fill="url(#sp-red)"/><circle cx="1284.4" cy="695.5" r="6.3" fill="url(#sp-red)"/><circle cx="1322.4" cy="665.5" r="6.3" fill="url(#sp-red)"/><circle cx="1360.4" cy="657.7" r="6.3" fill="url(#sp-red)"/><circle cx="1398.4" cy="631.6" r="6.3" fill="url(#sp-red)"/><circle cx="1436.4" cy="635.5" r="6.3" fill="url(#sp-red)"/><circle cx="1474.4" cy="632.9" r="6.3" fill="url(#sp-red)"/><circle cx="1512.4" cy="625.1" r="6.3" fill="url(#sp-red)"/><circle cx="1550.4" cy="627.7" r="6.3" fill="url(#sp-red)"/><circle cx="1588.4" cy="629" r="6.3" fill="url(#sp-red)"/><circle cx="1626.4" cy="626.4" r="6.3" fill="url(#sp-red)"/><polyline points="1170.4,831.2 1208.4,734.7 1246.4,709.9 1284.4,683.8 1322.4,651.2 1360.4,649.9 1398.4,645.9 1436.4,639.4 1474.4,631.6 1512.4,634.2 1550.4,629 1588.4,627.7 1626.4,623.8" fill="none" stroke="#1b6fde" stroke-width="2" stroke-linejoin="round" /><circle cx="1170.4" cy="831.2" r="6.3" fill="url(#sp-blue)"/><circle cx="1208.4" cy="734.7" r="6.3" fill="url(#sp-blue)"/><circle cx="1246.4" cy="709.9" r="6.3" fill="url(#sp-blue)"/><circle cx="1284.4" cy="683.8" r="6.3" fill="url(#sp-blue)"/><circle cx="1322.4" cy="651.2" r="6.3" fill="url(#sp-blue)"/><circle cx="1360.4" cy="649.9" r="6.3" fill="url(#sp-blue)"/><circle cx="1398.4" cy="645.9" r="6.3" fill="url(#sp-blue)"/><circle cx="1436.4" cy="639.4" r="6.3" fill="url(#sp-blue)"/><circle cx="1474.4" cy="631.6" r="6.3" fill="url(#sp-blue)"/><circle cx="1512.4" cy="634.2" r="6.3" fill="url(#sp-blue)"/><circle cx="1550.4" cy="629" r="6.3" fill="url(#sp-blue)"/><circle cx="1588.4" cy="627.7" r="6.3" fill="url(#sp-blue)"/><circle cx="1626.4" cy="623.8" r="6.3" fill="url(#sp-blue)"/><polyline points="1170.4,831.2 1208.4,677.3 1246.4,644.6 1284.4,644.6 1322.4,644.6 1360.4,636.8 1398.4,623.8 1436.4,619.8 1474.4,614.6 1512.4,615.9 1550.4,612 1588.4,606.8 1626.4,602.9" fill="none" stroke="#38ad6b" stroke-width="2" stroke-linejoin="round" /><circle cx="1170.4" cy="831.2" r="6.3" fill="url(#sp-green)"/><circle cx="1208.4" cy="677.3" r="6.3" fill="url(#sp-green)"/><circle cx="1246.4" cy="644.6" r="6.3" fill="url(#sp-green)"/><circle cx="1284.4" cy="644.6" r="6.3" fill="url(#sp-green)"/><circle cx="1322.4" cy="644.6" r="6.3" fill="url(#sp-green)"/><circle cx="1360.4" cy="636.8" r="6.3" fill="url(#sp-green)"/><circle cx="1398.4" cy="623.8" r="6.3" fill="url(#sp-green)"/><circle cx="1436.4" cy="619.8" r="6.3" fill="url(#sp-green)"/><circle cx="1474.4" cy="614.6" r="6.3" fill="url(#sp-green)"/><circle cx="1512.4" cy="615.9" r="6.3" fill="url(#sp-green)"/><circle cx="1550.4" cy="612" r="6.3" fill="url(#sp-green)"/><circle cx="1588.4" cy="606.8" r="6.3" fill="url(#sp-green)"/><circle cx="1626.4" cy="602.9" r="6.3" fill="url(#sp-green)"/><polyline points="1170.4,831.2 1208.4,769.9 1246.4,758.2 1284.4,738.6 1322.4,720.3 1360.4,711.2 1398.4,709.9 1436.4,696.8 1474.4,690.3 1512.4,690.3 1550.4,689 1588.4,687.7 1626.4,681.2" fill="none" stroke="#b177de" stroke-width="2" stroke-linejoin="round" /><circle cx="1170.4" cy="831.2" r="6.3" fill="url(#sp-purple)"/><circle cx="1208.4" cy="769.9" r="6.3" fill="url(#sp-purple)"/><circle cx="1246.4" cy="758.2" r="6.3" fill="url(#sp-purple)"/><circle cx="1284.4" cy="738.6" r="6.3" fill="url(#sp-purple)"/><circle cx="1322.4" cy="720.3" r="6.3" fill="url(#sp-purple)"/><circle cx="1360.4" cy="711.2" r="6.3" fill="url(#sp-purple)"/><circle cx="1398.4" cy="709.9" r="6.3" fill="url(#sp-purple)"/><circle cx="1436.4" cy="696.8" r="6.3" fill="url(#sp-purple)"/><circle cx="1474.4" cy="690.3" r="6.3" fill="url(#sp-purple)"/><circle cx="1512.4" cy="690.3" r="6.3" fill="url(#sp-purple)"/><circle cx="1550.4" cy="689" r="6.3" fill="url(#sp-purple)"/><circle cx="1588.4" cy="687.7" r="6.3" fill="url(#sp-purple)"/><circle cx="1626.4" cy="681.2" r="6.3" fill="url(#sp-purple)"/><polyline points="1170.4,831.2 1208.4,811.7 1246.4,789.5 1284.4,775.1 1322.4,766 1360.4,762.1 1398.4,756.9 1436.4,754.3 1474.4,750.3 1512.4,749 1550.4,741.2 1588.4,739.9 1626.4,738.6" fill="none" stroke="#0ccbcd" stroke-width="2" stroke-linejoin="round" /><circle cx="1170.4" cy="831.2" r="6.3" fill="url(#sp-cyan)"/><circle cx="1208.4" cy="811.7" r="6.3" fill="url(#sp-cyan)"/><circle cx="1246.4" cy="789.5" r="6.3" fill="url(#sp-cyan)"/><circle cx="1284.4" cy="775.1" r="6.3" fill="url(#sp-cyan)"/><circle cx="1322.4" cy="766" r="6.3" fill="url(#sp-cyan)"/><circle cx="1360.4" cy="762.1" r="6.3" fill="url(#sp-cyan)"/><circle cx="1398.4" cy="756.9" r="6.3" fill="url(#sp-cyan)"/><circle cx="1436.4" cy="754.3" r="6.3" fill="url(#sp-cyan)"/><circle cx="1474.4" cy="750.3" r="6.3" fill="url(#sp-cyan)"/><circle cx="1512.4" cy="749" r="6.3" fill="url(#sp-cyan)"/><circle cx="1550.4" cy="741.2" r="6.3" fill="url(#sp-cyan)"/><circle cx="1588.4" cy="739.9" r="6.3" fill="url(#sp-cyan)"/><circle cx="1626.4" cy="738.6" r="6.3" fill="url(#sp-cyan)"/><line x1="1154.9" y1="478.9" x2="1642.8" y2="478.9" stroke="#000" stroke-width="2.2" /><line x1="1154.9" y1="870.4" x2="1642.8" y2="870.4" stroke="#000" stroke-width="2" /><line x1="1155.6" y1="478.9" x2="1155.6" y2="870.4" stroke="#000" stroke-width="1.3" /><line x1="1642.1" y1="478.9" x2="1642.1" y2="870.4" stroke="#000" stroke-width="1.3" /><line x1="1170.4" y1="870.4" x2="1170.4" y2="877.8" stroke="#000" stroke-width="1.8" /><text x="1170.4" y="897.7" font-size="18.5" text-anchor="middle" font-weight="bold" >0</text><line x1="1208.4" y1="870.4" x2="1208.4" y2="877.8" stroke="#000" stroke-width="1.8" /><text x="1208.4" y="897.7" font-size="18.5" text-anchor="middle" font-weight="bold" >5</text><line x1="1246.4" y1="870.4" x2="1246.4" y2="877.8" stroke="#000" stroke-width="1.8" /><text x="1246.4" y="897.7" font-size="18.5" text-anchor="middle" font-weight="bold" >10</text><line x1="1284.4" y1="870.4" x2="1284.4" y2="877.8" stroke="#000" stroke-width="1.8" /><text x="1284.4" y="897.7" font-size="18.5" text-anchor="middle" font-weight="bold" >15</text><line x1="1322.4" y1="870.4" x2="1322.4" y2="877.8" stroke="#000" stroke-width="1.8" /><text x="1322.4" y="897.7" font-size="18.5" text-anchor="middle" font-weight="bold" >20</text><line x1="1360.4" y1="870.4" x2="1360.4" y2="877.8" stroke="#000" stroke-width="1.8" /><text x="1360.4" y="897.7" font-size="18.5" text-anchor="middle" font-weight="bold" >25</text><line x1="1398.4" y1="870.4" x2="1398.4" y2="877.8" stroke="#000" stroke-width="1.8" /><text x="1398.4" y="897.7" font-size="18.5" text-anchor="middle" font-weight="bold" >30</text><line x1="1436.4" y1="870.4" x2="1436.4" y2="877.8" stroke="#000" stroke-width="1.8" /><text x="1436.4" y="897.7" font-size="18.5" text-anchor="middle" font-weight="bold" >35</text><line x1="1474.4" y1="870.4" x2="1474.4" y2="877.8" stroke="#000" stroke-width="1.8" /><text x="1474.4" y="897.7" font-size="18.5" text-anchor="middle" font-weight="bold" >40</text><line x1="1512.4" y1="870.4" x2="1512.4" y2="877.8" stroke="#000" stroke-width="1.8" /><text x="1512.4" y="897.7" font-size="18.5" text-anchor="middle" font-weight="bold" >45</text><line x1="1550.4" y1="870.4" x2="1550.4" y2="877.8" stroke="#000" stroke-width="1.8" /><text x="1550.4" y="897.7" font-size="18.5" text-anchor="middle" font-weight="bold" >50</text><line x1="1588.4" y1="870.4" x2="1588.4" y2="877.8" stroke="#000" stroke-width="1.8" /><text x="1588.4" y="897.7" font-size="18.5" text-anchor="middle" font-weight="bold" >55</text><line x1="1626.4" y1="870.4" x2="1626.4" y2="877.8" stroke="#000" stroke-width="1.8" /><text x="1626.4" y="897.7" font-size="18.5" text-anchor="middle" font-weight="bold" >60</text><line x1="1189.4" y1="870.4" x2="1189.4" y2="873.9" stroke="#000" stroke-width="1.8" /><line x1="1227.4" y1="870.4" x2="1227.4" y2="873.9" stroke="#000" stroke-width="1.8" /><line x1="1265.4" y1="870.4" x2="1265.4" y2="873.9" stroke="#000" stroke-width="1.8" /><line x1="1303.4" y1="870.4" x2="1303.4" y2="873.9" stroke="#000" stroke-width="1.8" /><line x1="1341.4" y1="870.4" x2="1341.4" y2="873.9" stroke="#000" stroke-width="1.8" /><line x1="1379.4" y1="870.4" x2="1379.4" y2="873.9" stroke="#000" stroke-width="1.8" /><line x1="1417.4" y1="870.4" x2="1417.4" y2="873.9" stroke="#000" stroke-width="1.8" /><line x1="1455.4" y1="870.4" x2="1455.4" y2="873.9" stroke="#000" stroke-width="1.8" /><line x1="1493.4" y1="870.4" x2="1493.4" y2="873.9" stroke="#000" stroke-width="1.8" /><line x1="1531.4" y1="870.4" x2="1531.4" y2="873.9" stroke="#000" stroke-width="1.8" /><line x1="1569.4" y1="870.4" x2="1569.4" y2="873.9" stroke="#000" stroke-width="1.8" /><line x1="1607.4" y1="870.4" x2="1607.4" y2="873.9" stroke="#000" stroke-width="1.8" /><line x1="1148.1" y1="870.4" x2="1155.6" y2="870.4" stroke="#000" stroke-width="1.8" /><text x="1142.2" y="876.7" font-size="18.5" text-anchor="end" font-weight="bold" >15</text><line x1="1148.1" y1="805.1" x2="1155.6" y2="805.1" stroke="#000" stroke-width="1.8" /><text x="1142.2" y="811.4" font-size="18.5" text-anchor="end" font-weight="bold" >20</text><line x1="1148.1" y1="739.9" x2="1155.6" y2="739.9" stroke="#000" stroke-width="1.8" /><text x="1142.2" y="746.2" font-size="18.5" text-anchor="end" font-weight="bold" >25</text><line x1="1148.1" y1="674.6" x2="1155.6" y2="674.6" stroke="#000" stroke-width="1.8" /><text x="1142.2" y="680.9" font-size="18.5" text-anchor="end" font-weight="bold" >30</text><line x1="1148.1" y1="609.4" x2="1155.6" y2="609.4" stroke="#000" stroke-width="1.8" /><text x="1142.2" y="615.7" font-size="18.5" text-anchor="end" font-weight="bold" >35</text><line x1="1148.1" y1="544.1" x2="1155.6" y2="544.1" stroke="#000" stroke-width="1.8" /><text x="1142.2" y="550.4" font-size="18.5" text-anchor="end" font-weight="bold" >40</text><line x1="1148.1" y1="478.9" x2="1155.6" y2="478.9" stroke="#000" stroke-width="1.8" /><text x="1142.2" y="485.2" font-size="18.5" text-anchor="end" font-weight="bold" >45</text><line x1="1151.6" y1="837.8" x2="1155.6" y2="837.8" stroke="#000" stroke-width="1.8" /><line x1="1151.6" y1="772.5" x2="1155.6" y2="772.5" stroke="#000" stroke-width="1.8" /><line x1="1151.6" y1="707.3" x2="1155.6" y2="707.3" stroke="#000" stroke-width="1.8" /><line x1="1151.6" y1="642" x2="1155.6" y2="642" stroke="#000" stroke-width="1.8" /><line x1="1151.6" y1="576.8" x2="1155.6" y2="576.8" stroke="#000" stroke-width="1.8" /><line x1="1151.6" y1="511.5" x2="1155.6" y2="511.5" stroke="#000" stroke-width="1.8" /><text x="1114.5" y="680" font-size="18" text-anchor="middle" font-weight="bold" transform="rotate(-90 1114.5 680)" textLength="159" lengthAdjust="spacingAndGlyphs" >Temperature (°C )</text><text x="1398" y="925" font-size="20" text-anchor="middle" font-weight="bold" textLength="96" lengthAdjust="spacingAndGlyphs" >Time (min)</text><line x1="1158" y1="491" x2="1205" y2="491" stroke="#4a4a4a" stroke-width="2" /><circle cx="1181.5" cy="491" r="6.3" fill="url(#sp-gray)"/><text x="1209.5" y="497.5" font-size="19.8" text-anchor="start" font-weight="bold" textLength="126" lengthAdjust="spacingAndGlyphs" >CNT@DAC#1</text><line x1="1158" y1="516.5" x2="1205" y2="516.5" stroke="#f04141" stroke-width="2" /><circle cx="1181.5" cy="516.5" r="6.3" fill="url(#sp-red)"/><text x="1209.5" y="523" font-size="19.8" text-anchor="start" font-weight="bold" textLength="126" lengthAdjust="spacingAndGlyphs" >CNT@DAC#2</text><line x1="1158" y1="542" x2="1205" y2="542" stroke="#1b6fde" stroke-width="2" /><circle cx="1181.5" cy="542" r="6.3" fill="url(#sp-blue)"/><text x="1209.5" y="548.5" font-size="19.8" text-anchor="start" font-weight="bold" textLength="126" lengthAdjust="spacingAndGlyphs" >CNT@DAC#3</text><line x1="1158" y1="567.5" x2="1205" y2="567.5" stroke="#38ad6b" stroke-width="2" /><circle cx="1181.5" cy="567.5" r="6.3" fill="url(#sp-green)"/><text x="1209.5" y="574" font-size="19.8" text-anchor="start" font-weight="bold" textLength="126" lengthAdjust="spacingAndGlyphs" >CNT@DAC#4</text><line x1="1158" y1="593" x2="1205" y2="593" stroke="#b177de" stroke-width="2" /><circle cx="1181.5" cy="593" r="6.3" fill="url(#sp-purple)"/><text x="1209.5" y="599.5" font-size="19.8" text-anchor="start" font-weight="bold" textLength="126" lengthAdjust="spacingAndGlyphs" >CNT@DAC#5</text><line x1="1158" y1="618.5" x2="1205" y2="618.5" stroke="#0ccbcd" stroke-width="2" /><circle cx="1181.5" cy="618.5" r="6.3" fill="url(#sp-cyan)"/><text x="1209.5" y="625" font-size="19.8" text-anchor="start" font-weight="bold" textLength="105" lengthAdjust="spacingAndGlyphs" >CNT@DAC</text><text x="1082.5" y="444.8" font-size="42" text-anchor="start" font-weight="normal" textLength="38.5" lengthAdjust="spacingAndGlyphs" >(f)</text></g><g><polygon points="111.2,944.9 105.5,948.2 99.8,944.9 99.8,938.3 105.5,935 111.2,938.3" fill="#38ad6b"/><polygon points="145.4,950.4 139.7,953.7 134,950.4 134,943.8 139.7,940.5 145.4,943.8" fill="#38ad6b"/><polygon points="179.7,955.9 174,959.2 168.3,955.9 168.3,949.3 174,946 179.7,949.3" fill="#38ad6b"/><polygon points="213.9,961.7 208.2,965 202.5,961.7 202.5,955.1 208.2,951.8 213.9,955.1" fill="#38ad6b"/><polygon points="248.1,968 242.4,971.3 236.7,968 236.7,961.4 242.4,958.1 248.1,961.4" fill="#38ad6b"/><polygon points="282.4,974.5 276.7,977.8 271,974.5 271,967.9 276.7,964.6 282.4,967.9" fill="#38ad6b"/><polygon points="316.6,981.1 310.9,984.4 305.2,981.1 305.2,974.5 310.9,971.2 316.6,974.5" fill="#38ad6b"/><polygon points="350.8,987.6 345.1,990.9 339.4,987.6 339.4,981 345.1,977.7 350.8,981" fill="#38ad6b"/><polygon points="385.1,994.8 379.4,998.1 373.7,994.8 373.7,988.2 379.4,984.9 385.1,988.2" fill="#38ad6b"/><polygon points="419.3,1002.4 413.6,1005.7 407.9,1002.4 407.9,995.8 413.6,992.5 419.3,995.8" fill="#38ad6b"/><polygon points="453.5,1009.6 447.8,1012.9 442.1,1009.6 442.1,1003 447.8,999.7 453.5,1003" fill="#38ad6b"/><polygon points="487.8,1017.5 482.1,1020.8 476.4,1017.5 476.4,1010.9 482.1,1007.6 487.8,1010.9" fill="#38ad6b"/><polygon points="522,1025.8 516.3,1029.1 510.6,1025.8 510.6,1019.2 516.3,1015.9 522,1019.2" fill="#38ad6b"/><polygon points="105.5,933.9 113.4,941.6 105.5,949.3 97.6,941.6" fill="#1b6fde"/><polygon points="139.7,947.3 147.6,955 139.7,962.8 131.8,955" fill="#1b6fde"/><polygon points="174,961.1 181.9,968.8 174,976.5 166.1,968.8" fill="#1b6fde"/><polygon points="208.2,975.2 216.1,982.9 208.2,990.7 200.3,982.9" fill="#1b6fde"/><polygon points="242.4,990.3 250.3,998 242.4,1005.8 234.5,998" fill="#1b6fde"/><polygon points="276.7,1004.4 284.6,1012.2 276.7,1019.9 268.8,1012.2" fill="#1b6fde"/><polygon points="310.9,1019.9 318.8,1027.6 310.9,1035.4 303,1027.6" fill="#1b6fde"/><polygon points="345.1,1034.3 353,1042.1 345.1,1049.8 337.2,1042.1" fill="#1b6fde"/><polygon points="379.4,1050.5 387.3,1058.2 379.4,1066 371.5,1058.2" fill="#1b6fde"/><polygon points="413.6,1065.3 421.5,1073 413.6,1080.8 405.7,1073" fill="#1b6fde"/><polygon points="447.8,1080.4 455.7,1088.2 447.8,1095.9 439.9,1088.2" fill="#1b6fde"/><polygon points="482.1,1096.9 490,1104.7 482.1,1112.4 474.2,1104.7" fill="#1b6fde"/><polygon points="516.3,1113.9 524.2,1121.6 516.3,1129.4 508.4,1121.6" fill="#1b6fde"/><circle cx="105.5" cy="941.6" r="6.3" fill="#0ccbcd"/><circle cx="139.7" cy="960.8" r="6.3" fill="#0ccbcd"/><circle cx="174" cy="980.5" r="6.3" fill="#0ccbcd"/><circle cx="208.2" cy="1000.1" r="6.3" fill="#0ccbcd"/><circle cx="242.4" cy="1020.1" r="6.3" fill="#0ccbcd"/><circle cx="276.7" cy="1040.4" r="6.3" fill="#0ccbcd"/><circle cx="310.9" cy="1060.6" r="6.3" fill="#0ccbcd"/><circle cx="345.1" cy="1081.3" r="6.3" fill="#0ccbcd"/><circle cx="379.4" cy="1102.6" r="6.3" fill="#0ccbcd"/><circle cx="413.6" cy="1123.7" r="6.3" fill="#0ccbcd"/><circle cx="447.8" cy="1145.3" r="6.3" fill="#0ccbcd"/><circle cx="482.1" cy="1167" r="6.3" fill="#0ccbcd"/><circle cx="516.3" cy="1190" r="6.3" fill="#0ccbcd"/><circle cx="105.5" cy="941.6" r="6.3" fill="url(#sp-purple)"/><circle cx="139.7" cy="978" r="6.3" fill="url(#sp-purple)"/><circle cx="174" cy="1004.5" r="6.3" fill="url(#sp-purple)"/><circle cx="208.2" cy="1029.3" r="6.3" fill="url(#sp-purple)"/><circle cx="242.4" cy="1051.8" r="6.3" fill="url(#sp-purple)"/><circle cx="276.7" cy="1075.4" r="6.3" fill="url(#sp-purple)"/><circle cx="310.9" cy="1103" r="6.3" fill="url(#sp-purple)"/><circle cx="345.1" cy="1130.2" r="6.3" fill="url(#sp-purple)"/><circle cx="379.4" cy="1158.4" r="6.3" fill="url(#sp-purple)"/><circle cx="413.6" cy="1186.6" r="6.3" fill="url(#sp-purple)"/><circle cx="447.8" cy="1214.8" r="6.3" fill="url(#sp-purple)"/><circle cx="482.1" cy="1243.4" r="6.3" fill="url(#sp-purple)"/><circle cx="516.3" cy="1274" r="6.3" fill="url(#sp-purple)"/><line x1="77.2" y1="930.7" x2="544.9" y2="930.7" stroke="#000" stroke-width="1.3" /><line x1="77.2" y1="1305.4" x2="544.9" y2="1305.4" stroke="#000" stroke-width="1.7" /><line x1="78" y1="930.7" x2="78" y2="1305.4" stroke="#000" stroke-width="1.7" /><line x1="544" y1="930.7" x2="544" y2="1305.4" stroke="#000" stroke-width="1.7" /><line x1="105.5" y1="1305.4" x2="105.5" y2="1312.8" stroke="#000" stroke-width="1.6" /><text x="105.5" y="1331.5" font-size="17.2" text-anchor="middle" font-weight="bold" >0</text><line x1="139.7" y1="1305.4" x2="139.7" y2="1312.8" stroke="#000" stroke-width="1.6" /><text x="139.7" y="1331.5" font-size="17.2" text-anchor="middle" font-weight="bold" >5</text><line x1="174" y1="1305.4" x2="174" y2="1312.8" stroke="#000" stroke-width="1.6" /><text x="174" y="1331.5" font-size="17.2" text-anchor="middle" font-weight="bold" >10</text><line x1="208.2" y1="1305.4" x2="208.2" y2="1312.8" stroke="#000" stroke-width="1.6" /><text x="208.2" y="1331.5" font-size="17.2" text-anchor="middle" font-weight="bold" >15</text><line x1="242.4" y1="1305.4" x2="242.4" y2="1312.8" stroke="#000" stroke-width="1.6" /><text x="242.4" y="1331.5" font-size="17.2" text-anchor="middle" font-weight="bold" >20</text><line x1="276.7" y1="1305.4" x2="276.7" y2="1312.8" stroke="#000" stroke-width="1.6" /><text x="276.7" y="1331.5" font-size="17.2" text-anchor="middle" font-weight="bold" >25</text><line x1="310.9" y1="1305.4" x2="310.9" y2="1312.8" stroke="#000" stroke-width="1.6" /><text x="310.9" y="1331.5" font-size="17.2" text-anchor="middle" font-weight="bold" >30</text><line x1="345.1" y1="1305.4" x2="345.1" y2="1312.8" stroke="#000" stroke-width="1.6" /><text x="345.1" y="1331.5" font-size="17.2" text-anchor="middle" font-weight="bold" >35</text><line x1="379.4" y1="1305.4" x2="379.4" y2="1312.8" stroke="#000" stroke-width="1.6" /><text x="379.4" y="1331.5" font-size="17.2" text-anchor="middle" font-weight="bold" >40</text><line x1="413.6" y1="1305.4" x2="413.6" y2="1312.8" stroke="#000" stroke-width="1.6" /><text x="413.6" y="1331.5" font-size="17.2" text-anchor="middle" font-weight="bold" >45</text><line x1="447.8" y1="1305.4" x2="447.8" y2="1312.8" stroke="#000" stroke-width="1.6" /><text x="447.8" y="1331.5" font-size="17.2" text-anchor="middle" font-weight="bold" >50</text><line x1="482.1" y1="1305.4" x2="482.1" y2="1312.8" stroke="#000" stroke-width="1.6" /><text x="482.1" y="1331.5" font-size="17.2" text-anchor="middle" font-weight="bold" >55</text><line x1="516.3" y1="1305.4" x2="516.3" y2="1312.8" stroke="#000" stroke-width="1.6" /><text x="516.3" y="1331.5" font-size="17.2" text-anchor="middle" font-weight="bold" >60</text><line x1="71.2" y1="941.6" x2="78" y2="941.6" stroke="#000" stroke-width="1.6" /><text x="64.8" y="947.4" font-size="17.2" text-anchor="end" font-weight="bold" >0.0</text><line x1="71.2" y1="998.5" x2="78" y2="998.5" stroke="#000" stroke-width="1.6" /><text x="64.8" y="1004.3" font-size="17.2" text-anchor="end" font-weight="bold" >-0.5</text><line x1="71.2" y1="1055.4" x2="78" y2="1055.4" stroke="#000" stroke-width="1.6" /><text x="64.8" y="1061.2" font-size="17.2" text-anchor="end" font-weight="bold" >-1.0</text><line x1="71.2" y1="1112.3" x2="78" y2="1112.3" stroke="#000" stroke-width="1.6" /><text x="64.8" y="1118.1" font-size="17.2" text-anchor="end" font-weight="bold" >-1.5</text><line x1="71.2" y1="1169.2" x2="78" y2="1169.2" stroke="#000" stroke-width="1.6" /><text x="64.8" y="1175" font-size="17.2" text-anchor="end" font-weight="bold" >-2.0</text><line x1="71.2" y1="1226.1" x2="78" y2="1226.1" stroke="#000" stroke-width="1.6" /><text x="64.8" y="1231.9" font-size="17.2" text-anchor="end" font-weight="bold" >-2.5</text><line x1="71.2" y1="1283" x2="78" y2="1283" stroke="#000" stroke-width="1.6" /><text x="64.8" y="1288.8" font-size="17.2" text-anchor="end" font-weight="bold" >-3.0</text><line x1="74.2" y1="970.1" x2="78" y2="970.1" stroke="#000" stroke-width="1.6" /><line x1="74.2" y1="1027" x2="78" y2="1027" stroke="#000" stroke-width="1.6" /><line x1="74.2" y1="1083.8" x2="78" y2="1083.8" stroke="#000" stroke-width="1.6" /><line x1="74.2" y1="1140.8" x2="78" y2="1140.8" stroke="#000" stroke-width="1.6" /><line x1="74.2" y1="1197.7" x2="78" y2="1197.7" stroke="#000" stroke-width="1.6" /><line x1="74.2" y1="1254.5" x2="78" y2="1254.5" stroke="#000" stroke-width="1.6" /><text x="18.5" y="1117" font-size="19" text-anchor="middle" font-weight="bold" transform="rotate(-90 18.5 1117)" textLength="180" lengthAdjust="spacingAndGlyphs" >Mass change (Kg/m<tspan dy="-8" font-size="13.5">2</tspan><tspan dy="8">)</tspan></text><text x="311" y="1364" font-size="20" text-anchor="middle" font-weight="bold" textLength="93" lengthAdjust="spacingAndGlyphs" >Time (min)</text><polygon points="116.2,1206.8 110.5,1210.1 104.8,1206.8 104.8,1200.2 110.5,1196.9 116.2,1200.2" fill="#38ad6b"/><text x="130.5" y="1209.1" font-size="19.2" text-anchor="start" font-weight="bold" textLength="58.5" lengthAdjust="spacingAndGlyphs" >0.5 sun</text><polygon points="110.5,1220.3 118.4,1228 110.5,1235.7 102.6,1228" fill="#1b6fde"/><text x="130.5" y="1233.6" font-size="19.2" text-anchor="start" font-weight="bold" textLength="58.5" lengthAdjust="spacingAndGlyphs" >1.0 sun</text><circle cx="110.5" cy="1252.5" r="6.3" fill="#0ccbcd"/><text x="130.5" y="1258.1" font-size="19.2" text-anchor="start" font-weight="bold" textLength="58.5" lengthAdjust="spacingAndGlyphs" >1.5 sun</text><circle cx="110.5" cy="1277" r="6.3" fill="url(#sp-purple)"/><text x="130.5" y="1282.6" font-size="19.2" text-anchor="start" font-weight="bold" textLength="58.5" lengthAdjust="spacingAndGlyphs" >2.0 sun</text><text x="-0.5" y="947.6" font-size="43" text-anchor="start" font-weight="bold" textLength="45" lengthAdjust="spacingAndGlyphs" >(g)</text></g><g><polyline points="643.7,1269.8 679.5,1185.4 715.2,1153.8 751,1151.3 786.8,1153.2 822.5,1147 858.3,1142 894.1,1139.5 929.8,1135.8 965.6,1132.1 1001.4,1127.1 1037.1,1125.9 1072.9,1115.9" fill="none" stroke="#38ad6b" stroke-width="2" stroke-linejoin="round" /><polygon points="649.9,1273.4 643.7,1277 637.5,1273.4 637.5,1266.2 643.7,1262.6 649.9,1266.2" fill="#38ad6b"/><polygon points="685.7,1189 679.5,1192.6 673.2,1189 673.2,1181.8 679.5,1178.2 685.7,1181.8" fill="#38ad6b"/><polygon points="721.5,1157.4 715.2,1161 709,1157.4 709,1150.2 715.2,1146.6 721.5,1150.2" fill="#38ad6b"/><polygon points="757.2,1154.9 751,1158.5 744.8,1154.9 744.8,1147.7 751,1144.1 757.2,1147.7" fill="#38ad6b"/><polygon points="793,1156.8 786.8,1160.4 780.5,1156.8 780.5,1149.6 786.8,1146 793,1149.6" fill="#38ad6b"/><polygon points="828.8,1150.6 822.5,1154.2 816.3,1150.6 816.3,1143.4 822.5,1139.8 828.8,1143.4" fill="#38ad6b"/><polygon points="864.5,1145.6 858.3,1149.2 852.1,1145.6 852.1,1138.4 858.3,1134.8 864.5,1138.4" fill="#38ad6b"/><polygon points="900.3,1143.1 894.1,1146.7 887.8,1143.1 887.8,1135.9 894.1,1132.3 900.3,1135.9" fill="#38ad6b"/><polygon points="936.1,1139.4 929.8,1143 923.6,1139.4 923.6,1132.2 929.8,1128.6 936.1,1132.2" fill="#38ad6b"/><polygon points="971.8,1135.7 965.6,1139.3 959.4,1135.7 959.4,1128.5 965.6,1124.9 971.8,1128.5" fill="#38ad6b"/><polygon points="1007.6,1130.7 1001.4,1134.3 995.1,1130.7 995.1,1123.5 1001.4,1119.9 1007.6,1123.5" fill="#38ad6b"/><polygon points="1043.4,1129.5 1037.1,1133.1 1030.9,1129.5 1030.9,1122.3 1037.1,1118.7 1043.4,1122.3" fill="#38ad6b"/><polygon points="1079.1,1119.5 1072.9,1123.1 1066.7,1119.5 1066.7,1112.3 1072.9,1108.7 1079.1,1112.3" fill="#38ad6b"/><polyline points="643.7,1269.8 679.5,1124.6 715.2,1094.8 751,1094.8 786.8,1094.8 822.5,1087.4 858.3,1073.8 894.1,1070 929.8,1066.3 965.6,1067.5 1001.4,1063.2 1037.1,1058.9 1072.9,1055.1" fill="none" stroke="#1b6fde" stroke-width="2" stroke-linejoin="round" /><polygon points="643.7,1262.1 652.9,1269.8 643.7,1277.5 634.5,1269.8" fill="#1b6fde"/><polygon points="679.5,1116.9 688.7,1124.6 679.5,1132.3 670.3,1124.6" fill="#1b6fde"/><polygon points="715.2,1087.1 724.4,1094.8 715.2,1102.5 706,1094.8" fill="#1b6fde"/><polygon points="751,1087.1 760.2,1094.8 751,1102.5 741.8,1094.8" fill="#1b6fde"/><polygon points="786.8,1087.1 796,1094.8 786.8,1102.5 777.6,1094.8" fill="#1b6fde"/><polygon points="822.5,1079.7 831.7,1087.4 822.5,1095.1 813.3,1087.4" fill="#1b6fde"/><polygon points="858.3,1066.1 867.5,1073.8 858.3,1081.5 849.1,1073.8" fill="#1b6fde"/><polygon points="894.1,1062.3 903.3,1070 894.1,1077.7 884.9,1070" fill="#1b6fde"/><polygon points="929.8,1058.6 939,1066.3 929.8,1074 920.6,1066.3" fill="#1b6fde"/><polygon points="965.6,1059.8 974.8,1067.5 965.6,1075.2 956.4,1067.5" fill="#1b6fde"/><polygon points="1001.4,1055.5 1010.6,1063.2 1001.4,1070.9 992.2,1063.2" fill="#1b6fde"/><polygon points="1037.1,1051.2 1046.3,1058.9 1037.1,1066.6 1027.9,1058.9" fill="#1b6fde"/><polygon points="1072.9,1047.4 1082.1,1055.1 1072.9,1062.8 1063.7,1055.1" fill="#1b6fde"/><polyline points="643.7,1280.4 679.5,1111 715.2,1092.4 751,1075 786.8,1069.4 822.5,1073.8 858.3,1062.6 894.1,1058.9 929.8,1048.3 965.6,1052.7 1001.4,1050.8 1037.1,1046.4 1072.9,1035.3" fill="none" stroke="#0ccbcd" stroke-width="2" stroke-linejoin="round" /><circle cx="643.7" cy="1280.4" r="6.8" fill="#0ccbcd"/><circle cx="679.5" cy="1111" r="6.8" fill="#0ccbcd"/><circle cx="715.2" cy="1092.4" r="6.8" fill="#0ccbcd"/><circle cx="751" cy="1075" r="6.8" fill="#0ccbcd"/><circle cx="786.8" cy="1069.4" r="6.8" fill="#0ccbcd"/><circle cx="822.5" cy="1073.8" r="6.8" fill="#0ccbcd"/><circle cx="858.3" cy="1062.6" r="6.8" fill="#0ccbcd"/><circle cx="894.1" cy="1058.9" r="6.8" fill="#0ccbcd"/><circle cx="929.8" cy="1048.3" r="6.8" fill="#0ccbcd"/><circle cx="965.6" cy="1052.7" r="6.8" fill="#0ccbcd"/><circle cx="1001.4" cy="1050.8" r="6.8" fill="#0ccbcd"/><circle cx="1037.1" cy="1046.4" r="6.8" fill="#0ccbcd"/><circle cx="1072.9" cy="1035.3" r="6.8" fill="#0ccbcd"/><polyline points="643.7,1269.8 679.5,1101.1 715.2,1080 751,1055.1 786.8,1044 822.5,1037.8 858.3,1025.4 894.1,1020.4 929.8,1005.5 965.6,1004.3 1001.4,1004.3 1037.1,998 1072.9,985.6" fill="none" stroke="#b177de" stroke-width="2" stroke-linejoin="round" /><circle cx="643.7" cy="1269.8" r="6.6" fill="url(#sp-purple)"/><circle cx="679.5" cy="1101.1" r="6.6" fill="url(#sp-purple)"/><circle cx="715.2" cy="1080" r="6.6" fill="url(#sp-purple)"/><circle cx="751" cy="1055.1" r="6.6" fill="url(#sp-purple)"/><circle cx="786.8" cy="1044" r="6.6" fill="url(#sp-purple)"/><circle cx="822.5" cy="1037.8" r="6.6" fill="url(#sp-purple)"/><circle cx="858.3" cy="1025.4" r="6.6" fill="url(#sp-purple)"/><circle cx="894.1" cy="1020.4" r="6.6" fill="url(#sp-purple)"/><circle cx="929.8" cy="1005.5" r="6.6" fill="url(#sp-purple)"/><circle cx="965.6" cy="1004.3" r="6.6" fill="url(#sp-purple)"/><circle cx="1001.4" cy="1004.3" r="6.6" fill="url(#sp-purple)"/><circle cx="1037.1" cy="998" r="6.6" fill="url(#sp-purple)"/><circle cx="1072.9" cy="985.6" r="6.6" fill="url(#sp-purple)"/><line x1="615" y1="936" x2="1102.4" y2="936" stroke="#000" stroke-width="2.2" /><line x1="615" y1="1308.3" x2="1102.4" y2="1308.3" stroke="#000" stroke-width="1.8" /><line x1="615.6" y1="936" x2="615.6" y2="1308.3" stroke="#000" stroke-width="1.2" /><line x1="1101.6" y1="936" x2="1101.6" y2="1308.3" stroke="#000" stroke-width="1.7" /><line x1="643.7" y1="1308.3" x2="643.7" y2="1315.7" stroke="#000" stroke-width="1.9" /><text x="643.7" y="1334.8" font-size="18.8" text-anchor="middle" font-weight="bold" >0</text><line x1="715.2" y1="1308.3" x2="715.2" y2="1315.7" stroke="#000" stroke-width="1.9" /><text x="715.2" y="1334.8" font-size="18.8" text-anchor="middle" font-weight="bold" textLength="17.7" lengthAdjust="spacingAndGlyphs" >10</text><line x1="786.8" y1="1308.3" x2="786.8" y2="1315.7" stroke="#000" stroke-width="1.9" /><text x="786.8" y="1334.8" font-size="18.8" text-anchor="middle" font-weight="bold" textLength="17.7" lengthAdjust="spacingAndGlyphs" >20</text><line x1="858.3" y1="1308.3" x2="858.3" y2="1315.7" stroke="#000" stroke-width="1.9" /><text x="858.3" y="1334.8" font-size="18.8" text-anchor="middle" font-weight="bold" textLength="17.7" lengthAdjust="spacingAndGlyphs" >30</text><line x1="929.8" y1="1308.3" x2="929.8" y2="1315.7" stroke="#000" stroke-width="1.9" /><text x="929.8" y="1334.8" font-size="18.8" text-anchor="middle" font-weight="bold" textLength="17.7" lengthAdjust="spacingAndGlyphs" >40</text><line x1="1001.4" y1="1308.3" x2="1001.4" y2="1315.7" stroke="#000" stroke-width="1.9" /><text x="1001.4" y="1334.8" font-size="18.8" text-anchor="middle" font-weight="bold" textLength="17.7" lengthAdjust="spacingAndGlyphs" >50</text><line x1="1072.9" y1="1308.3" x2="1072.9" y2="1315.7" stroke="#000" stroke-width="1.9" /><text x="1072.9" y="1334.8" font-size="18.8" text-anchor="middle" font-weight="bold" textLength="17.7" lengthAdjust="spacingAndGlyphs" >60</text><line x1="679.5" y1="1308.3" x2="679.5" y2="1311.6" stroke="#000" stroke-width="1.9" /><line x1="751" y1="1308.3" x2="751" y2="1311.6" stroke="#000" stroke-width="1.9" /><line x1="822.5" y1="1308.3" x2="822.5" y2="1311.6" stroke="#000" stroke-width="1.9" /><line x1="894.1" y1="1308.3" x2="894.1" y2="1311.6" stroke="#000" stroke-width="1.9" /><line x1="965.6" y1="1308.3" x2="965.6" y2="1311.6" stroke="#000" stroke-width="1.9" /><line x1="1037.1" y1="1308.3" x2="1037.1" y2="1311.6" stroke="#000" stroke-width="1.9" /><line x1="608.1" y1="1308.3" x2="615.6" y2="1308.3" stroke="#000" stroke-width="1.6" /><text x="602" y="1314.7" font-size="18.8" text-anchor="end" font-weight="bold" textLength="17.7" lengthAdjust="spacingAndGlyphs" >15</text><line x1="608.1" y1="1246.2" x2="615.6" y2="1246.2" stroke="#000" stroke-width="1.6" /><text x="602" y="1252.6" font-size="18.8" text-anchor="end" font-weight="bold" textLength="17.7" lengthAdjust="spacingAndGlyphs" >20</text><line x1="608.1" y1="1184.2" x2="615.6" y2="1184.2" stroke="#000" stroke-width="1.6" /><text x="602" y="1190.6" font-size="18.8" text-anchor="end" font-weight="bold" textLength="17.7" lengthAdjust="spacingAndGlyphs" >25</text><line x1="608.1" y1="1122.2" x2="615.6" y2="1122.2" stroke="#000" stroke-width="1.6" /><text x="602" y="1128.5" font-size="18.8" text-anchor="end" font-weight="bold" textLength="17.7" lengthAdjust="spacingAndGlyphs" >30</text><line x1="608.1" y1="1060.1" x2="615.6" y2="1060.1" stroke="#000" stroke-width="1.6" /><text x="602" y="1066.5" font-size="18.8" text-anchor="end" font-weight="bold" textLength="17.7" lengthAdjust="spacingAndGlyphs" >35</text><line x1="608.1" y1="998" x2="615.6" y2="998" stroke="#000" stroke-width="1.6" /><text x="602" y="1004.4" font-size="18.8" text-anchor="end" font-weight="bold" textLength="17.7" lengthAdjust="spacingAndGlyphs" >40</text><line x1="608.1" y1="936" x2="615.6" y2="936" stroke="#000" stroke-width="1.6" /><text x="602" y="942.4" font-size="18.8" text-anchor="end" font-weight="bold" textLength="17.7" lengthAdjust="spacingAndGlyphs" >45</text><line x1="611.8" y1="1277.3" x2="615.6" y2="1277.3" stroke="#000" stroke-width="1.6" /><line x1="611.8" y1="1215.2" x2="615.6" y2="1215.2" stroke="#000" stroke-width="1.6" /><line x1="611.8" y1="1153.2" x2="615.6" y2="1153.2" stroke="#000" stroke-width="1.6" /><line x1="611.8" y1="1091.1" x2="615.6" y2="1091.1" stroke="#000" stroke-width="1.6" /><line x1="611.8" y1="1029.1" x2="615.6" y2="1029.1" stroke="#000" stroke-width="1.6" /><line x1="611.8" y1="967" x2="615.6" y2="967" stroke="#000" stroke-width="1.6" /><text x="574" y="1127" font-size="18.5" text-anchor="middle" font-weight="bold" transform="rotate(-90 574 1127)" textLength="153" lengthAdjust="spacingAndGlyphs" >Temperature (°C )</text><text x="859" y="1361" font-size="20" text-anchor="middle" font-weight="bold" textLength="97" lengthAdjust="spacingAndGlyphs" >Time (min)</text><line x1="981" y1="1206.5" x2="1028" y2="1206.5" stroke="#38ad6b" stroke-width="2" /><polygon points="1010.7,1210.1 1004.5,1213.7 998.3,1210.1 998.3,1202.9 1004.5,1199.3 1010.7,1202.9" fill="#38ad6b"/><text x="1032.5" y="1213" font-size="19.5" text-anchor="start" font-weight="bold" textLength="60" lengthAdjust="spacingAndGlyphs" >0.5 sun</text><line x1="981" y1="1230.7" x2="1028" y2="1230.7" stroke="#1b6fde" stroke-width="2" /><polygon points="1004.5,1223 1013.7,1230.7 1004.5,1238.4 995.3,1230.7" fill="#1b6fde"/><text x="1032.5" y="1237.2" font-size="19.5" text-anchor="start" font-weight="bold" textLength="60" lengthAdjust="spacingAndGlyphs" >1.0 sun</text><line x1="981" y1="1254.9" x2="1028" y2="1254.9" stroke="#0ccbcd" stroke-width="2" /><circle cx="1004.5" cy="1254.9" r="6.8" fill="#0ccbcd"/><text x="1032.5" y="1261.4" font-size="19.5" text-anchor="start" font-weight="bold" textLength="60" lengthAdjust="spacingAndGlyphs" >1.5 sun</text><line x1="981" y1="1279.1" x2="1028" y2="1279.1" stroke="#b177de" stroke-width="2" /><circle cx="1004.5" cy="1279.1" r="6.6" fill="url(#sp-purple)"/><text x="1032.5" y="1285.6" font-size="19.5" text-anchor="start" font-weight="bold" textLength="60" lengthAdjust="spacingAndGlyphs" >2.0 sun</text><text x="539.5" y="949" font-size="43" text-anchor="start" font-weight="bold" textLength="48" lengthAdjust="spacingAndGlyphs" >(h)</text></g>
<g><defs><linearGradient id="gbl" x1="0" y1="0" x2="1" y2="0"><stop offset="0" stop-color="#4a9fe2"/><stop offset="0.5" stop-color="#8fcdf6"/><stop offset="1" stop-color="#4a9fe2"/></linearGradient><linearGradient id="gpu" x1="0" y1="0" x2="1" y2="0"><stop offset="0" stop-color="#6a3fa2"/><stop offset="0.5" stop-color="#a87ddc"/><stop offset="1" stop-color="#6a3fa2"/></linearGradient></defs><rect x="1192.3" y="1274.6" width="40.2" height="25" fill="url(#gbl)" stroke="#000" stroke-width="1.2"/><rect x="1232.5" y="1099.7" width="40.2" height="199.9" fill="url(#gpu)" stroke="#000" stroke-width="1.6"/><rect x="1292.7" y="1170.8" width="40.2" height="128.8" fill="url(#gbl)" stroke="#000" stroke-width="1.2"/><rect x="1332.9" y="1072.7" width="40.2" height="226.9" fill="url(#gpu)" stroke="#000" stroke-width="1.6"/><rect x="1393.3" y="1099.3" width="40.2" height="200.3" fill="url(#gbl)" stroke="#000" stroke-width="1.2"/><rect x="1433.5" y="1070.8" width="40.2" height="228.8" fill="url(#gpu)" stroke="#000" stroke-width="1.6"/><rect x="1493.6" y="1011.1" width="40.2" height="288.5" fill="url(#gbl)" stroke="#000" stroke-width="1.2"/><rect x="1533.8" y="1065.2" width="40.2" height="234.4" fill="url(#gpu)" stroke="#000" stroke-width="1.6"/><line x1="1171.9" y1="941.9" x2="1595" y2="941.9" stroke="#000" stroke-width="1.3" /><line x1="1171.9" y1="1299.6" x2="1595" y2="1299.6" stroke="#000" stroke-width="1.3" /><line x1="1172.6" y1="941.9" x2="1172.6" y2="1299.6" stroke="#000" stroke-width="1.3" /><line x1="1594.2" y1="941.9" x2="1594.2" y2="1299.6" stroke="#000" stroke-width="1.7" /><line x1="1232.5" y1="1299.6" x2="1232.5" y2="1306.8" stroke="#000" stroke-width="1.4" /><text x="1232.5" y="1324.6" font-size="16.6" text-anchor="middle" font-weight="bold" >0.5</text><line x1="1332.9" y1="1299.6" x2="1332.9" y2="1306.8" stroke="#000" stroke-width="1.4" /><text x="1332.9" y="1324.6" font-size="16.6" text-anchor="middle" font-weight="bold" >1.0</text><line x1="1433.5" y1="1299.6" x2="1433.5" y2="1306.8" stroke="#000" stroke-width="1.4" /><text x="1433.5" y="1324.6" font-size="16.6" text-anchor="middle" font-weight="bold" >1.5</text><line x1="1533.8" y1="1299.6" x2="1533.8" y2="1306.8" stroke="#000" stroke-width="1.4" /><text x="1533.8" y="1324.6" font-size="16.6" text-anchor="middle" font-weight="bold" >2.0</text><line x1="1182.3" y1="1299.6" x2="1182.3" y2="1303.1" stroke="#000" stroke-width="1.5" /><line x1="1282.7" y1="1299.6" x2="1282.7" y2="1303.1" stroke="#000" stroke-width="1.5" /><line x1="1383.2" y1="1299.6" x2="1383.2" y2="1303.1" stroke="#000" stroke-width="1.5" /><line x1="1483.6" y1="1299.6" x2="1483.6" y2="1303.1" stroke="#000" stroke-width="1.5" /><line x1="1584" y1="1299.6" x2="1584" y2="1303.1" stroke="#000" stroke-width="1.5" /><line x1="1166.3" y1="1299.6" x2="1172.6" y2="1299.6" stroke="#000" stroke-width="1.5" /><text x="1161.1" y="1305.2" font-size="16.6" text-anchor="end" font-weight="bold" >0.5</text><line x1="1166.3" y1="1240" x2="1172.6" y2="1240" stroke="#000" stroke-width="1.5" /><text x="1161.1" y="1245.6" font-size="16.6" text-anchor="end" font-weight="bold" >1.0</text><line x1="1166.3" y1="1180.4" x2="1172.6" y2="1180.4" stroke="#000" stroke-width="1.5" /><text x="1161.1" y="1186" font-size="16.6" text-anchor="end" font-weight="bold" >1.5</text><line x1="1166.3" y1="1120.8" x2="1172.6" y2="1120.8" stroke="#000" stroke-width="1.5" /><text x="1161.1" y="1126.4" font-size="16.6" text-anchor="end" font-weight="bold" >2.0</text><line x1="1166.3" y1="1061.1" x2="1172.6" y2="1061.1" stroke="#000" stroke-width="1.5" /><text x="1161.1" y="1066.8" font-size="16.6" text-anchor="end" font-weight="bold" >2.5</text><line x1="1166.3" y1="1001.5" x2="1172.6" y2="1001.5" stroke="#000" stroke-width="1.5" /><text x="1161.1" y="1007.2" font-size="16.6" text-anchor="end" font-weight="bold" >3.0</text><line x1="1166.3" y1="941.9" x2="1172.6" y2="941.9" stroke="#000" stroke-width="1.5" /><text x="1161.1" y="947.5" font-size="16.6" text-anchor="end" font-weight="bold" >3.5</text><line x1="1169.1" y1="1269.8" x2="1172.6" y2="1269.8" stroke="#000" stroke-width="1.5" /><line x1="1169.1" y1="1210.2" x2="1172.6" y2="1210.2" stroke="#000" stroke-width="1.5" /><line x1="1169.1" y1="1150.6" x2="1172.6" y2="1150.6" stroke="#000" stroke-width="1.5" /><line x1="1169.1" y1="1090.9" x2="1172.6" y2="1090.9" stroke="#000" stroke-width="1.5" /><line x1="1169.1" y1="1031.3" x2="1172.6" y2="1031.3" stroke="#000" stroke-width="1.5" /><line x1="1169.1" y1="971.7" x2="1172.6" y2="971.7" stroke="#000" stroke-width="1.5" /><line x1="1594.2" y1="1299.6" x2="1600.8" y2="1299.6" stroke="#000" stroke-width="1.5" /><text x="1607" y="1305.2" font-size="16.6" text-anchor="start" font-weight="bold" >75</text><line x1="1594.2" y1="1228.1" x2="1600.8" y2="1228.1" stroke="#000" stroke-width="1.5" /><text x="1607" y="1233.7" font-size="16.6" text-anchor="start" font-weight="bold" >80</text><line x1="1594.2" y1="1156.5" x2="1600.8" y2="1156.5" stroke="#000" stroke-width="1.5" /><text x="1607" y="1162.2" font-size="16.6" text-anchor="start" font-weight="bold" >85</text><line x1="1594.2" y1="1085" x2="1600.8" y2="1085" stroke="#000" stroke-width="1.5" /><text x="1607" y="1090.6" font-size="16.6" text-anchor="start" font-weight="bold" >90</text><line x1="1594.2" y1="1013.4" x2="1600.8" y2="1013.4" stroke="#000" stroke-width="1.5" /><text x="1607" y="1019.1" font-size="16.6" text-anchor="start" font-weight="bold" >95</text><line x1="1594.2" y1="941.9" x2="1600.8" y2="941.9" stroke="#000" stroke-width="1.5" /><text x="1607" y="947.5" font-size="16.6" text-anchor="start" font-weight="bold" >100</text><line x1="1594.2" y1="1263.8" x2="1597.7" y2="1263.8" stroke="#000" stroke-width="1.5" /><line x1="1594.2" y1="1192.3" x2="1597.7" y2="1192.3" stroke="#000" stroke-width="1.5" /><line x1="1594.2" y1="1120.8" x2="1597.7" y2="1120.8" stroke="#000" stroke-width="1.5" /><line x1="1594.2" y1="1049.2" x2="1597.7" y2="1049.2" stroke="#000" stroke-width="1.5" /><line x1="1594.2" y1="977.7" x2="1597.7" y2="977.7" stroke="#000" stroke-width="1.5" /><text x="1130.5" y="1120" font-size="18" text-anchor="middle" font-weight="bold" transform="rotate(-90 1130.5 1120)" textLength="223" lengthAdjust="spacingAndGlyphs" >Evaporation rate (Kg/m<tspan dy="-8" font-size="15">2</tspan><tspan dy="8"> h)</tspan></text><text x="1637" y="1120" font-size="18.5" text-anchor="middle" font-weight="bold" transform="rotate(90 1637 1120)" textLength="114" lengthAdjust="spacingAndGlyphs" >Efficiency (%)</text><text x="1383" y="1362" font-size="21" text-anchor="middle" font-weight="bold" textLength="116" lengthAdjust="spacingAndGlyphs" >C<tspan dy="5" font-size="17">opt</tspan><tspan dy="-5"> (kW m</tspan><tspan dy="-9" font-size="17">-2</tspan><tspan dy="9">)</tspan></text><rect x="1281.6" y="952.7" width="35" height="18.7" fill="url(#gbl)" stroke="#000" stroke-width="1.2"/><text x="1322.5" y="967.5" font-size="18.5" text-anchor="start" font-weight="bold" textLength="34" lengthAdjust="spacingAndGlyphs" >Rate</text><rect x="1383.7" y="951.8" width="38.8" height="20.5" fill="url(#gpu)" stroke="#000" stroke-width="1.8"/><text x="1427.5" y="967.5" font-size="18.5" text-anchor="start" font-weight="bold" textLength="75" lengthAdjust="spacingAndGlyphs" >Efficiency</text><text x="1251.5" y="1090.7" font-size="19" text-anchor="middle" font-weight="bold" textLength="56" lengthAdjust="spacingAndGlyphs" >88.97%</text><text x="1354.4" y="1063.7" font-size="19" text-anchor="middle" font-weight="bold" textLength="56" lengthAdjust="spacingAndGlyphs" >90.86%</text><text x="1457.5" y="1061.8" font-size="19" text-anchor="middle" font-weight="bold" textLength="56" lengthAdjust="spacingAndGlyphs" >90.99%</text><text x="1560.8" y="1056.2" font-size="19" text-anchor="middle" font-weight="bold" textLength="56" lengthAdjust="spacingAndGlyphs" >91.38%</text><text x="1099.5" y="949" font-size="43" text-anchor="start" font-weight="bold" textLength="36.5" lengthAdjust="spacingAndGlyphs" >(i)</text></g>
</svg></body></html>
